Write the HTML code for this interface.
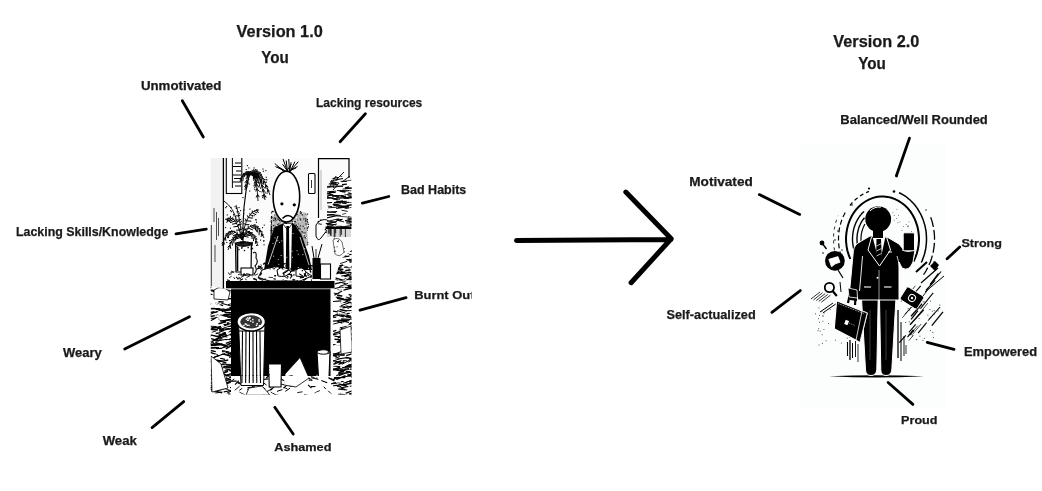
<!DOCTYPE html>
<html><head><meta charset="utf-8"><style>
html,body{margin:0;padding:0;background:#fff;width:1042px;height:491px;overflow:hidden}
svg{position:absolute;left:0;top:0;display:block;will-change:transform}
text{font-family:"Liberation Sans",sans-serif;font-weight:bold;fill:#1a1a1a;stroke:#1a1a1a;stroke-width:0.25px}
</style></head><body>
<svg width="1042" height="491" viewBox="0 0 1042 491">
<g id="leftimg"><clipPath id="lclip"><rect x="210.5" y="158" width="141.0" height="236.5"/></clipPath>
<g clip-path="url(#lclip)">
<rect x="210.5" y="158" width="141.0" height="236.5" fill="#fbfbfb"/>
<rect x="210.5" y="158" width="12" height="130" fill="#f2f2f2"/>
<line x1="223.4" y1="158" x2="223.4" y2="290" stroke="#000" stroke-width="1.3"/>
<rect x="226.3" y="157" width="15.5" height="36.5" fill="none" stroke="#000" stroke-width="1.1"/>
<line x1="235" y1="163" x2="241" y2="163" stroke="#000" stroke-width="1.1"/>
<line x1="233" y1="166.5" x2="241" y2="166.5" stroke="#000" stroke-width="1.1"/>
<line x1="236" y1="171" x2="241" y2="171" stroke="#000" stroke-width="1.1"/>
<line x1="233" y1="175" x2="241" y2="175" stroke="#000" stroke-width="1.1"/>
<line x1="234" y1="178.5" x2="241" y2="178.5" stroke="#000" stroke-width="1.1"/>
<line x1="233" y1="182" x2="241" y2="182" stroke="#000" stroke-width="1.1"/>
<line x1="235" y1="186" x2="241" y2="186" stroke="#000" stroke-width="1.1"/>
<line x1="232.4" y1="158" x2="232.4" y2="188" stroke="#000" stroke-width="1.0"/>
<rect x="308.5" y="173.5" width="6.5" height="20" rx="1" fill="#fff" stroke="#000" stroke-width="1.1"/>
<line x1="311.5" y1="180" x2="311.5" y2="188" stroke="#000" stroke-width="0.8"/>
<path d="M318.5 218 L318.5 158.6 L349 158.6 L349 178" fill="none" stroke="#000" stroke-width="1.2"/>
<line x1="321" y1="170" x2="321" y2="210" stroke="#888" stroke-width="0.6"/>
<path d="M243.0 243.0 Q242.0 205.0 249.0 176.0" fill="none" stroke="#000" stroke-width="1.1"/>
<path d="M224 201 Q234 208 237 222" fill="none" stroke="#000" stroke-width="0.9"/>
<path d="M249.0 176.0 Q257.0 160.0 270.0 195.0" fill="none" stroke="#000" stroke-width="0.9"/>
<line x1="250.4" y1="173.7" x2="255.2" y2="175.1" stroke="#000" stroke-width="1.0"/>
<line x1="250.4" y1="173.7" x2="249.9" y2="171.2" stroke="#000" stroke-width="1.0"/>
<line x1="251.8" y1="172.1" x2="256.0" y2="174.3" stroke="#000" stroke-width="1.0"/>
<line x1="251.8" y1="172.1" x2="252.4" y2="170.0" stroke="#000" stroke-width="1.0"/>
<line x1="253.3" y1="171.2" x2="258.2" y2="175.8" stroke="#000" stroke-width="1.0"/>
<line x1="253.3" y1="171.2" x2="255.9" y2="169.2" stroke="#000" stroke-width="1.0"/>
<line x1="254.9" y1="171.0" x2="257.3" y2="175.4" stroke="#000" stroke-width="1.0"/>
<line x1="254.9" y1="171.0" x2="257.8" y2="170.7" stroke="#000" stroke-width="1.0"/>
<line x1="256.5" y1="171.5" x2="258.1" y2="177.8" stroke="#000" stroke-width="1.0"/>
<line x1="256.5" y1="171.5" x2="260.8" y2="172.6" stroke="#000" stroke-width="1.0"/>
<line x1="258.2" y1="172.8" x2="258.7" y2="178.3" stroke="#000" stroke-width="1.0"/>
<line x1="258.2" y1="172.8" x2="262.0" y2="174.6" stroke="#000" stroke-width="1.0"/>
<line x1="260.0" y1="174.7" x2="259.9" y2="179.0" stroke="#000" stroke-width="1.0"/>
<line x1="260.0" y1="174.7" x2="262.8" y2="176.6" stroke="#000" stroke-width="1.0"/>
<line x1="261.9" y1="177.3" x2="261.3" y2="182.4" stroke="#000" stroke-width="1.0"/>
<line x1="261.9" y1="177.3" x2="265.2" y2="180.0" stroke="#000" stroke-width="1.0"/>
<line x1="263.8" y1="180.7" x2="263.2" y2="184.2" stroke="#000" stroke-width="1.0"/>
<line x1="263.8" y1="180.7" x2="266.0" y2="182.7" stroke="#000" stroke-width="1.0"/>
<line x1="265.8" y1="184.8" x2="265.0" y2="188.8" stroke="#000" stroke-width="1.0"/>
<line x1="265.8" y1="184.8" x2="268.3" y2="187.2" stroke="#000" stroke-width="1.0"/>
<line x1="267.9" y1="189.5" x2="267.2" y2="192.4" stroke="#000" stroke-width="1.0"/>
<line x1="267.9" y1="189.5" x2="269.7" y2="191.4" stroke="#000" stroke-width="1.0"/>
<path d="M249.0 176.0 Q260.0 166.0 265.0 200.0" fill="none" stroke="#000" stroke-width="0.9"/>
<line x1="251.0" y1="174.5" x2="254.7" y2="177.2" stroke="#000" stroke-width="1.0"/>
<line x1="251.0" y1="174.5" x2="252.2" y2="172.8" stroke="#000" stroke-width="1.0"/>
<line x1="252.8" y1="173.8" x2="256.6" y2="178.2" stroke="#000" stroke-width="1.0"/>
<line x1="252.8" y1="173.8" x2="255.4" y2="172.5" stroke="#000" stroke-width="1.0"/>
<line x1="254.6" y1="173.8" x2="257.5" y2="180.4" stroke="#000" stroke-width="1.0"/>
<line x1="254.6" y1="173.8" x2="258.9" y2="173.8" stroke="#000" stroke-width="1.0"/>
<line x1="256.2" y1="174.5" x2="257.0" y2="179.3" stroke="#000" stroke-width="1.0"/>
<line x1="256.2" y1="174.5" x2="259.4" y2="175.7" stroke="#000" stroke-width="1.0"/>
<line x1="257.8" y1="176.0" x2="257.6" y2="180.8" stroke="#000" stroke-width="1.0"/>
<line x1="257.8" y1="176.0" x2="260.9" y2="178.1" stroke="#000" stroke-width="1.0"/>
<line x1="259.2" y1="178.2" x2="258.4" y2="183.6" stroke="#000" stroke-width="1.0"/>
<line x1="259.2" y1="178.2" x2="262.7" y2="181.3" stroke="#000" stroke-width="1.0"/>
<line x1="260.6" y1="181.1" x2="259.2" y2="186.7" stroke="#000" stroke-width="1.0"/>
<line x1="260.6" y1="181.1" x2="264.1" y2="184.8" stroke="#000" stroke-width="1.0"/>
<line x1="261.8" y1="184.7" x2="260.6" y2="189.0" stroke="#000" stroke-width="1.0"/>
<line x1="261.8" y1="184.7" x2="264.4" y2="187.8" stroke="#000" stroke-width="1.0"/>
<line x1="263.0" y1="189.1" x2="261.8" y2="192.5" stroke="#000" stroke-width="1.0"/>
<line x1="263.0" y1="189.1" x2="265.0" y2="191.8" stroke="#000" stroke-width="1.0"/>
<line x1="264.0" y1="194.2" x2="262.5" y2="198.1" stroke="#000" stroke-width="1.0"/>
<line x1="264.0" y1="194.2" x2="266.4" y2="197.4" stroke="#000" stroke-width="1.0"/>
<path d="M249.0 176.0 Q256.0 165.0 258.0 201.0" fill="none" stroke="#000" stroke-width="0.9"/>
<line x1="250.4" y1="174.3" x2="254.0" y2="175.9" stroke="#000" stroke-width="1.0"/>
<line x1="250.4" y1="174.3" x2="250.6" y2="172.4" stroke="#000" stroke-width="1.0"/>
<line x1="251.6" y1="173.5" x2="256.4" y2="178.6" stroke="#000" stroke-width="1.0"/>
<line x1="251.6" y1="173.5" x2="254.6" y2="171.7" stroke="#000" stroke-width="1.0"/>
<line x1="252.7" y1="173.6" x2="254.0" y2="179.1" stroke="#000" stroke-width="1.0"/>
<line x1="252.7" y1="173.6" x2="256.4" y2="174.7" stroke="#000" stroke-width="1.0"/>
<line x1="253.8" y1="174.7" x2="253.3" y2="179.4" stroke="#000" stroke-width="1.0"/>
<line x1="253.8" y1="174.7" x2="256.9" y2="177.2" stroke="#000" stroke-width="1.0"/>
<line x1="254.8" y1="176.8" x2="253.7" y2="180.9" stroke="#000" stroke-width="1.0"/>
<line x1="254.8" y1="176.8" x2="257.3" y2="179.6" stroke="#000" stroke-width="1.0"/>
<line x1="255.6" y1="179.7" x2="254.2" y2="183.8" stroke="#000" stroke-width="1.0"/>
<line x1="255.6" y1="179.7" x2="258.0" y2="182.9" stroke="#000" stroke-width="1.0"/>
<line x1="256.4" y1="183.6" x2="254.5" y2="188.3" stroke="#000" stroke-width="1.0"/>
<line x1="256.4" y1="183.6" x2="259.0" y2="187.6" stroke="#000" stroke-width="1.0"/>
<line x1="257.0" y1="188.5" x2="255.7" y2="191.4" stroke="#000" stroke-width="1.0"/>
<line x1="257.0" y1="188.5" x2="258.7" y2="191.1" stroke="#000" stroke-width="1.0"/>
<line x1="257.6" y1="194.3" x2="256.1" y2="197.5" stroke="#000" stroke-width="1.0"/>
<line x1="257.6" y1="194.3" x2="259.3" y2="197.2" stroke="#000" stroke-width="1.0"/>
<path d="M249.0 176.0 Q250.0 163.0 245.0 190.0" fill="none" stroke="#000" stroke-width="0.9"/>
<line x1="249.1" y1="173.6" x2="252.3" y2="172.6" stroke="#000" stroke-width="1.0"/>
<line x1="249.1" y1="173.6" x2="246.2" y2="172.3" stroke="#000" stroke-width="1.0"/>
<line x1="249.1" y1="172.2" x2="251.4" y2="171.1" stroke="#000" stroke-width="1.0"/>
<line x1="249.1" y1="172.2" x2="246.5" y2="171.5" stroke="#000" stroke-width="1.0"/>
<line x1="249.0" y1="171.8" x2="245.6" y2="172.2" stroke="#000" stroke-width="1.0"/>
<line x1="249.0" y1="171.8" x2="247.1" y2="176.9" stroke="#000" stroke-width="1.0"/>
<line x1="248.7" y1="172.3" x2="246.4" y2="174.9" stroke="#000" stroke-width="1.0"/>
<line x1="248.7" y1="172.3" x2="249.7" y2="176.0" stroke="#000" stroke-width="1.0"/>
<line x1="248.3" y1="173.9" x2="246.3" y2="176.4" stroke="#000" stroke-width="1.0"/>
<line x1="248.3" y1="173.9" x2="249.3" y2="177.1" stroke="#000" stroke-width="1.0"/>
<line x1="247.7" y1="176.4" x2="245.8" y2="179.0" stroke="#000" stroke-width="1.0"/>
<line x1="247.7" y1="176.4" x2="248.8" y2="179.6" stroke="#000" stroke-width="1.0"/>
<line x1="246.9" y1="180.0" x2="244.8" y2="182.9" stroke="#000" stroke-width="1.0"/>
<line x1="246.9" y1="180.0" x2="248.3" y2="183.6" stroke="#000" stroke-width="1.0"/>
<line x1="246.0" y1="184.5" x2="244.4" y2="186.8" stroke="#000" stroke-width="1.0"/>
<line x1="246.0" y1="184.5" x2="247.1" y2="187.3" stroke="#000" stroke-width="1.0"/>
<path d="M249.0 176.0 Q245.0 168.0 240.0 182.0" fill="none" stroke="#000" stroke-width="0.9"/>
<line x1="247.8" y1="174.2" x2="247.9" y2="172.6" stroke="#000" stroke-width="1.0"/>
<line x1="247.8" y1="174.2" x2="244.8" y2="175.3" stroke="#000" stroke-width="1.0"/>
<line x1="246.6" y1="173.2" x2="245.2" y2="172.0" stroke="#000" stroke-width="1.0"/>
<line x1="246.6" y1="173.2" x2="243.7" y2="175.9" stroke="#000" stroke-width="1.0"/>
<line x1="245.4" y1="173.2" x2="243.0" y2="173.4" stroke="#000" stroke-width="1.0"/>
<line x1="245.4" y1="173.2" x2="244.0" y2="176.8" stroke="#000" stroke-width="1.0"/>
<line x1="244.1" y1="174.0" x2="242.0" y2="175.2" stroke="#000" stroke-width="1.0"/>
<line x1="244.1" y1="174.0" x2="244.0" y2="177.3" stroke="#000" stroke-width="1.0"/>
<line x1="242.8" y1="175.8" x2="240.5" y2="177.7" stroke="#000" stroke-width="1.0"/>
<line x1="242.8" y1="175.8" x2="243.2" y2="179.4" stroke="#000" stroke-width="1.0"/>
<line x1="241.4" y1="178.4" x2="239.6" y2="180.2" stroke="#000" stroke-width="1.0"/>
<line x1="241.4" y1="178.4" x2="242.0" y2="181.3" stroke="#000" stroke-width="1.0"/>
<path d="M242.0 240.0 Q246.0 210.0 259.0 210.0" fill="none" stroke="#000" stroke-width="0.9"/>
<line x1="242.9" y1="234.3" x2="246.6" y2="233.7" stroke="#000" stroke-width="1.0"/>
<line x1="242.9" y1="234.3" x2="240.5" y2="232.6" stroke="#000" stroke-width="1.0"/>
<line x1="244.0" y1="229.2" x2="248.3" y2="228.8" stroke="#000" stroke-width="1.0"/>
<line x1="244.0" y1="229.2" x2="241.5" y2="227.2" stroke="#000" stroke-width="1.0"/>
<line x1="245.2" y1="224.7" x2="249.3" y2="224.6" stroke="#000" stroke-width="1.0"/>
<line x1="245.2" y1="224.7" x2="243.3" y2="222.7" stroke="#000" stroke-width="1.0"/>
<line x1="246.6" y1="220.8" x2="251.3" y2="221.2" stroke="#000" stroke-width="1.0"/>
<line x1="246.6" y1="220.8" x2="245.0" y2="218.5" stroke="#000" stroke-width="1.0"/>
<line x1="248.2" y1="217.5" x2="252.5" y2="218.3" stroke="#000" stroke-width="1.0"/>
<line x1="248.2" y1="217.5" x2="247.3" y2="215.3" stroke="#000" stroke-width="1.0"/>
<line x1="250.0" y1="214.8" x2="253.2" y2="215.8" stroke="#000" stroke-width="1.0"/>
<line x1="250.0" y1="214.8" x2="249.8" y2="213.2" stroke="#000" stroke-width="1.0"/>
<line x1="252.0" y1="212.7" x2="256.2" y2="214.8" stroke="#000" stroke-width="1.0"/>
<line x1="252.0" y1="212.7" x2="252.5" y2="210.6" stroke="#000" stroke-width="1.0"/>
<line x1="254.2" y1="211.2" x2="256.5" y2="212.9" stroke="#000" stroke-width="1.0"/>
<line x1="254.2" y1="211.2" x2="255.0" y2="210.2" stroke="#000" stroke-width="1.0"/>
<line x1="256.5" y1="210.3" x2="258.7" y2="212.7" stroke="#000" stroke-width="1.0"/>
<line x1="256.5" y1="210.3" x2="257.9" y2="209.5" stroke="#000" stroke-width="1.0"/>
<path d="M242.0 240.0 Q252.0 212.0 264.0 238.0" fill="none" stroke="#000" stroke-width="0.9"/>
<line x1="244.0" y1="234.9" x2="249.6" y2="235.5" stroke="#000" stroke-width="1.0"/>
<line x1="244.0" y1="234.9" x2="242.2" y2="232.2" stroke="#000" stroke-width="1.0"/>
<line x1="246.1" y1="231.0" x2="250.0" y2="231.8" stroke="#000" stroke-width="1.0"/>
<line x1="246.1" y1="231.0" x2="245.3" y2="229.0" stroke="#000" stroke-width="1.0"/>
<line x1="248.2" y1="228.1" x2="252.8" y2="229.9" stroke="#000" stroke-width="1.0"/>
<line x1="248.2" y1="228.1" x2="248.2" y2="225.7" stroke="#000" stroke-width="1.0"/>
<line x1="250.3" y1="226.2" x2="253.6" y2="228.5" stroke="#000" stroke-width="1.0"/>
<line x1="250.3" y1="226.2" x2="251.3" y2="224.7" stroke="#000" stroke-width="1.0"/>
<line x1="252.5" y1="225.5" x2="256.0" y2="230.3" stroke="#000" stroke-width="1.0"/>
<line x1="252.5" y1="225.5" x2="255.5" y2="224.5" stroke="#000" stroke-width="1.0"/>
<line x1="254.7" y1="225.8" x2="256.6" y2="231.6" stroke="#000" stroke-width="1.0"/>
<line x1="254.7" y1="225.8" x2="258.6" y2="226.5" stroke="#000" stroke-width="1.0"/>
<line x1="257.0" y1="227.3" x2="257.4" y2="232.4" stroke="#000" stroke-width="1.0"/>
<line x1="257.0" y1="227.3" x2="260.4" y2="228.9" stroke="#000" stroke-width="1.0"/>
<line x1="259.3" y1="229.8" x2="259.0" y2="235.1" stroke="#000" stroke-width="1.0"/>
<line x1="259.3" y1="229.8" x2="262.8" y2="232.2" stroke="#000" stroke-width="1.0"/>
<line x1="261.6" y1="233.3" x2="261.1" y2="236.8" stroke="#000" stroke-width="1.0"/>
<line x1="261.6" y1="233.3" x2="263.9" y2="235.3" stroke="#000" stroke-width="1.0"/>
<path d="M242.0 240.0 Q250.0 222.0 258.0 246.0" fill="none" stroke="#000" stroke-width="0.9"/>
<line x1="244.0" y1="236.2" x2="248.5" y2="237.2" stroke="#000" stroke-width="1.0"/>
<line x1="244.0" y1="236.2" x2="243.2" y2="233.9" stroke="#000" stroke-width="1.0"/>
<line x1="246.0" y1="233.6" x2="250.1" y2="235.6" stroke="#000" stroke-width="1.0"/>
<line x1="246.0" y1="233.6" x2="246.4" y2="231.6" stroke="#000" stroke-width="1.0"/>
<line x1="248.0" y1="232.4" x2="251.3" y2="235.9" stroke="#000" stroke-width="1.0"/>
<line x1="248.0" y1="232.4" x2="250.0" y2="231.1" stroke="#000" stroke-width="1.0"/>
<line x1="250.0" y1="232.5" x2="251.5" y2="236.8" stroke="#000" stroke-width="1.0"/>
<line x1="250.0" y1="232.5" x2="252.9" y2="232.9" stroke="#000" stroke-width="1.0"/>
<line x1="252.0" y1="233.9" x2="252.1" y2="239.0" stroke="#000" stroke-width="1.0"/>
<line x1="252.0" y1="233.9" x2="255.4" y2="235.8" stroke="#000" stroke-width="1.0"/>
<line x1="254.0" y1="236.6" x2="253.4" y2="241.2" stroke="#000" stroke-width="1.0"/>
<line x1="254.0" y1="236.6" x2="257.0" y2="239.1" stroke="#000" stroke-width="1.0"/>
<line x1="256.0" y1="240.7" x2="255.3" y2="243.8" stroke="#000" stroke-width="1.0"/>
<line x1="256.0" y1="240.7" x2="257.9" y2="242.6" stroke="#000" stroke-width="1.0"/>
<path d="M242.0 240.0 Q236.0 212.0 226.0 220.0" fill="none" stroke="#000" stroke-width="0.9"/>
<line x1="240.8" y1="234.8" x2="243.4" y2="232.5" stroke="#000" stroke-width="1.0"/>
<line x1="240.8" y1="234.8" x2="235.9" y2="234.4" stroke="#000" stroke-width="1.0"/>
<line x1="239.4" y1="230.2" x2="241.0" y2="228.6" stroke="#000" stroke-width="1.0"/>
<line x1="239.4" y1="230.2" x2="236.1" y2="230.2" stroke="#000" stroke-width="1.0"/>
<line x1="238.0" y1="226.4" x2="239.7" y2="224.1" stroke="#000" stroke-width="1.0"/>
<line x1="238.0" y1="226.4" x2="233.4" y2="226.8" stroke="#000" stroke-width="1.0"/>
<line x1="236.6" y1="223.4" x2="237.6" y2="221.1" stroke="#000" stroke-width="1.0"/>
<line x1="236.6" y1="223.4" x2="232.1" y2="224.2" stroke="#000" stroke-width="1.0"/>
<line x1="235.0" y1="221.0" x2="235.3" y2="218.5" stroke="#000" stroke-width="1.0"/>
<line x1="235.0" y1="221.0" x2="230.0" y2="222.7" stroke="#000" stroke-width="1.0"/>
<line x1="233.4" y1="219.4" x2="232.5" y2="217.3" stroke="#000" stroke-width="1.0"/>
<line x1="233.4" y1="219.4" x2="229.1" y2="221.8" stroke="#000" stroke-width="1.0"/>
<line x1="231.6" y1="218.4" x2="230.1" y2="217.4" stroke="#000" stroke-width="1.0"/>
<line x1="231.6" y1="218.4" x2="229.0" y2="221.1" stroke="#000" stroke-width="1.0"/>
<line x1="229.8" y1="218.2" x2="227.6" y2="218.0" stroke="#000" stroke-width="1.0"/>
<line x1="229.8" y1="218.2" x2="227.9" y2="221.7" stroke="#000" stroke-width="1.0"/>
<line x1="228.0" y1="218.8" x2="225.2" y2="219.3" stroke="#000" stroke-width="1.0"/>
<line x1="228.0" y1="218.8" x2="226.8" y2="222.8" stroke="#000" stroke-width="1.0"/>
<path d="M242.0 240.0 Q230.0 220.0 222.0 246.0" fill="none" stroke="#000" stroke-width="0.9"/>
<line x1="239.6" y1="236.5" x2="239.9" y2="234.7" stroke="#000" stroke-width="1.0"/>
<line x1="239.6" y1="236.5" x2="236.1" y2="237.6" stroke="#000" stroke-width="1.0"/>
<line x1="237.4" y1="233.8" x2="237.0" y2="231.6" stroke="#000" stroke-width="1.0"/>
<line x1="237.4" y1="233.8" x2="232.9" y2="235.9" stroke="#000" stroke-width="1.0"/>
<line x1="235.2" y1="232.1" x2="234.1" y2="230.6" stroke="#000" stroke-width="1.0"/>
<line x1="235.2" y1="232.1" x2="231.7" y2="234.6" stroke="#000" stroke-width="1.0"/>
<line x1="233.0" y1="231.4" x2="231.0" y2="230.5" stroke="#000" stroke-width="1.0"/>
<line x1="233.0" y1="231.4" x2="230.4" y2="234.6" stroke="#000" stroke-width="1.0"/>
<line x1="231.0" y1="231.5" x2="228.5" y2="231.7" stroke="#000" stroke-width="1.0"/>
<line x1="231.0" y1="231.5" x2="229.5" y2="235.2" stroke="#000" stroke-width="1.0"/>
<line x1="229.0" y1="232.6" x2="225.3" y2="234.2" stroke="#000" stroke-width="1.0"/>
<line x1="229.0" y1="232.6" x2="228.4" y2="238.1" stroke="#000" stroke-width="1.0"/>
<line x1="227.2" y1="234.5" x2="224.8" y2="236.2" stroke="#000" stroke-width="1.0"/>
<line x1="227.2" y1="234.5" x2="227.4" y2="238.1" stroke="#000" stroke-width="1.0"/>
<line x1="225.4" y1="237.4" x2="223.2" y2="239.4" stroke="#000" stroke-width="1.0"/>
<line x1="225.4" y1="237.4" x2="225.9" y2="240.8" stroke="#000" stroke-width="1.0"/>
<line x1="223.6" y1="241.3" x2="221.7" y2="243.4" stroke="#000" stroke-width="1.0"/>
<line x1="223.6" y1="241.3" x2="224.4" y2="244.5" stroke="#000" stroke-width="1.0"/>
<path d="M242.0 240.0 Q236.0 228.0 228.0 250.0" fill="none" stroke="#000" stroke-width="0.9"/>
<line x1="240.5" y1="237.5" x2="240.7" y2="235.0" stroke="#000" stroke-width="1.0"/>
<line x1="240.5" y1="237.5" x2="235.5" y2="239.2" stroke="#000" stroke-width="1.0"/>
<line x1="238.9" y1="236.1" x2="237.8" y2="234.8" stroke="#000" stroke-width="1.0"/>
<line x1="238.9" y1="236.1" x2="235.9" y2="238.3" stroke="#000" stroke-width="1.0"/>
<line x1="237.2" y1="235.8" x2="234.4" y2="235.5" stroke="#000" stroke-width="1.0"/>
<line x1="237.2" y1="235.8" x2="234.9" y2="240.1" stroke="#000" stroke-width="1.0"/>
<line x1="235.5" y1="236.5" x2="232.2" y2="237.8" stroke="#000" stroke-width="1.0"/>
<line x1="235.5" y1="236.5" x2="234.8" y2="241.3" stroke="#000" stroke-width="1.0"/>
<line x1="233.7" y1="238.3" x2="230.3" y2="240.6" stroke="#000" stroke-width="1.0"/>
<line x1="233.7" y1="238.3" x2="233.9" y2="243.4" stroke="#000" stroke-width="1.0"/>
<line x1="231.9" y1="241.1" x2="229.1" y2="243.6" stroke="#000" stroke-width="1.0"/>
<line x1="231.9" y1="241.1" x2="232.5" y2="245.5" stroke="#000" stroke-width="1.0"/>
<line x1="230.0" y1="245.0" x2="227.6" y2="247.4" stroke="#000" stroke-width="1.0"/>
<line x1="230.0" y1="245.0" x2="230.8" y2="248.8" stroke="#000" stroke-width="1.0"/>
<path d="M242.0 240.0 Q240.0 218.0 236.0 205.0" fill="none" stroke="#000" stroke-width="0.9"/>
<line x1="241.5" y1="234.6" x2="243.4" y2="233.6" stroke="#000" stroke-width="1.0"/>
<line x1="241.5" y1="234.6" x2="239.0" y2="234.1" stroke="#000" stroke-width="1.0"/>
<line x1="240.9" y1="229.6" x2="242.7" y2="228.5" stroke="#000" stroke-width="1.0"/>
<line x1="240.9" y1="229.6" x2="238.4" y2="229.0" stroke="#000" stroke-width="1.0"/>
<line x1="240.2" y1="224.8" x2="241.8" y2="223.8" stroke="#000" stroke-width="1.0"/>
<line x1="240.2" y1="224.8" x2="238.0" y2="224.4" stroke="#000" stroke-width="1.0"/>
<line x1="239.5" y1="220.2" x2="241.3" y2="219.1" stroke="#000" stroke-width="1.0"/>
<line x1="239.5" y1="220.2" x2="236.9" y2="219.8" stroke="#000" stroke-width="1.0"/>
<line x1="238.7" y1="216.0" x2="240.3" y2="214.9" stroke="#000" stroke-width="1.0"/>
<line x1="238.7" y1="216.0" x2="236.2" y2="215.7" stroke="#000" stroke-width="1.0"/>
<line x1="237.9" y1="212.1" x2="238.7" y2="211.4" stroke="#000" stroke-width="1.0"/>
<line x1="237.9" y1="212.1" x2="236.4" y2="211.9" stroke="#000" stroke-width="1.0"/>
<line x1="237.0" y1="208.4" x2="237.7" y2="207.8" stroke="#000" stroke-width="1.0"/>
<line x1="237.0" y1="208.4" x2="235.7" y2="208.3" stroke="#000" stroke-width="1.0"/>
<rect x="233.3" y="215.3" width="1.1" height="1.1" fill="#000"/>
<rect x="243.4" y="229.6" width="1.1" height="1.1" fill="#000"/>
<rect x="234.5" y="206.2" width="1.1" height="1.1" fill="#000"/>
<rect x="240.8" y="220.8" width="1.1" height="1.1" fill="#000"/>
<rect x="246.7" y="244.1" width="1.1" height="1.1" fill="#000"/>
<rect x="251.6" y="226.6" width="1.1" height="1.1" fill="#000"/>
<rect x="248.7" y="233.0" width="1.1" height="1.1" fill="#000"/>
<rect x="226.2" y="242.0" width="1.1" height="1.1" fill="#000"/>
<rect x="255.2" y="241.0" width="1.1" height="1.1" fill="#000"/>
<rect x="255.9" y="221.7" width="1.1" height="1.1" fill="#000"/>
<rect x="240.0" y="210.1" width="1.1" height="1.1" fill="#000"/>
<rect x="249.4" y="208.5" width="1.1" height="1.1" fill="#000"/>
<rect x="226.7" y="214.4" width="1.1" height="1.1" fill="#000"/>
<rect x="230.5" y="219.6" width="1.1" height="1.1" fill="#000"/>
<rect x="226.1" y="206.0" width="1.1" height="1.1" fill="#000"/>
<rect x="230.1" y="210.1" width="1.1" height="1.1" fill="#000"/>
<rect x="238.5" y="207.0" width="1.1" height="1.1" fill="#000"/>
<rect x="259.0" y="230.6" width="1.1" height="1.1" fill="#000"/>
<rect x="229.9" y="216.1" width="1.1" height="1.1" fill="#000"/>
<rect x="237.9" y="220.6" width="1.1" height="1.1" fill="#000"/>
<rect x="228.9" y="240.0" width="1.1" height="1.1" fill="#000"/>
<rect x="263.7" y="224.6" width="1.1" height="1.1" fill="#000"/>
<rect x="243.4" y="209.4" width="1.1" height="1.1" fill="#000"/>
<rect x="228.1" y="219.7" width="1.1" height="1.1" fill="#000"/>
<rect x="234.6" y="239.2" width="1.1" height="1.1" fill="#000"/>
<rect x="230.5" y="206.9" width="1.1" height="1.1" fill="#000"/>
<rect x="262.0" y="227.1" width="1.1" height="1.1" fill="#000"/>
<rect x="229.9" y="227.7" width="1.1" height="1.1" fill="#000"/>
<rect x="225.1" y="227.1" width="1.1" height="1.1" fill="#000"/>
<rect x="263.1" y="240.5" width="1.1" height="1.1" fill="#000"/>
<rect x="251.8" y="216.4" width="1.1" height="1.1" fill="#000"/>
<rect x="238.7" y="212.7" width="1.1" height="1.1" fill="#000"/>
<rect x="254.9" y="227.3" width="1.1" height="1.1" fill="#000"/>
<rect x="255.2" y="219.2" width="1.1" height="1.1" fill="#000"/>
<rect x="232.9" y="238.5" width="1.1" height="1.1" fill="#000"/>
<rect x="263.4" y="240.1" width="1.1" height="1.1" fill="#000"/>
<rect x="256.2" y="238.7" width="1.1" height="1.1" fill="#000"/>
<rect x="253.6" y="215.1" width="1.1" height="1.1" fill="#000"/>
<rect x="244.7" y="220.2" width="1.1" height="1.1" fill="#000"/>
<rect x="225.2" y="207.1" width="1.1" height="1.1" fill="#000"/>
<rect x="235.2" y="216.4" width="1.1" height="1.1" fill="#000"/>
<rect x="251.7" y="244.3" width="1.1" height="1.1" fill="#000"/>
<rect x="241.9" y="243.5" width="1.1" height="1.1" fill="#000"/>
<rect x="263.5" y="244.2" width="1.1" height="1.1" fill="#000"/>
<rect x="238.6" y="214.8" width="1.1" height="1.1" fill="#000"/>
<rect x="233.1" y="213.9" width="1.1" height="1.1" fill="#000"/>
<rect x="232.2" y="231.0" width="1.1" height="1.1" fill="#000"/>
<rect x="260.0" y="239.6" width="1.1" height="1.1" fill="#000"/>
<rect x="243.2" y="232.1" width="1.1" height="1.1" fill="#000"/>
<rect x="256.0" y="209.4" width="1.1" height="1.1" fill="#000"/>
<rect x="250.4" y="242.4" width="1.1" height="1.1" fill="#000"/>
<rect x="255.3" y="236.0" width="1.1" height="1.1" fill="#000"/>
<rect x="243.1" y="213.1" width="1.1" height="1.1" fill="#000"/>
<rect x="255.6" y="219.3" width="1.1" height="1.1" fill="#000"/>
<rect x="256.0" y="244.9" width="1.1" height="1.1" fill="#000"/>
<rect x="239.8" y="222.1" width="1.1" height="1.1" fill="#000"/>
<rect x="261.9" y="235.0" width="1.1" height="1.1" fill="#000"/>
<rect x="230.8" y="211.1" width="1.1" height="1.1" fill="#000"/>
<rect x="230.0" y="242.2" width="1.1" height="1.1" fill="#000"/>
<rect x="256.3" y="211.8" width="1.1" height="1.1" fill="#000"/>
<rect x="263.5" y="197.4" width="1.1" height="1.1" fill="#000"/>
<rect x="259.1" y="176.6" width="1.1" height="1.1" fill="#000"/>
<rect x="256.3" y="169.3" width="1.1" height="1.1" fill="#000"/>
<rect x="242.4" y="197.0" width="1.1" height="1.1" fill="#000"/>
<rect x="258.9" y="182.4" width="1.1" height="1.1" fill="#000"/>
<rect x="266.3" y="179.3" width="1.1" height="1.1" fill="#000"/>
<rect x="264.7" y="192.3" width="1.1" height="1.1" fill="#000"/>
<rect x="247.5" y="173.3" width="1.1" height="1.1" fill="#000"/>
<rect x="249.6" y="172.9" width="1.1" height="1.1" fill="#000"/>
<rect x="257.2" y="173.6" width="1.1" height="1.1" fill="#000"/>
<rect x="252.9" y="169.3" width="1.1" height="1.1" fill="#000"/>
<rect x="265.7" y="176.7" width="1.1" height="1.1" fill="#000"/>
<rect x="253.9" y="184.3" width="1.1" height="1.1" fill="#000"/>
<rect x="265.5" y="178.9" width="1.1" height="1.1" fill="#000"/>
<rect x="265.9" y="181.6" width="1.1" height="1.1" fill="#000"/>
<rect x="255.8" y="182.3" width="1.1" height="1.1" fill="#000"/>
<rect x="242.5" y="179.5" width="1.1" height="1.1" fill="#000"/>
<rect x="246.8" y="165.1" width="1.1" height="1.1" fill="#000"/>
<rect x="262.8" y="170.7" width="1.1" height="1.1" fill="#000"/>
<rect x="254.3" y="188.9" width="1.1" height="1.1" fill="#000"/>
<rect x="256.5" y="175.8" width="1.1" height="1.1" fill="#000"/>
<rect x="255.5" y="183.3" width="1.1" height="1.1" fill="#000"/>
<rect x="262.4" y="168.5" width="1.1" height="1.1" fill="#000"/>
<rect x="256.6" y="173.2" width="1.1" height="1.1" fill="#000"/>
<rect x="249.2" y="190.5" width="1.1" height="1.1" fill="#000"/>
<rect x="255.2" y="183.5" width="1.1" height="1.1" fill="#000"/>
<rect x="261.8" y="195.1" width="1.1" height="1.1" fill="#000"/>
<rect x="253.5" y="185.2" width="1.1" height="1.1" fill="#000"/>
<rect x="255.1" y="181.9" width="1.1" height="1.1" fill="#000"/>
<rect x="260.0" y="179.9" width="1.1" height="1.1" fill="#000"/>
<rect x="255.9" y="180.8" width="1.1" height="1.1" fill="#000"/>
<rect x="266.5" y="188.1" width="1.1" height="1.1" fill="#000"/>
<rect x="264.8" y="196.1" width="1.1" height="1.1" fill="#000"/>
<rect x="248.7" y="183.5" width="1.1" height="1.1" fill="#000"/>
<rect x="266.5" y="192.7" width="1.1" height="1.1" fill="#000"/>
<rect x="245.6" y="169.0" width="1.1" height="1.1" fill="#000"/>
<rect x="253.5" y="167.4" width="1.1" height="1.1" fill="#000"/>
<rect x="248.3" y="167.4" width="1.1" height="1.1" fill="#000"/>
<rect x="259.4" y="190.9" width="1.1" height="1.1" fill="#000"/>
<rect x="265.3" y="170.1" width="1.1" height="1.1" fill="#000"/>
<path d="M235.5 243 L251.5 243 L251 272 L236 272 Z" fill="#fff" stroke="#000" stroke-width="1.2"/>
<ellipse cx="243.5" cy="244" rx="8" ry="2.2" fill="#222" stroke="#000" stroke-width="1"/>
<line x1="237.5" y1="247" x2="237.5" y2="271" stroke="#000" stroke-width="1.6"/>
<rect x="247.5" y="246.9" width="1.3" height="1.3" fill="#000"/>
<rect x="238.3" y="248.9" width="1.3" height="1.3" fill="#000"/>
<rect x="251.5" y="243.0" width="1.3" height="1.3" fill="#000"/>
<rect x="251.2" y="244.6" width="1.3" height="1.3" fill="#000"/>
<rect x="243.8" y="249.9" width="1.3" height="1.3" fill="#000"/>
<rect x="249.3" y="242.5" width="1.3" height="1.3" fill="#000"/>
<rect x="242.9" y="245.6" width="1.3" height="1.3" fill="#000"/>
<rect x="241.4" y="242.8" width="1.3" height="1.3" fill="#000"/>
<rect x="241.1" y="247.5" width="1.3" height="1.3" fill="#000"/>
<rect x="236.3" y="246.0" width="1.3" height="1.3" fill="#000"/>
<rect x="243.0" y="241.2" width="1.3" height="1.3" fill="#000"/>
<rect x="241.3" y="246.6" width="1.3" height="1.3" fill="#000"/>
<rect x="244.2" y="241.6" width="1.3" height="1.3" fill="#000"/>
<rect x="251.8" y="248.1" width="1.3" height="1.3" fill="#000"/>
<rect x="251.5" y="241.9" width="1.3" height="1.3" fill="#000"/>
<rect x="240.2" y="241.4" width="1.3" height="1.3" fill="#000"/>
<rect x="248.5" y="243.4" width="1.3" height="1.3" fill="#000"/>
<rect x="238.1" y="244.8" width="1.3" height="1.3" fill="#000"/>
<rect x="250.6" y="248.4" width="1.3" height="1.3" fill="#000"/>
<rect x="240.1" y="242.3" width="1.3" height="1.3" fill="#000"/>
<rect x="250.7" y="246.1" width="1.3" height="1.3" fill="#000"/>
<rect x="247.2" y="241.8" width="1.3" height="1.3" fill="#000"/>
<rect x="236.9" y="247.2" width="1.3" height="1.3" fill="#000"/>
<rect x="242.8" y="241.7" width="1.3" height="1.3" fill="#000"/>
<rect x="251.0" y="246.7" width="1.3" height="1.3" fill="#000"/>
<path d="M253 253 Q257 250 256 258 Q259 262 255 266 Q258 270 254 274" fill="none" stroke="#000" stroke-width="1.1"/>
<line x1="211.2" y1="225" x2="211.2" y2="290" stroke="#333" stroke-width="1.2"/>
<line x1="214" y1="208" x2="214" y2="222" stroke="#222" stroke-width="0.8"/>
<line x1="216.5" y1="212" x2="216.5" y2="240" stroke="#222" stroke-width="0.8"/>
<line x1="218.5" y1="218" x2="218.5" y2="236" stroke="#222" stroke-width="0.8"/>
<line x1="215" y1="245" x2="215" y2="262" stroke="#222" stroke-width="0.8"/>
<rect x="241" y="268" width="12" height="7" fill="#fff" stroke="#000" stroke-width="1.1"/>
<path d="M270 246 L271.5 215 Q288 208 306.5 213 L308 246 Z" fill="#b8b8b8"/>
<path d="M271 246 L271.5 216" fill="none" stroke="#000" stroke-width="1.2"/>
<rect x="300.5" y="213.0" width="1.1" height="1.1" fill="#000"/>
<rect x="272.5" y="241.1" width="1.1" height="1.1" fill="#666"/>
<rect x="270.4" y="245.8" width="1.1" height="1.1" fill="#666"/>
<rect x="305.2" y="219.6" width="1.1" height="1.1" fill="#000"/>
<rect x="271.6" y="235.5" width="1.1" height="1.1" fill="#000"/>
<rect x="306.8" y="219.4" width="1.1" height="1.1" fill="#000"/>
<rect x="277.7" y="221.2" width="1.1" height="1.1" fill="#fff"/>
<rect x="290.2" y="217.4" width="1.1" height="1.1" fill="#666"/>
<rect x="289.0" y="216.4" width="1.1" height="1.1" fill="#fff"/>
<rect x="300.5" y="245.8" width="1.1" height="1.1" fill="#000"/>
<rect x="270.6" y="236.4" width="1.1" height="1.1" fill="#000"/>
<rect x="289.5" y="218.8" width="1.1" height="1.1" fill="#666"/>
<rect x="274.0" y="239.5" width="1.1" height="1.1" fill="#666"/>
<rect x="294.9" y="229.7" width="1.1" height="1.1" fill="#666"/>
<rect x="306.9" y="221.1" width="1.1" height="1.1" fill="#000"/>
<rect x="307.3" y="222.3" width="1.1" height="1.1" fill="#000"/>
<rect x="285.4" y="222.5" width="1.1" height="1.1" fill="#000"/>
<rect x="301.8" y="210.5" width="1.1" height="1.1" fill="#fff"/>
<rect x="286.4" y="212.0" width="1.1" height="1.1" fill="#666"/>
<rect x="303.1" y="234.1" width="1.1" height="1.1" fill="#fff"/>
<rect x="292.8" y="234.9" width="1.1" height="1.1" fill="#000"/>
<rect x="287.5" y="215.7" width="1.1" height="1.1" fill="#666"/>
<rect x="270.1" y="223.1" width="1.1" height="1.1" fill="#fff"/>
<rect x="307.0" y="229.7" width="1.1" height="1.1" fill="#000"/>
<rect x="271.3" y="241.8" width="1.1" height="1.1" fill="#000"/>
<rect x="283.6" y="210.0" width="1.1" height="1.1" fill="#666"/>
<rect x="273.2" y="220.0" width="1.1" height="1.1" fill="#000"/>
<rect x="279.4" y="237.9" width="1.1" height="1.1" fill="#000"/>
<rect x="280.0" y="213.2" width="1.1" height="1.1" fill="#666"/>
<rect x="292.3" y="224.2" width="1.1" height="1.1" fill="#fff"/>
<rect x="281.6" y="218.4" width="1.1" height="1.1" fill="#000"/>
<rect x="295.0" y="235.8" width="1.1" height="1.1" fill="#666"/>
<rect x="299.0" y="235.9" width="1.1" height="1.1" fill="#666"/>
<rect x="275.7" y="236.1" width="1.1" height="1.1" fill="#000"/>
<rect x="271.7" y="240.1" width="1.1" height="1.1" fill="#666"/>
<rect x="297.9" y="239.2" width="1.1" height="1.1" fill="#000"/>
<rect x="304.6" y="237.1" width="1.1" height="1.1" fill="#000"/>
<rect x="301.4" y="231.0" width="1.1" height="1.1" fill="#000"/>
<rect x="273.2" y="211.5" width="1.1" height="1.1" fill="#fff"/>
<rect x="306.5" y="223.6" width="1.1" height="1.1" fill="#666"/>
<rect x="291.2" y="232.6" width="1.1" height="1.1" fill="#000"/>
<rect x="288.6" y="210.1" width="1.1" height="1.1" fill="#000"/>
<rect x="298.4" y="228.1" width="1.1" height="1.1" fill="#000"/>
<rect x="295.1" y="212.4" width="1.1" height="1.1" fill="#666"/>
<rect x="279.6" y="212.7" width="1.1" height="1.1" fill="#fff"/>
<rect x="278.9" y="237.2" width="1.1" height="1.1" fill="#000"/>
<rect x="298.1" y="245.1" width="1.1" height="1.1" fill="#666"/>
<rect x="302.1" y="212.8" width="1.1" height="1.1" fill="#fff"/>
<rect x="299.1" y="232.2" width="1.1" height="1.1" fill="#000"/>
<rect x="272.9" y="215.3" width="1.1" height="1.1" fill="#fff"/>
<rect x="294.8" y="234.9" width="1.1" height="1.1" fill="#000"/>
<rect x="270.5" y="212.2" width="1.1" height="1.1" fill="#fff"/>
<rect x="307.0" y="213.6" width="1.1" height="1.1" fill="#000"/>
<rect x="295.7" y="220.5" width="1.1" height="1.1" fill="#fff"/>
<rect x="287.7" y="226.8" width="1.1" height="1.1" fill="#000"/>
<rect x="307.7" y="229.8" width="1.1" height="1.1" fill="#fff"/>
<rect x="307.2" y="243.7" width="1.1" height="1.1" fill="#000"/>
<rect x="281.0" y="212.8" width="1.1" height="1.1" fill="#666"/>
<rect x="307.8" y="223.9" width="1.1" height="1.1" fill="#000"/>
<rect x="272.8" y="213.3" width="1.1" height="1.1" fill="#fff"/>
<rect x="306.2" y="214.8" width="1.1" height="1.1" fill="#fff"/>
<rect x="303.7" y="235.3" width="1.1" height="1.1" fill="#000"/>
<rect x="288.9" y="241.5" width="1.1" height="1.1" fill="#666"/>
<rect x="270.9" y="210.1" width="1.1" height="1.1" fill="#666"/>
<rect x="295.9" y="224.6" width="1.1" height="1.1" fill="#000"/>
<rect x="285.8" y="223.5" width="1.1" height="1.1" fill="#000"/>
<rect x="301.9" y="210.1" width="1.1" height="1.1" fill="#fff"/>
<rect x="301.9" y="214.3" width="1.1" height="1.1" fill="#000"/>
<rect x="297.1" y="242.5" width="1.1" height="1.1" fill="#fff"/>
<rect x="279.6" y="212.3" width="1.1" height="1.1" fill="#666"/>
<rect x="308.0" y="231.2" width="1.1" height="1.1" fill="#fff"/>
<rect x="305.2" y="237.2" width="1.1" height="1.1" fill="#000"/>
<rect x="280.7" y="211.9" width="1.1" height="1.1" fill="#fff"/>
<rect x="294.1" y="215.4" width="1.1" height="1.1" fill="#fff"/>
<rect x="286.6" y="221.4" width="1.1" height="1.1" fill="#fff"/>
<rect x="299.8" y="225.4" width="1.1" height="1.1" fill="#000"/>
<rect x="300.9" y="232.7" width="1.1" height="1.1" fill="#000"/>
<rect x="297.3" y="211.8" width="1.1" height="1.1" fill="#666"/>
<rect x="287.1" y="237.1" width="1.1" height="1.1" fill="#fff"/>
<rect x="288.5" y="242.8" width="1.1" height="1.1" fill="#000"/>
<rect x="276.5" y="224.9" width="1.1" height="1.1" fill="#fff"/>
<rect x="281.3" y="236.6" width="1.1" height="1.1" fill="#fff"/>
<rect x="285.4" y="218.6" width="1.1" height="1.1" fill="#666"/>
<rect x="291.2" y="224.2" width="1.1" height="1.1" fill="#000"/>
<rect x="294.4" y="212.7" width="1.1" height="1.1" fill="#666"/>
<rect x="290.9" y="226.3" width="1.1" height="1.1" fill="#fff"/>
<rect x="307.9" y="226.2" width="1.1" height="1.1" fill="#000"/>
<rect x="290.8" y="218.8" width="1.1" height="1.1" fill="#000"/>
<rect x="283.0" y="213.3" width="1.1" height="1.1" fill="#000"/>
<rect x="284.0" y="239.1" width="1.1" height="1.1" fill="#000"/>
<rect x="303.7" y="237.0" width="1.1" height="1.1" fill="#666"/>
<rect x="284.5" y="236.9" width="1.1" height="1.1" fill="#000"/>
<rect x="284.3" y="222.2" width="1.1" height="1.1" fill="#000"/>
<rect x="288.9" y="230.7" width="1.1" height="1.1" fill="#fff"/>
<rect x="274.8" y="228.1" width="1.1" height="1.1" fill="#000"/>
<rect x="273.5" y="242.3" width="1.1" height="1.1" fill="#666"/>
<rect x="285.2" y="226.1" width="1.1" height="1.1" fill="#fff"/>
<rect x="302.2" y="241.4" width="1.1" height="1.1" fill="#000"/>
<rect x="274.8" y="225.3" width="1.1" height="1.1" fill="#666"/>
<rect x="306.8" y="227.6" width="1.1" height="1.1" fill="#000"/>
<rect x="284.9" y="243.4" width="1.1" height="1.1" fill="#666"/>
<rect x="306.9" y="218.9" width="1.1" height="1.1" fill="#000"/>
<rect x="278.5" y="215.5" width="1.1" height="1.1" fill="#000"/>
<rect x="305.8" y="236.0" width="1.1" height="1.1" fill="#666"/>
<rect x="273.2" y="238.0" width="1.1" height="1.1" fill="#000"/>
<rect x="299.7" y="218.4" width="1.1" height="1.1" fill="#000"/>
<rect x="294.5" y="220.9" width="1.1" height="1.1" fill="#000"/>
<rect x="293.8" y="229.0" width="1.1" height="1.1" fill="#666"/>
<rect x="296.5" y="214.0" width="1.1" height="1.1" fill="#000"/>
<rect x="281.4" y="244.0" width="1.1" height="1.1" fill="#000"/>
<rect x="284.7" y="218.0" width="1.1" height="1.1" fill="#000"/>
<rect x="270.4" y="220.9" width="1.1" height="1.1" fill="#666"/>
<rect x="280.6" y="221.4" width="1.1" height="1.1" fill="#000"/>
<rect x="288.1" y="218.5" width="1.1" height="1.1" fill="#000"/>
<rect x="271.1" y="224.8" width="1.1" height="1.1" fill="#fff"/>
<rect x="272.1" y="217.0" width="1.1" height="1.1" fill="#666"/>
<rect x="273.1" y="218.2" width="1.1" height="1.1" fill="#666"/>
<rect x="305.2" y="218.2" width="1.1" height="1.1" fill="#000"/>
<rect x="296.4" y="235.9" width="1.1" height="1.1" fill="#fff"/>
<rect x="295.9" y="217.1" width="1.1" height="1.1" fill="#fff"/>
<rect x="298.1" y="228.2" width="1.1" height="1.1" fill="#000"/>
<rect x="288.8" y="217.2" width="1.1" height="1.1" fill="#000"/>
<rect x="278.8" y="218.0" width="1.1" height="1.1" fill="#fff"/>
<rect x="274.1" y="232.4" width="1.1" height="1.1" fill="#000"/>
<rect x="304.1" y="227.5" width="1.1" height="1.1" fill="#000"/>
<rect x="306.1" y="215.3" width="1.1" height="1.1" fill="#666"/>
<rect x="272.1" y="210.9" width="1.1" height="1.1" fill="#000"/>
<rect x="285.8" y="235.6" width="1.1" height="1.1" fill="#000"/>
<rect x="284.9" y="242.3" width="1.1" height="1.1" fill="#fff"/>
<rect x="297.8" y="245.9" width="1.1" height="1.1" fill="#000"/>
<rect x="282.5" y="216.7" width="1.1" height="1.1" fill="#666"/>
<rect x="271.2" y="233.9" width="1.1" height="1.1" fill="#666"/>
<rect x="301.9" y="245.5" width="1.1" height="1.1" fill="#666"/>
<rect x="276.4" y="210.1" width="1.1" height="1.1" fill="#fff"/>
<rect x="273.1" y="225.1" width="1.1" height="1.1" fill="#000"/>
<rect x="291.3" y="237.3" width="1.1" height="1.1" fill="#666"/>
<rect x="283.6" y="239.6" width="1.1" height="1.1" fill="#666"/>
<rect x="273.3" y="235.4" width="1.1" height="1.1" fill="#000"/>
<rect x="284.2" y="243.1" width="1.1" height="1.1" fill="#000"/>
<rect x="282.3" y="236.5" width="1.1" height="1.1" fill="#666"/>
<rect x="271.2" y="224.8" width="1.1" height="1.1" fill="#666"/>
<rect x="271.5" y="211.3" width="1.1" height="1.1" fill="#000"/>
<rect x="300.5" y="212.2" width="1.1" height="1.1" fill="#000"/>
<rect x="298.4" y="242.3" width="1.1" height="1.1" fill="#fff"/>
<rect x="283.8" y="222.1" width="1.1" height="1.1" fill="#000"/>
<rect x="280.0" y="235.8" width="1.1" height="1.1" fill="#fff"/>
<rect x="305.1" y="220.7" width="1.1" height="1.1" fill="#000"/>
<rect x="270.9" y="218.4" width="1.1" height="1.1" fill="#666"/>
<rect x="297.2" y="226.8" width="1.1" height="1.1" fill="#666"/>
<rect x="300.0" y="242.9" width="1.1" height="1.1" fill="#666"/>
<rect x="275.0" y="227.9" width="1.1" height="1.1" fill="#000"/>
<rect x="300.5" y="236.6" width="1.1" height="1.1" fill="#000"/>
<rect x="293.1" y="221.8" width="1.1" height="1.1" fill="#fff"/>
<rect x="287.5" y="238.2" width="1.1" height="1.1" fill="#000"/>
<rect x="289.5" y="224.1" width="1.1" height="1.1" fill="#000"/>
<rect x="279.4" y="212.3" width="1.1" height="1.1" fill="#000"/>
<rect x="288.3" y="229.6" width="1.1" height="1.1" fill="#000"/>
<rect x="307.2" y="241.8" width="1.1" height="1.1" fill="#000"/>
<rect x="280.1" y="213.0" width="1.1" height="1.1" fill="#000"/>
<rect x="286.0" y="245.6" width="1.1" height="1.1" fill="#666"/>
<rect x="276.6" y="214.8" width="1.1" height="1.1" fill="#666"/>
<rect x="293.6" y="234.3" width="1.1" height="1.1" fill="#000"/>
<rect x="299.6" y="220.6" width="1.1" height="1.1" fill="#fff"/>
<rect x="291.5" y="223.4" width="1.1" height="1.1" fill="#fff"/>
<rect x="277.6" y="218.9" width="1.1" height="1.1" fill="#000"/>
<rect x="278.9" y="220.1" width="1.1" height="1.1" fill="#000"/>
<rect x="282.4" y="224.3" width="1.1" height="1.1" fill="#000"/>
<rect x="289.3" y="218.3" width="1.1" height="1.1" fill="#000"/>
<rect x="294.8" y="245.7" width="1.1" height="1.1" fill="#000"/>
<rect x="270.2" y="241.8" width="1.1" height="1.1" fill="#000"/>
<rect x="301.9" y="242.9" width="1.1" height="1.1" fill="#000"/>
<rect x="303.3" y="218.4" width="1.1" height="1.1" fill="#000"/>
<rect x="277.2" y="245.0" width="1.1" height="1.1" fill="#000"/>
<rect x="305.3" y="223.4" width="1.1" height="1.1" fill="#000"/>
<rect x="287.1" y="219.4" width="1.1" height="1.1" fill="#000"/>
<rect x="274.0" y="231.5" width="1.1" height="1.1" fill="#fff"/>
<rect x="278.3" y="223.3" width="1.1" height="1.1" fill="#000"/>
<rect x="271.7" y="246.0" width="1.1" height="1.1" fill="#000"/>
<rect x="292.8" y="233.5" width="1.1" height="1.1" fill="#000"/>
<rect x="301.0" y="239.5" width="1.1" height="1.1" fill="#666"/>
<rect x="295.8" y="216.7" width="1.1" height="1.1" fill="#fff"/>
<rect x="273.0" y="211.1" width="1.1" height="1.1" fill="#666"/>
<rect x="290.8" y="212.3" width="1.1" height="1.1" fill="#000"/>
<rect x="300.2" y="233.9" width="1.1" height="1.1" fill="#000"/>
<rect x="294.3" y="213.3" width="1.1" height="1.1" fill="#000"/>
<rect x="285.1" y="219.8" width="1.1" height="1.1" fill="#fff"/>
<rect x="295.4" y="225.0" width="1.1" height="1.1" fill="#000"/>
<rect x="281.9" y="230.4" width="1.1" height="1.1" fill="#fff"/>
<rect x="285.7" y="210.7" width="1.1" height="1.1" fill="#fff"/>
<rect x="294.5" y="224.1" width="1.1" height="1.1" fill="#666"/>
<rect x="277.7" y="210.2" width="1.1" height="1.1" fill="#000"/>
<rect x="286.1" y="239.5" width="1.1" height="1.1" fill="#666"/>
<rect x="292.0" y="223.1" width="1.1" height="1.1" fill="#000"/>
<rect x="274.9" y="211.9" width="1.1" height="1.1" fill="#000"/>
<rect x="294.3" y="242.8" width="1.1" height="1.1" fill="#000"/>
<rect x="291.8" y="243.4" width="1.1" height="1.1" fill="#000"/>
<rect x="275.5" y="220.2" width="1.1" height="1.1" fill="#000"/>
<rect x="305.2" y="213.9" width="1.1" height="1.1" fill="#666"/>
<rect x="298.6" y="238.5" width="1.1" height="1.1" fill="#000"/>
<rect x="281.5" y="240.1" width="1.1" height="1.1" fill="#000"/>
<rect x="307.1" y="227.4" width="1.1" height="1.1" fill="#000"/>
<rect x="293.1" y="232.9" width="1.1" height="1.1" fill="#000"/>
<rect x="304.4" y="232.3" width="1.1" height="1.1" fill="#000"/>
<rect x="294.3" y="240.8" width="1.1" height="1.1" fill="#666"/>
<rect x="293.4" y="217.1" width="1.1" height="1.1" fill="#666"/>
<rect x="277.0" y="217.9" width="1.1" height="1.1" fill="#666"/>
<rect x="305.7" y="215.6" width="1.1" height="1.1" fill="#fff"/>
<rect x="274.7" y="218.9" width="1.1" height="1.1" fill="#000"/>
<rect x="271.6" y="230.2" width="1.1" height="1.1" fill="#000"/>
<rect x="295.4" y="221.7" width="1.1" height="1.1" fill="#666"/>
<rect x="292.8" y="229.8" width="1.1" height="1.1" fill="#fff"/>
<rect x="294.7" y="221.1" width="1.1" height="1.1" fill="#000"/>
<rect x="286.2" y="233.7" width="1.1" height="1.1" fill="#666"/>
<rect x="289.1" y="216.4" width="1.1" height="1.1" fill="#000"/>
<rect x="293.5" y="227.6" width="1.1" height="1.1" fill="#000"/>
<rect x="287.0" y="232.3" width="1.1" height="1.1" fill="#666"/>
<rect x="301.8" y="239.2" width="1.1" height="1.1" fill="#666"/>
<rect x="274.1" y="214.6" width="1.1" height="1.1" fill="#666"/>
<rect x="283.9" y="238.9" width="1.1" height="1.1" fill="#000"/>
<rect x="271.5" y="214.7" width="1.1" height="1.1" fill="#fff"/>
<rect x="299.6" y="228.4" width="1.1" height="1.1" fill="#000"/>
<rect x="298.6" y="242.2" width="1.1" height="1.1" fill="#000"/>
<rect x="271.0" y="212.4" width="1.1" height="1.1" fill="#000"/>
<rect x="277.4" y="245.3" width="1.1" height="1.1" fill="#666"/>
<rect x="280.9" y="239.2" width="1.1" height="1.1" fill="#000"/>
<rect x="296.1" y="236.0" width="1.1" height="1.1" fill="#000"/>
<rect x="272.5" y="222.6" width="1.1" height="1.1" fill="#fff"/>
<rect x="276.0" y="242.3" width="1.1" height="1.1" fill="#fff"/>
<rect x="304.4" y="226.4" width="1.1" height="1.1" fill="#fff"/>
<rect x="289.1" y="243.1" width="1.1" height="1.1" fill="#000"/>
<rect x="292.5" y="232.2" width="1.1" height="1.1" fill="#000"/>
<rect x="282.1" y="211.3" width="1.1" height="1.1" fill="#000"/>
<rect x="285.3" y="232.9" width="1.1" height="1.1" fill="#fff"/>
<rect x="295.8" y="242.2" width="1.1" height="1.1" fill="#000"/>
<rect x="300.1" y="219.5" width="1.1" height="1.1" fill="#000"/>
<rect x="294.2" y="223.0" width="1.1" height="1.1" fill="#666"/>
<rect x="291.1" y="230.9" width="1.1" height="1.1" fill="#000"/>
<rect x="279.6" y="229.3" width="1.1" height="1.1" fill="#666"/>
<rect x="298.0" y="223.4" width="1.1" height="1.1" fill="#666"/>
<rect x="307.6" y="230.8" width="1.1" height="1.1" fill="#fff"/>
<rect x="282.6" y="212.9" width="1.1" height="1.1" fill="#000"/>
<rect x="276.7" y="236.8" width="1.1" height="1.1" fill="#000"/>
<rect x="281.3" y="228.6" width="1.1" height="1.1" fill="#fff"/>
<rect x="294.3" y="245.4" width="1.1" height="1.1" fill="#fff"/>
<rect x="297.9" y="236.9" width="1.1" height="1.1" fill="#000"/>
<rect x="275.7" y="232.2" width="1.1" height="1.1" fill="#666"/>
<rect x="285.9" y="223.1" width="1.1" height="1.1" fill="#000"/>
<rect x="275.0" y="218.2" width="1.1" height="1.1" fill="#000"/>
<rect x="270.8" y="210.1" width="1.1" height="1.1" fill="#fff"/>
<rect x="281.5" y="228.8" width="1.1" height="1.1" fill="#000"/>
<rect x="285.7" y="220.8" width="1.1" height="1.1" fill="#000"/>
<rect x="277.8" y="232.5" width="1.1" height="1.1" fill="#666"/>
<rect x="276.0" y="210.5" width="1.1" height="1.1" fill="#000"/>
<rect x="296.9" y="226.2" width="1.1" height="1.1" fill="#000"/>
<rect x="294.3" y="241.4" width="1.1" height="1.1" fill="#fff"/>
<rect x="285.3" y="219.5" width="1.1" height="1.1" fill="#000"/>
<rect x="272.1" y="239.6" width="1.1" height="1.1" fill="#fff"/>
<rect x="292.6" y="230.8" width="1.1" height="1.1" fill="#666"/>
<rect x="279.4" y="242.5" width="1.1" height="1.1" fill="#000"/>
<rect x="272.3" y="210.9" width="1.1" height="1.1" fill="#000"/>
<rect x="279.0" y="212.1" width="1.1" height="1.1" fill="#000"/>
<rect x="270.5" y="229.8" width="1.1" height="1.1" fill="#000"/>
<rect x="275.4" y="217.2" width="1.1" height="1.1" fill="#666"/>
<rect x="300.9" y="216.3" width="1.1" height="1.1" fill="#fff"/>
<rect x="272.4" y="232.5" width="1.1" height="1.1" fill="#666"/>
<rect x="297.2" y="210.2" width="1.1" height="1.1" fill="#666"/>
<rect x="298.3" y="226.7" width="1.1" height="1.1" fill="#666"/>
<rect x="276.7" y="245.9" width="1.1" height="1.1" fill="#fff"/>
<rect x="278.8" y="211.4" width="1.1" height="1.1" fill="#fff"/>
<rect x="303.9" y="243.3" width="1.1" height="1.1" fill="#fff"/>
<rect x="297.0" y="219.6" width="1.1" height="1.1" fill="#666"/>
<rect x="296.1" y="243.0" width="1.1" height="1.1" fill="#fff"/>
<rect x="281.2" y="243.4" width="1.1" height="1.1" fill="#000"/>
<rect x="273.2" y="228.3" width="1.1" height="1.1" fill="#000"/>
<rect x="279.9" y="218.5" width="1.1" height="1.1" fill="#000"/>
<rect x="305.9" y="236.9" width="1.1" height="1.1" fill="#fff"/>
<rect x="277.3" y="224.0" width="1.1" height="1.1" fill="#000"/>
<rect x="284.4" y="240.7" width="1.1" height="1.1" fill="#666"/>
<rect x="287.9" y="229.1" width="1.1" height="1.1" fill="#000"/>
<rect x="302.6" y="225.7" width="1.1" height="1.1" fill="#000"/>
<rect x="291.7" y="221.1" width="1.1" height="1.1" fill="#000"/>
<rect x="284.9" y="231.1" width="1.1" height="1.1" fill="#000"/>
<rect x="275.5" y="211.0" width="1.1" height="1.1" fill="#000"/>
<rect x="293.6" y="215.8" width="1.1" height="1.1" fill="#000"/>
<rect x="296.6" y="211.1" width="1.1" height="1.1" fill="#000"/>
<rect x="296.3" y="232.8" width="1.1" height="1.1" fill="#000"/>
<rect x="298.0" y="212.4" width="1.1" height="1.1" fill="#fff"/>
<rect x="277.6" y="244.4" width="1.1" height="1.1" fill="#000"/>
<rect x="303.4" y="237.2" width="1.1" height="1.1" fill="#666"/>
<rect x="274.1" y="217.4" width="1.1" height="1.1" fill="#000"/>
<rect x="271.3" y="244.2" width="1.1" height="1.1" fill="#000"/>
<rect x="301.4" y="232.7" width="1.1" height="1.1" fill="#fff"/>
<rect x="288.1" y="214.8" width="1.1" height="1.1" fill="#000"/>
<rect x="281.2" y="222.1" width="1.1" height="1.1" fill="#fff"/>
<rect x="270.8" y="219.2" width="1.1" height="1.1" fill="#fff"/>
<rect x="271.8" y="237.4" width="1.1" height="1.1" fill="#fff"/>
<rect x="299.2" y="231.7" width="1.1" height="1.1" fill="#666"/>
<rect x="302.4" y="232.3" width="1.1" height="1.1" fill="#000"/>
<rect x="300.0" y="211.1" width="1.1" height="1.1" fill="#000"/>
<rect x="283.2" y="235.4" width="1.1" height="1.1" fill="#000"/>
<line x1="287.4" y1="172" x2="275.4" y2="166.6" stroke="#000" stroke-width="1.0"/>
<line x1="287.1" y1="172" x2="277.5" y2="166.3" stroke="#000" stroke-width="1.0"/>
<line x1="284.3" y1="172" x2="274.8" y2="163.5" stroke="#000" stroke-width="1.0"/>
<line x1="288.2" y1="172" x2="282.6" y2="164.3" stroke="#000" stroke-width="1.0"/>
<line x1="287.6" y1="172" x2="283.0" y2="158.9" stroke="#000" stroke-width="1.0"/>
<line x1="287.5" y1="172" x2="286.2" y2="160.5" stroke="#000" stroke-width="1.0"/>
<line x1="289.6" y1="172" x2="288.7" y2="159.0" stroke="#000" stroke-width="1.0"/>
<line x1="289.6" y1="172" x2="291.1" y2="162.3" stroke="#000" stroke-width="1.0"/>
<line x1="289.9" y1="172" x2="294.9" y2="161.7" stroke="#000" stroke-width="1.0"/>
<line x1="286.0" y1="172" x2="291.4" y2="164.2" stroke="#000" stroke-width="1.0"/>
<line x1="289.4" y1="172" x2="298.3" y2="161.7" stroke="#000" stroke-width="1.0"/>
<line x1="287.9" y1="172" x2="297.5" y2="166.4" stroke="#000" stroke-width="1.0"/>
<line x1="286.6" y1="172" x2="296.2" y2="167.9" stroke="#000" stroke-width="1.0"/>
<ellipse cx="286.4" cy="196.7" rx="13.3" ry="25.4" fill="#fff" stroke="#000" stroke-width="1.6"/>
<circle cx="281.9" cy="203.8" r="1.6" fill="#000"/>
<circle cx="294.3" cy="204.8" r="1.6" fill="#000"/>
<path d="M282.5 218.5 Q288 212.5 293.8 218.8" fill="none" stroke="#000" stroke-width="1.5"/>
<path d="M274.5 227 L283 223.5 L293 223.5 L296 226 L302 236 L309 256 L312 270 L264 270 L268 246 Z" fill="#000"/>
<path d="M283 224 L292 224 L291 270 L284 270 Z" fill="#fff"/>
<path d="M286.3 226 L289 226 L289.5 270 L285.8 270 Z" fill="#000"/>
<path d="M283 224 L287.5 230 L292 224" fill="none" stroke="#000" stroke-width="0.8"/>
<line x1="278" y1="236" x2="268" y2="265" stroke="#fff" stroke-width="0.8"/>
<line x1="300" y1="237" x2="309" y2="265" stroke="#fff" stroke-width="0.7"/>
<rect x="290.0" y="238.2" width="0.9" height="0.9" fill="#fff"/>
<rect x="309.2" y="254.7" width="0.9" height="0.9" fill="#fff"/>
<rect x="307.5" y="236.6" width="0.9" height="0.9" fill="#fff"/>
<rect x="292.1" y="256.8" width="0.9" height="0.9" fill="#fff"/>
<rect x="292.6" y="233.2" width="0.9" height="0.9" fill="#fff"/>
<rect x="291.6" y="250.8" width="0.9" height="0.9" fill="#fff"/>
<rect x="304.2" y="248.2" width="0.9" height="0.9" fill="#fff"/>
<rect x="290.4" y="243.6" width="0.9" height="0.9" fill="#fff"/>
<rect x="286.4" y="256.8" width="0.9" height="0.9" fill="#fff"/>
<rect x="277.3" y="240.3" width="0.9" height="0.9" fill="#fff"/>
<rect x="280.7" y="255.1" width="0.9" height="0.9" fill="#fff"/>
<rect x="296.6" y="250.3" width="0.9" height="0.9" fill="#fff"/>
<rect x="277.8" y="259.2" width="0.9" height="0.9" fill="#fff"/>
<rect x="302.4" y="254.2" width="0.9" height="0.9" fill="#fff"/>
<rect x="297.8" y="267.1" width="0.9" height="0.9" fill="#fff"/>
<rect x="297.8" y="253.7" width="0.9" height="0.9" fill="#fff"/>
<rect x="281.3" y="240.5" width="0.9" height="0.9" fill="#fff"/>
<rect x="308.1" y="241.3" width="0.9" height="0.9" fill="#fff"/>
<rect x="308.0" y="267.8" width="0.9" height="0.9" fill="#fff"/>
<rect x="273.2" y="255.7" width="0.9" height="0.9" fill="#fff"/>
<rect x="274.6" y="237.4" width="0.9" height="0.9" fill="#fff"/>
<rect x="272.5" y="242.9" width="0.9" height="0.9" fill="#fff"/>
<rect x="279.1" y="241.9" width="0.9" height="0.9" fill="#fff"/>
<rect x="270.8" y="264.8" width="0.9" height="0.9" fill="#fff"/>
<rect x="278.4" y="263.9" width="0.9" height="0.9" fill="#fff"/>
<path d="M262 270 L276 266 L290 272 L300 268 L312 276 L300 281 L270 281 L258 278 Z" fill="#fff" stroke="#000" stroke-width="1"/>
<path d="M277 270 Q284 264 291 272 Q286 278 278 276 Z" fill="#fff" stroke="#000" stroke-width="1"/>
<path d="M296 270 Q302 265 306 272 L304 277 L296 276 Z" fill="#fff" stroke="#000" stroke-width="1"/>
<line x1="282.0" y1="264.2" x2="285.5" y2="263.8" stroke="#000" stroke-width="0.8"/>
<line x1="284.0" y1="275.4" x2="283.7" y2="273.2" stroke="#000" stroke-width="1.4"/>
<line x1="297.3" y1="264.1" x2="294.8" y2="266.2" stroke="#000" stroke-width="1.4"/>
<line x1="288.1" y1="277.5" x2="287.4" y2="275.9" stroke="#000" stroke-width="1.4"/>
<line x1="292.5" y1="279.8" x2="294.0" y2="280.3" stroke="#000" stroke-width="0.8"/>
<line x1="294.1" y1="275.5" x2="293.6" y2="274.4" stroke="#000" stroke-width="1.4"/>
<line x1="295.2" y1="280.1" x2="292.7" y2="279.5" stroke="#000" stroke-width="1.4"/>
<line x1="291.3" y1="268.5" x2="290.5" y2="268.2" stroke="#000" stroke-width="1.4"/>
<line x1="304.1" y1="273.3" x2="305.7" y2="275.6" stroke="#000" stroke-width="1.4"/>
<line x1="274.4" y1="264.2" x2="277.7" y2="266.6" stroke="#000" stroke-width="0.8"/>
<line x1="258.1" y1="273.8" x2="254.7" y2="275.5" stroke="#000" stroke-width="0.8"/>
<line x1="285.1" y1="265.8" x2="285.8" y2="266.1" stroke="#000" stroke-width="1.4"/>
<line x1="282.6" y1="264.3" x2="285.6" y2="263.5" stroke="#000" stroke-width="1.1"/>
<line x1="279.0" y1="281.1" x2="276.1" y2="282.2" stroke="#000" stroke-width="1.1"/>
<line x1="284.8" y1="280.8" x2="287.1" y2="281.5" stroke="#000" stroke-width="1.4"/>
<line x1="259.2" y1="268.9" x2="258.2" y2="266.0" stroke="#000" stroke-width="1.1"/>
<line x1="307.3" y1="275.3" x2="309.0" y2="275.8" stroke="#000" stroke-width="0.8"/>
<line x1="268.6" y1="277.3" x2="273.0" y2="277.5" stroke="#000" stroke-width="0.8"/>
<line x1="311.7" y1="281.3" x2="311.3" y2="279.3" stroke="#000" stroke-width="0.8"/>
<line x1="301.3" y1="275.4" x2="301.0" y2="275.8" stroke="#000" stroke-width="0.8"/>
<line x1="301.6" y1="266.6" x2="303.3" y2="268.6" stroke="#000" stroke-width="1.1"/>
<line x1="282.2" y1="269.3" x2="282.7" y2="267.0" stroke="#000" stroke-width="1.1"/>
<line x1="275.9" y1="279.3" x2="273.5" y2="278.6" stroke="#000" stroke-width="1.1"/>
<line x1="311.0" y1="276.2" x2="310.9" y2="278.1" stroke="#000" stroke-width="1.1"/>
<line x1="276.0" y1="275.8" x2="274.2" y2="275.7" stroke="#000" stroke-width="1.4"/>
<line x1="291.7" y1="275.9" x2="290.3" y2="278.4" stroke="#000" stroke-width="1.1"/>
<line x1="259.2" y1="278.9" x2="263.3" y2="280.6" stroke="#000" stroke-width="0.8"/>
<line x1="285.7" y1="270.2" x2="286.5" y2="271.2" stroke="#000" stroke-width="0.8"/>
<line x1="309.3" y1="275.8" x2="306.8" y2="273.4" stroke="#000" stroke-width="0.8"/>
<line x1="303.8" y1="267.3" x2="303.4" y2="269.1" stroke="#000" stroke-width="0.8"/>
<line x1="306.6" y1="278.3" x2="303.3" y2="280.6" stroke="#000" stroke-width="1.4"/>
<line x1="310.7" y1="265.6" x2="314.7" y2="265.9" stroke="#000" stroke-width="1.4"/>
<line x1="303.0" y1="267.6" x2="304.9" y2="267.7" stroke="#000" stroke-width="1.4"/>
<line x1="303.0" y1="276.1" x2="299.2" y2="273.8" stroke="#000" stroke-width="1.1"/>
<line x1="269.1" y1="266.5" x2="269.0" y2="263.9" stroke="#000" stroke-width="1.1"/>
<line x1="306.7" y1="276.6" x2="304.2" y2="274.6" stroke="#000" stroke-width="1.4"/>
<line x1="304.3" y1="264.1" x2="307.7" y2="263.9" stroke="#000" stroke-width="1.4"/>
<line x1="283.9" y1="269.3" x2="283.5" y2="268.9" stroke="#000" stroke-width="1.4"/>
<line x1="260.2" y1="275.5" x2="261.6" y2="272.6" stroke="#000" stroke-width="1.4"/>
<line x1="258.6" y1="277.3" x2="263.6" y2="279.1" stroke="#000" stroke-width="0.8"/>
<line x1="284.6" y1="272.7" x2="288.6" y2="269.9" stroke="#000" stroke-width="1.4"/>
<line x1="279.3" y1="266.3" x2="275.2" y2="267.2" stroke="#000" stroke-width="1.1"/>
<line x1="282.6" y1="273.5" x2="285.3" y2="271.7" stroke="#000" stroke-width="1.1"/>
<line x1="275.1" y1="268.5" x2="270.7" y2="267.3" stroke="#000" stroke-width="1.1"/>
<line x1="302.4" y1="271.3" x2="302.4" y2="269.9" stroke="#000" stroke-width="1.4"/>
<line x1="275.3" y1="267.7" x2="275.2" y2="265.4" stroke="#000" stroke-width="0.8"/>
<line x1="273.8" y1="269.4" x2="274.6" y2="270.2" stroke="#000" stroke-width="0.8"/>
<line x1="278.3" y1="274.0" x2="277.4" y2="274.4" stroke="#000" stroke-width="1.1"/>
<line x1="272.8" y1="264.1" x2="269.7" y2="266.6" stroke="#000" stroke-width="1.4"/>
<line x1="298.9" y1="265.1" x2="298.9" y2="265.3" stroke="#000" stroke-width="1.1"/>
<line x1="290.5" y1="275.3" x2="292.5" y2="275.9" stroke="#000" stroke-width="1.4"/>
<line x1="260.6" y1="264.7" x2="262.0" y2="265.5" stroke="#000" stroke-width="0.8"/>
<line x1="261.7" y1="267.3" x2="257.0" y2="268.9" stroke="#000" stroke-width="1.4"/>
<line x1="256.8" y1="279.7" x2="253.1" y2="278.6" stroke="#000" stroke-width="1.4"/>
<line x1="270.4" y1="269.4" x2="269.7" y2="268.3" stroke="#000" stroke-width="1.1"/>
<line x1="287.7" y1="274.4" x2="291.9" y2="274.4" stroke="#000" stroke-width="1.4"/>
<line x1="258.2" y1="266.1" x2="261.3" y2="266.6" stroke="#000" stroke-width="1.1"/>
<line x1="281.0" y1="264.3" x2="279.9" y2="264.8" stroke="#000" stroke-width="1.4"/>
<line x1="310.9" y1="272.6" x2="310.0" y2="270.2" stroke="#000" stroke-width="1.4"/>
<line x1="282.4" y1="280.1" x2="283.7" y2="279.7" stroke="#000" stroke-width="0.8"/>
<line x1="294.3" y1="266.2" x2="299.0" y2="263.7" stroke="#000" stroke-width="0.8"/>
<line x1="263.2" y1="264.3" x2="265.4" y2="262.8" stroke="#000" stroke-width="1.4"/>
<line x1="297.7" y1="280.6" x2="296.3" y2="282.1" stroke="#000" stroke-width="1.4"/>
<line x1="303.9" y1="277.1" x2="299.8" y2="277.9" stroke="#000" stroke-width="1.4"/>
<line x1="283.9" y1="276.1" x2="287.8" y2="278.5" stroke="#000" stroke-width="0.8"/>
<line x1="296.2" y1="264.2" x2="291.3" y2="265.1" stroke="#000" stroke-width="1.4"/>
<line x1="260.5" y1="269.6" x2="262.8" y2="267.6" stroke="#000" stroke-width="1.1"/>
<line x1="290.1" y1="269.7" x2="294.6" y2="271.1" stroke="#000" stroke-width="1.1"/>
<line x1="293.9" y1="266.6" x2="296.9" y2="265.8" stroke="#000" stroke-width="1.4"/>
<line x1="265.2" y1="278.4" x2="265.0" y2="280.1" stroke="#000" stroke-width="1.1"/>
<line x1="254.3" y1="279.1" x2="254.9" y2="278.2" stroke="#000" stroke-width="0.9"/>
<line x1="227.8" y1="280.8" x2="229.4" y2="282.1" stroke="#000" stroke-width="0.9"/>
<line x1="236.0" y1="277.5" x2="239.8" y2="278.8" stroke="#000" stroke-width="0.9"/>
<line x1="244.0" y1="274.8" x2="243.5" y2="276.3" stroke="#000" stroke-width="0.9"/>
<line x1="237.3" y1="278.2" x2="238.1" y2="279.7" stroke="#000" stroke-width="0.9"/>
<line x1="250.2" y1="274.5" x2="246.2" y2="273.6" stroke="#000" stroke-width="0.9"/>
<line x1="238.7" y1="277.3" x2="241.2" y2="278.8" stroke="#000" stroke-width="0.9"/>
<line x1="227.3" y1="279.5" x2="229.8" y2="281.0" stroke="#000" stroke-width="0.9"/>
<line x1="243.2" y1="274.5" x2="246.0" y2="275.7" stroke="#000" stroke-width="0.9"/>
<line x1="246.5" y1="280.2" x2="245.3" y2="278.6" stroke="#000" stroke-width="0.9"/>
<line x1="242.6" y1="279.2" x2="240.2" y2="280.2" stroke="#000" stroke-width="0.9"/>
<line x1="254.0" y1="274.1" x2="254.8" y2="274.8" stroke="#000" stroke-width="0.9"/>
<line x1="240.0" y1="273.9" x2="238.0" y2="274.9" stroke="#000" stroke-width="0.9"/>
<line x1="249.7" y1="276.1" x2="246.5" y2="277.4" stroke="#000" stroke-width="0.9"/>
<line x1="249.2" y1="274.1" x2="249.8" y2="275.7" stroke="#000" stroke-width="0.9"/>
<line x1="252.6" y1="276.7" x2="252.4" y2="277.1" stroke="#000" stroke-width="0.9"/>
<line x1="231.7" y1="273.7" x2="229.1" y2="274.5" stroke="#000" stroke-width="0.9"/>
<line x1="236.9" y1="277.1" x2="236.1" y2="277.1" stroke="#000" stroke-width="0.9"/>
<line x1="230.5" y1="272.4" x2="234.4" y2="271.9" stroke="#000" stroke-width="0.9"/>
<line x1="229.2" y1="277.7" x2="231.5" y2="276.3" stroke="#000" stroke-width="0.9"/>
<line x1="243.9" y1="275.1" x2="244.1" y2="273.2" stroke="#000" stroke-width="0.9"/>
<line x1="227.0" y1="280.9" x2="229.9" y2="280.9" stroke="#000" stroke-width="0.9"/>
<line x1="243.0" y1="274.4" x2="245.2" y2="274.1" stroke="#000" stroke-width="0.9"/>
<line x1="254.4" y1="278.9" x2="256.9" y2="280.8" stroke="#000" stroke-width="0.9"/>
<line x1="233.6" y1="272.3" x2="231.2" y2="271.1" stroke="#000" stroke-width="0.9"/>
<line x1="228.5" y1="272.5" x2="229.0" y2="273.9" stroke="#000" stroke-width="0.9"/>
<line x1="239.7" y1="280.5" x2="243.0" y2="278.8" stroke="#000" stroke-width="0.9"/>
<line x1="243.9" y1="275.6" x2="240.9" y2="277.4" stroke="#000" stroke-width="0.9"/>
<line x1="233.7" y1="277.1" x2="234.8" y2="278.9" stroke="#000" stroke-width="0.9"/>
<line x1="246.1" y1="275.5" x2="245.7" y2="274.2" stroke="#000" stroke-width="0.9"/>
<rect x="312.5" y="258" width="8" height="21" fill="#000"/>
<line x1="314" y1="258" x2="312" y2="246" stroke="#000" stroke-width="1"/>
<line x1="318" y1="258" x2="322" y2="244" stroke="#000" stroke-width="1"/>
<line x1="316" y1="258" x2="316" y2="249" stroke="#000" stroke-width="0.8"/>
<rect x="320.5" y="264" width="10" height="15" fill="#fff" stroke="#000" stroke-width="1.1"/>
<path d="M316 225 Q320 218 328 220 L331 224 Q326 232 321 238 Q318 242 316 236 Z" fill="#fff" stroke="#000" stroke-width="1"/>
<rect x="329.6" y="231.9" width="1.3" height="1.3" fill="#000"/>
<rect x="319.9" y="219.5" width="1.3" height="1.3" fill="#000"/>
<rect x="320.3" y="223.6" width="1.3" height="1.3" fill="#000"/>
<rect x="328.7" y="230.8" width="1.3" height="1.3" fill="#000"/>
<rect x="327.9" y="219.6" width="1.3" height="1.3" fill="#000"/>
<rect x="327.2" y="228.2" width="1.3" height="1.3" fill="#000"/>
<rect x="325.4" y="231.8" width="1.3" height="1.3" fill="#000"/>
<rect x="317.7" y="220.9" width="1.3" height="1.3" fill="#000"/>
<rect x="326.8" y="231.2" width="1.3" height="1.3" fill="#000"/>
<rect x="325.8" y="222.9" width="1.3" height="1.3" fill="#000"/>
<rect x="324.7" y="228.9" width="1.3" height="1.3" fill="#000"/>
<rect x="318.4" y="223.2" width="1.3" height="1.3" fill="#000"/>
<clipPath id="pst"><path d="M327 186 L333 178 L340 175 L346 180 L352 178 L352 229 L327 229 Z"/></clipPath>
<g clip-path="url(#pst)">
<rect x="326" y="174" width="27" height="56" fill="#fff"/>
<line x1="325.5" y1="188.1" x2="333.7" y2="186.7" stroke="#000" stroke-width="0.7"/>
<line x1="347.6" y1="218.4" x2="359.6" y2="218.2" stroke="#000" stroke-width="0.7"/>
<line x1="326.4" y1="217.9" x2="337.6" y2="215.4" stroke="#000" stroke-width="1.2"/>
<line x1="346.9" y1="221.7" x2="352.1" y2="221.5" stroke="#000" stroke-width="0.7"/>
<line x1="332.8" y1="224.9" x2="336.9" y2="224.0" stroke="#000" stroke-width="0.9"/>
<line x1="328.5" y1="191.7" x2="333.6" y2="191.4" stroke="#000" stroke-width="0.9"/>
<line x1="323.6" y1="186.2" x2="334.0" y2="186.5" stroke="#000" stroke-width="0.7"/>
<line x1="326.2" y1="198.1" x2="333.9" y2="197.1" stroke="#000" stroke-width="0.7"/>
<line x1="345.5" y1="188.9" x2="352.4" y2="187.7" stroke="#000" stroke-width="0.9"/>
<line x1="334.8" y1="180.0" x2="343.0" y2="178.5" stroke="#000" stroke-width="1.2"/>
<line x1="347.1" y1="177.1" x2="357.0" y2="175.6" stroke="#000" stroke-width="0.9"/>
<line x1="325.3" y1="219.9" x2="335.8" y2="222.6" stroke="#000" stroke-width="0.9"/>
<line x1="349.9" y1="228.5" x2="362.0" y2="225.9" stroke="#000" stroke-width="0.9"/>
<line x1="326.5" y1="196.9" x2="337.7" y2="199.7" stroke="#000" stroke-width="0.7"/>
<line x1="322.4" y1="227.8" x2="333.7" y2="226.9" stroke="#000" stroke-width="0.7"/>
<line x1="344.1" y1="198.4" x2="356.5" y2="197.0" stroke="#000" stroke-width="0.9"/>
<line x1="347.5" y1="197.9" x2="353.5" y2="198.2" stroke="#000" stroke-width="0.7"/>
<line x1="336.6" y1="220.4" x2="342.6" y2="219.4" stroke="#000" stroke-width="1.2"/>
<line x1="324.4" y1="178.4" x2="333.9" y2="178.3" stroke="#000" stroke-width="0.9"/>
<line x1="325.8" y1="183.6" x2="335.8" y2="184.3" stroke="#000" stroke-width="0.7"/>
<line x1="327.7" y1="206.1" x2="332.2" y2="206.6" stroke="#000" stroke-width="0.9"/>
<line x1="347.7" y1="220.3" x2="356.3" y2="219.6" stroke="#000" stroke-width="0.9"/>
<line x1="346.2" y1="220.3" x2="354.4" y2="218.2" stroke="#000" stroke-width="0.9"/>
<line x1="340.6" y1="181.3" x2="346.9" y2="181.5" stroke="#000" stroke-width="0.9"/>
<line x1="341.7" y1="176.0" x2="350.7" y2="177.7" stroke="#000" stroke-width="0.9"/>
<line x1="334.5" y1="202.6" x2="343.0" y2="200.9" stroke="#000" stroke-width="1.2"/>
<line x1="345.2" y1="187.5" x2="357.3" y2="189.2" stroke="#000" stroke-width="0.9"/>
<line x1="347.1" y1="205.7" x2="353.6" y2="204.3" stroke="#000" stroke-width="1.2"/>
<line x1="336.4" y1="201.2" x2="345.1" y2="201.4" stroke="#000" stroke-width="0.7"/>
<line x1="324.5" y1="187.4" x2="333.9" y2="185.7" stroke="#000" stroke-width="0.9"/>
<line x1="344.9" y1="187.8" x2="349.1" y2="186.9" stroke="#000" stroke-width="1.2"/>
<line x1="329.3" y1="214.6" x2="340.8" y2="215.5" stroke="#000" stroke-width="0.9"/>
<line x1="341.7" y1="202.8" x2="346.5" y2="203.7" stroke="#000" stroke-width="1.2"/>
<line x1="329.6" y1="183.8" x2="337.8" y2="184.2" stroke="#000" stroke-width="0.9"/>
<line x1="325.4" y1="180.1" x2="337.4" y2="180.3" stroke="#000" stroke-width="0.7"/>
<line x1="326.1" y1="221.4" x2="335.2" y2="222.5" stroke="#000" stroke-width="0.7"/>
<line x1="322.5" y1="226.2" x2="332.2" y2="227.1" stroke="#000" stroke-width="1.2"/>
<line x1="336.7" y1="220.2" x2="344.1" y2="221.9" stroke="#000" stroke-width="0.9"/>
<line x1="328.7" y1="192.6" x2="335.7" y2="192.4" stroke="#000" stroke-width="1.2"/>
<line x1="347.6" y1="218.2" x2="358.7" y2="220.3" stroke="#000" stroke-width="0.7"/>
<line x1="326.1" y1="191.9" x2="336.2" y2="191.1" stroke="#000" stroke-width="0.9"/>
<line x1="322.3" y1="210.5" x2="327.2" y2="209.7" stroke="#000" stroke-width="0.9"/>
<line x1="336.1" y1="197.8" x2="340.2" y2="197.0" stroke="#000" stroke-width="0.9"/>
<line x1="348.2" y1="216.7" x2="357.8" y2="218.3" stroke="#000" stroke-width="0.7"/>
<line x1="340.0" y1="175.9" x2="346.3" y2="176.5" stroke="#000" stroke-width="0.9"/>
<line x1="344.6" y1="208.6" x2="348.8" y2="207.7" stroke="#000" stroke-width="0.7"/>
<line x1="334.1" y1="202.6" x2="346.6" y2="201.2" stroke="#000" stroke-width="0.9"/>
<line x1="326.7" y1="193.1" x2="331.1" y2="194.2" stroke="#000" stroke-width="1.2"/>
<line x1="324.4" y1="223.6" x2="333.4" y2="225.7" stroke="#000" stroke-width="0.9"/>
<line x1="325.7" y1="180.8" x2="332.3" y2="180.5" stroke="#000" stroke-width="0.9"/>
<line x1="342.6" y1="189.1" x2="353.2" y2="187.9" stroke="#000" stroke-width="0.9"/>
<line x1="338.0" y1="207.5" x2="347.7" y2="206.0" stroke="#000" stroke-width="1.2"/>
<line x1="347.0" y1="194.2" x2="353.7" y2="194.1" stroke="#000" stroke-width="0.9"/>
<line x1="331.3" y1="175.7" x2="337.0" y2="175.8" stroke="#000" stroke-width="1.2"/>
<line x1="347.9" y1="195.8" x2="353.2" y2="197.1" stroke="#000" stroke-width="0.9"/>
<line x1="335.8" y1="204.6" x2="342.1" y2="206.3" stroke="#000" stroke-width="0.9"/>
<line x1="322.6" y1="177.1" x2="331.6" y2="177.6" stroke="#000" stroke-width="0.9"/>
<line x1="323.7" y1="198.2" x2="331.2" y2="198.0" stroke="#000" stroke-width="1.2"/>
<line x1="336.6" y1="216.0" x2="349.4" y2="217.2" stroke="#000" stroke-width="0.7"/>
<line x1="340.7" y1="196.9" x2="345.9" y2="196.1" stroke="#000" stroke-width="1.2"/>
<line x1="345.0" y1="220.7" x2="353.6" y2="221.8" stroke="#000" stroke-width="1.2"/>
<line x1="349.9" y1="224.7" x2="356.3" y2="225.2" stroke="#000" stroke-width="1.2"/>
<line x1="325.6" y1="224.3" x2="337.0" y2="221.3" stroke="#000" stroke-width="1.2"/>
<line x1="335.9" y1="206.2" x2="348.6" y2="206.7" stroke="#000" stroke-width="0.9"/>
<line x1="329.8" y1="220.7" x2="339.2" y2="218.8" stroke="#000" stroke-width="0.9"/>
<line x1="330.1" y1="212.1" x2="337.2" y2="211.5" stroke="#000" stroke-width="1.2"/>
<line x1="332.8" y1="204.5" x2="339.6" y2="205.6" stroke="#000" stroke-width="0.9"/>
<line x1="330.4" y1="194.9" x2="339.1" y2="196.3" stroke="#000" stroke-width="0.9"/>
<line x1="338.3" y1="205.6" x2="343.0" y2="206.7" stroke="#000" stroke-width="0.9"/>
<line x1="339.0" y1="227.3" x2="345.2" y2="226.7" stroke="#000" stroke-width="0.9"/>
<line x1="348.8" y1="223.0" x2="353.0" y2="222.5" stroke="#000" stroke-width="0.9"/>
<line x1="337.0" y1="190.5" x2="343.8" y2="190.9" stroke="#000" stroke-width="0.9"/>
<line x1="336.5" y1="202.5" x2="346.6" y2="201.9" stroke="#000" stroke-width="0.9"/>
<line x1="340.9" y1="176.2" x2="348.7" y2="174.2" stroke="#000" stroke-width="0.7"/>
<line x1="324.8" y1="202.9" x2="332.1" y2="202.5" stroke="#000" stroke-width="1.2"/>
<line x1="326.3" y1="225.1" x2="332.0" y2="224.8" stroke="#000" stroke-width="0.9"/>
<line x1="339.5" y1="198.2" x2="352.4" y2="197.1" stroke="#000" stroke-width="1.2"/>
<line x1="324.6" y1="215.1" x2="331.8" y2="214.5" stroke="#000" stroke-width="0.7"/>
<line x1="336.4" y1="219.4" x2="341.2" y2="220.5" stroke="#000" stroke-width="1.2"/>
<line x1="348.2" y1="192.9" x2="356.5" y2="195.0" stroke="#000" stroke-width="1.2"/>
<line x1="330.1" y1="182.6" x2="338.7" y2="182.6" stroke="#000" stroke-width="0.7"/>
<line x1="323.7" y1="196.7" x2="332.6" y2="194.8" stroke="#000" stroke-width="1.2"/>
<line x1="339.8" y1="228.7" x2="344.2" y2="228.5" stroke="#000" stroke-width="0.7"/>
<line x1="341.3" y1="190.9" x2="345.4" y2="190.5" stroke="#000" stroke-width="0.7"/>
<line x1="340.7" y1="206.2" x2="346.5" y2="206.2" stroke="#000" stroke-width="1.2"/>
<line x1="346.4" y1="205.2" x2="358.5" y2="205.3" stroke="#000" stroke-width="0.7"/>
<line x1="333.5" y1="205.6" x2="338.5" y2="204.7" stroke="#000" stroke-width="1.2"/>
<line x1="324.8" y1="179.9" x2="330.3" y2="179.9" stroke="#000" stroke-width="0.9"/>
<line x1="344.6" y1="207.7" x2="349.0" y2="206.6" stroke="#000" stroke-width="1.2"/>
<line x1="342.0" y1="191.8" x2="349.1" y2="190.5" stroke="#000" stroke-width="0.9"/>
<line x1="346.1" y1="208.6" x2="358.3" y2="205.7" stroke="#000" stroke-width="0.7"/>
<line x1="332.8" y1="198.7" x2="337.2" y2="199.7" stroke="#000" stroke-width="1.2"/>
<line x1="323.2" y1="216.0" x2="327.7" y2="215.4" stroke="#000" stroke-width="0.7"/>
<line x1="348.1" y1="176.4" x2="359.7" y2="175.3" stroke="#000" stroke-width="0.9"/>
<line x1="338.9" y1="190.7" x2="351.5" y2="190.7" stroke="#000" stroke-width="0.7"/>
<line x1="332.9" y1="187.4" x2="343.3" y2="185.8" stroke="#000" stroke-width="0.9"/>
<line x1="341.9" y1="195.9" x2="346.1" y2="196.7" stroke="#000" stroke-width="0.7"/>
<line x1="332.0" y1="183.5" x2="337.5" y2="184.9" stroke="#000" stroke-width="0.9"/>
<line x1="332.2" y1="195.8" x2="339.0" y2="197.1" stroke="#000" stroke-width="0.9"/>
<line x1="323.8" y1="196.2" x2="328.9" y2="197.0" stroke="#000" stroke-width="0.9"/>
<line x1="332.8" y1="204.5" x2="341.0" y2="203.8" stroke="#000" stroke-width="0.9"/>
<line x1="340.6" y1="175.9" x2="347.6" y2="174.7" stroke="#000" stroke-width="1.2"/>
<line x1="327.5" y1="181.1" x2="336.3" y2="182.5" stroke="#000" stroke-width="1.2"/>
<line x1="345.4" y1="198.4" x2="356.5" y2="196.4" stroke="#000" stroke-width="0.9"/>
<line x1="333.3" y1="185.9" x2="343.0" y2="186.3" stroke="#000" stroke-width="0.9"/>
<line x1="336.1" y1="226.3" x2="342.2" y2="226.2" stroke="#000" stroke-width="0.7"/>
<line x1="349.9" y1="225.8" x2="359.3" y2="225.5" stroke="#000" stroke-width="0.9"/>
<line x1="333.3" y1="203.4" x2="341.7" y2="201.7" stroke="#000" stroke-width="0.7"/>
<line x1="324.6" y1="211.3" x2="336.1" y2="212.7" stroke="#000" stroke-width="0.9"/>
<line x1="342.1" y1="175.6" x2="347.2" y2="174.2" stroke="#000" stroke-width="1.2"/>
<line x1="327.0" y1="178.7" x2="338.6" y2="177.6" stroke="#000" stroke-width="1.2"/>
<line x1="323.9" y1="223.0" x2="336.0" y2="225.0" stroke="#000" stroke-width="0.9"/>
<line x1="342.1" y1="184.6" x2="346.9" y2="184.1" stroke="#000" stroke-width="1.2"/>
<line x1="332.0" y1="195.9" x2="343.6" y2="195.7" stroke="#000" stroke-width="1.2"/>
<line x1="346.1" y1="222.6" x2="351.3" y2="221.9" stroke="#000" stroke-width="0.7"/>
<line x1="344.4" y1="194.2" x2="354.4" y2="196.3" stroke="#000" stroke-width="0.7"/>
<line x1="341.6" y1="210.2" x2="347.7" y2="211.4" stroke="#000" stroke-width="0.9"/>
<line x1="324.7" y1="223.8" x2="331.3" y2="223.0" stroke="#000" stroke-width="1.2"/>
<line x1="342.0" y1="214.4" x2="346.2" y2="213.3" stroke="#000" stroke-width="0.7"/>
<line x1="343.2" y1="197.7" x2="348.6" y2="198.4" stroke="#000" stroke-width="1.2"/>
<line x1="339.9" y1="191.1" x2="345.4" y2="192.1" stroke="#000" stroke-width="1.2"/>
<line x1="336.6" y1="201.4" x2="348.9" y2="202.5" stroke="#000" stroke-width="1.2"/>
<line x1="322.0" y1="193.2" x2="333.4" y2="194.9" stroke="#000" stroke-width="0.9"/>
<line x1="346.5" y1="223.6" x2="355.7" y2="224.5" stroke="#000" stroke-width="0.7"/>
<line x1="323.0" y1="211.5" x2="329.8" y2="212.5" stroke="#000" stroke-width="0.9"/>
<line x1="324.4" y1="215.2" x2="334.6" y2="214.7" stroke="#000" stroke-width="1.2"/>
<line x1="328.2" y1="207.8" x2="336.9" y2="207.2" stroke="#000" stroke-width="0.9"/>
<line x1="331.5" y1="198.3" x2="340.0" y2="199.2" stroke="#000" stroke-width="1.2"/>
<line x1="336.2" y1="208.4" x2="346.2" y2="206.9" stroke="#000" stroke-width="1.2"/>
<line x1="348.0" y1="202.2" x2="353.1" y2="202.9" stroke="#000" stroke-width="0.7"/>
<line x1="345.1" y1="226.4" x2="354.0" y2="224.8" stroke="#000" stroke-width="0.7"/>
<line x1="339.9" y1="227.3" x2="348.7" y2="226.2" stroke="#000" stroke-width="0.7"/>
<line x1="331.7" y1="183.2" x2="336.5" y2="183.6" stroke="#000" stroke-width="0.7"/>
<line x1="341.8" y1="181.5" x2="351.7" y2="180.1" stroke="#000" stroke-width="0.7"/>
<line x1="341.4" y1="174.3" x2="346.5" y2="174.7" stroke="#000" stroke-width="1.2"/>
</g>
<line x1="330" y1="186" x2="336" y2="176" stroke="#000" stroke-width="0.9"/>
<line x1="336" y1="180" x2="344" y2="172" stroke="#000" stroke-width="0.9"/>
<line x1="342" y1="182" x2="350" y2="176" stroke="#000" stroke-width="0.9"/>
<line x1="333" y1="190" x2="339" y2="183" stroke="#000" stroke-width="0.9"/>
<rect x="325.5" y="226.5" width="26" height="2.5" fill="#000"/>
<rect x="327" y="229" width="24" height="8" fill="#d8d8d8"/>
<line x1="334.2" y1="229" x2="334.2" y2="237.3" stroke="#000" stroke-width="0.8"/>
<line x1="330.4" y1="229" x2="330.4" y2="235.4" stroke="#000" stroke-width="0.8"/>
<line x1="335.0" y1="229" x2="335.0" y2="236.9" stroke="#000" stroke-width="0.8"/>
<line x1="340.2" y1="229" x2="340.2" y2="236.6" stroke="#000" stroke-width="0.8"/>
<line x1="331.1" y1="229" x2="331.1" y2="236.0" stroke="#000" stroke-width="0.8"/>
<line x1="341.4" y1="229" x2="341.4" y2="234.8" stroke="#000" stroke-width="0.8"/>
<line x1="345.4" y1="229" x2="345.4" y2="237.0" stroke="#000" stroke-width="0.8"/>
<line x1="329.7" y1="229" x2="329.7" y2="233.7" stroke="#000" stroke-width="0.8"/>
<line x1="335.7" y1="229" x2="335.7" y2="233.2" stroke="#000" stroke-width="0.8"/>
<line x1="328.4" y1="229" x2="328.4" y2="233.7" stroke="#000" stroke-width="0.8"/>
<path d="M333 240 Q338 236 342 242 L344 252 Q340 258 335 254 Z" fill="#fff" stroke="#333" stroke-width="0.7"/>
<rect x="335.2" y="250.6" width="0.9" height="0.9" fill="#000"/>
<rect x="337.9" y="240.0" width="0.9" height="0.9" fill="#000"/>
<rect x="336.6" y="246.4" width="0.9" height="0.9" fill="#000"/>
<rect x="337.0" y="241.0" width="0.9" height="0.9" fill="#000"/>
<rect x="333.8" y="238.2" width="0.9" height="0.9" fill="#000"/>
<rect x="343.9" y="251.5" width="0.9" height="0.9" fill="#000"/>
<rect x="333.9" y="250.9" width="0.9" height="0.9" fill="#000"/>
<rect x="343.8" y="248.1" width="0.9" height="0.9" fill="#000"/>
<rect x="334.2" y="246.8" width="0.9" height="0.9" fill="#000"/>
<rect x="337.8" y="241.4" width="0.9" height="0.9" fill="#000"/>
<clipPath id="rcl"><path d="M333 300 L336 275 L342 258 L352 250 L352 395 L333 395 Z"/></clipPath>
<g clip-path="url(#rcl)">
<rect x="333" y="234" width="19" height="161" fill="#fff"/>
<line x1="341.5" y1="237.3" x2="350.3" y2="239.8" stroke="#000" stroke-width="1.5"/>
<line x1="344.0" y1="276.0" x2="348.9" y2="274.4" stroke="#000" stroke-width="1.4"/>
<line x1="348.3" y1="283.1" x2="356.8" y2="279.9" stroke="#fff" stroke-width="1.5"/>
<line x1="332.9" y1="360.8" x2="342.6" y2="362.7" stroke="#000" stroke-width="1.0"/>
<line x1="348.0" y1="286.9" x2="356.2" y2="285.2" stroke="#000" stroke-width="1.4"/>
<line x1="334.5" y1="242.6" x2="343.5" y2="242.3" stroke="#fff" stroke-width="1.3"/>
<line x1="349.8" y1="386.2" x2="357.8" y2="385.5" stroke="#000" stroke-width="1.1"/>
<line x1="342.4" y1="248.8" x2="347.7" y2="249.2" stroke="#000" stroke-width="1.5"/>
<line x1="331.1" y1="242.4" x2="336.5" y2="241.6" stroke="#000" stroke-width="0.9"/>
<line x1="348.3" y1="372.0" x2="355.6" y2="373.2" stroke="#000" stroke-width="1.3"/>
<line x1="340.8" y1="303.0" x2="348.2" y2="301.3" stroke="#000" stroke-width="1.4"/>
<line x1="349.8" y1="262.1" x2="357.1" y2="260.2" stroke="#000" stroke-width="1.1"/>
<line x1="333.5" y1="249.5" x2="341.0" y2="247.7" stroke="#fff" stroke-width="1.4"/>
<line x1="348.9" y1="390.9" x2="357.4" y2="393.7" stroke="#fff" stroke-width="0.9"/>
<line x1="344.6" y1="332.9" x2="352.8" y2="330.6" stroke="#fff" stroke-width="1.2"/>
<line x1="343.9" y1="283.6" x2="354.7" y2="281.1" stroke="#000" stroke-width="1.0"/>
<line x1="344.6" y1="307.1" x2="353.0" y2="303.1" stroke="#000" stroke-width="1.2"/>
<line x1="338.6" y1="320.3" x2="345.7" y2="320.0" stroke="#000" stroke-width="1.0"/>
<line x1="349.5" y1="323.2" x2="359.4" y2="318.7" stroke="#000" stroke-width="1.0"/>
<line x1="341.2" y1="276.0" x2="349.6" y2="275.2" stroke="#000" stroke-width="1.2"/>
<line x1="331.6" y1="317.6" x2="336.2" y2="317.5" stroke="#000" stroke-width="0.9"/>
<line x1="339.1" y1="373.3" x2="348.8" y2="372.9" stroke="#000" stroke-width="1.0"/>
<line x1="351.8" y1="350.7" x2="361.4" y2="346.3" stroke="#000" stroke-width="1.0"/>
<line x1="351.1" y1="325.5" x2="356.1" y2="326.3" stroke="#000" stroke-width="0.9"/>
<line x1="334.4" y1="295.2" x2="342.1" y2="290.9" stroke="#000" stroke-width="1.1"/>
<line x1="345.3" y1="303.7" x2="354.0" y2="306.0" stroke="#fff" stroke-width="1.2"/>
<line x1="350.1" y1="374.5" x2="359.4" y2="370.8" stroke="#000" stroke-width="1.4"/>
<line x1="344.7" y1="367.3" x2="351.0" y2="364.4" stroke="#000" stroke-width="1.5"/>
<line x1="345.6" y1="242.9" x2="350.4" y2="242.9" stroke="#000" stroke-width="1.4"/>
<line x1="331.6" y1="383.1" x2="337.6" y2="383.5" stroke="#000" stroke-width="1.2"/>
<line x1="348.3" y1="328.4" x2="352.1" y2="326.7" stroke="#000" stroke-width="1.4"/>
<line x1="333.3" y1="324.1" x2="342.4" y2="321.6" stroke="#000" stroke-width="1.0"/>
<line x1="349.1" y1="321.6" x2="359.6" y2="322.4" stroke="#fff" stroke-width="0.9"/>
<line x1="336.9" y1="260.0" x2="347.8" y2="259.1" stroke="#fff" stroke-width="0.9"/>
<line x1="333.2" y1="366.1" x2="340.3" y2="366.6" stroke="#000" stroke-width="1.0"/>
<line x1="348.4" y1="298.6" x2="357.1" y2="300.7" stroke="#000" stroke-width="1.1"/>
<line x1="334.0" y1="378.1" x2="338.3" y2="378.1" stroke="#000" stroke-width="1.1"/>
<line x1="339.8" y1="327.7" x2="346.5" y2="326.5" stroke="#000" stroke-width="1.2"/>
<line x1="336.7" y1="239.3" x2="348.5" y2="237.8" stroke="#000" stroke-width="1.0"/>
<line x1="344.4" y1="279.4" x2="352.1" y2="277.1" stroke="#000" stroke-width="1.2"/>
<line x1="341.1" y1="388.2" x2="345.2" y2="389.6" stroke="#000" stroke-width="1.4"/>
<line x1="349.1" y1="359.1" x2="358.1" y2="359.4" stroke="#000" stroke-width="1.1"/>
<line x1="347.3" y1="374.8" x2="356.3" y2="377.5" stroke="#000" stroke-width="1.4"/>
<line x1="346.0" y1="316.9" x2="352.8" y2="317.1" stroke="#000" stroke-width="1.1"/>
<line x1="330.4" y1="289.6" x2="342.0" y2="286.8" stroke="#000" stroke-width="1.1"/>
<line x1="334.6" y1="273.3" x2="339.6" y2="272.2" stroke="#000" stroke-width="1.4"/>
<line x1="339.4" y1="306.8" x2="345.8" y2="306.7" stroke="#000" stroke-width="0.9"/>
<line x1="335.9" y1="285.1" x2="344.3" y2="286.0" stroke="#fff" stroke-width="1.1"/>
<line x1="350.2" y1="328.8" x2="355.1" y2="326.4" stroke="#000" stroke-width="1.5"/>
<line x1="337.2" y1="359.1" x2="348.0" y2="357.5" stroke="#000" stroke-width="1.2"/>
<line x1="349.7" y1="279.9" x2="353.7" y2="278.6" stroke="#000" stroke-width="1.1"/>
<line x1="345.2" y1="270.7" x2="350.7" y2="269.7" stroke="#000" stroke-width="1.4"/>
<line x1="343.9" y1="267.3" x2="355.5" y2="268.6" stroke="#000" stroke-width="0.9"/>
<line x1="347.6" y1="375.2" x2="352.6" y2="374.1" stroke="#000" stroke-width="1.2"/>
<line x1="349.1" y1="337.7" x2="354.6" y2="339.3" stroke="#000" stroke-width="1.3"/>
<line x1="343.9" y1="300.4" x2="350.6" y2="300.9" stroke="#000" stroke-width="1.1"/>
<line x1="330.0" y1="335.6" x2="337.8" y2="333.8" stroke="#000" stroke-width="1.1"/>
<line x1="339.7" y1="238.2" x2="347.8" y2="240.5" stroke="#fff" stroke-width="0.9"/>
<line x1="343.1" y1="351.1" x2="347.7" y2="350.0" stroke="#000" stroke-width="1.0"/>
<line x1="346.6" y1="250.3" x2="353.9" y2="251.7" stroke="#000" stroke-width="1.3"/>
<line x1="341.8" y1="340.5" x2="348.4" y2="340.5" stroke="#000" stroke-width="1.1"/>
<line x1="345.4" y1="357.4" x2="351.8" y2="358.4" stroke="#000" stroke-width="1.5"/>
<line x1="339.4" y1="280.2" x2="350.9" y2="279.5" stroke="#000" stroke-width="0.9"/>
<line x1="339.9" y1="340.2" x2="346.8" y2="341.2" stroke="#fff" stroke-width="1.0"/>
<line x1="346.4" y1="250.3" x2="350.9" y2="247.9" stroke="#000" stroke-width="1.2"/>
<line x1="341.8" y1="264.9" x2="348.4" y2="266.9" stroke="#000" stroke-width="1.0"/>
<line x1="346.0" y1="382.5" x2="349.9" y2="380.9" stroke="#000" stroke-width="1.0"/>
<line x1="351.6" y1="315.3" x2="358.3" y2="315.5" stroke="#fff" stroke-width="1.2"/>
<line x1="336.4" y1="379.7" x2="345.4" y2="375.5" stroke="#000" stroke-width="1.3"/>
<line x1="338.2" y1="373.4" x2="345.8" y2="369.5" stroke="#000" stroke-width="1.5"/>
<line x1="350.7" y1="335.7" x2="356.4" y2="333.8" stroke="#000" stroke-width="1.2"/>
<line x1="334.3" y1="268.3" x2="343.4" y2="269.6" stroke="#000" stroke-width="1.5"/>
<line x1="334.0" y1="326.6" x2="344.1" y2="322.4" stroke="#fff" stroke-width="1.1"/>
<line x1="346.3" y1="366.8" x2="352.7" y2="365.0" stroke="#000" stroke-width="1.4"/>
<line x1="332.7" y1="344.6" x2="340.3" y2="344.5" stroke="#000" stroke-width="1.4"/>
<line x1="333.8" y1="376.5" x2="343.8" y2="374.4" stroke="#fff" stroke-width="1.0"/>
<line x1="348.9" y1="394.2" x2="352.9" y2="393.1" stroke="#000" stroke-width="1.5"/>
<line x1="329.2" y1="380.9" x2="338.4" y2="377.2" stroke="#000" stroke-width="1.0"/>
<line x1="344.7" y1="250.3" x2="355.8" y2="247.8" stroke="#000" stroke-width="1.4"/>
<line x1="351.5" y1="241.2" x2="361.3" y2="238.0" stroke="#000" stroke-width="0.9"/>
<line x1="340.6" y1="272.8" x2="345.4" y2="272.1" stroke="#000" stroke-width="1.5"/>
<line x1="336.3" y1="375.7" x2="343.5" y2="372.5" stroke="#000" stroke-width="1.2"/>
<line x1="333.1" y1="345.0" x2="342.3" y2="341.2" stroke="#000" stroke-width="1.0"/>
<line x1="337.1" y1="314.9" x2="343.7" y2="316.8" stroke="#000" stroke-width="1.5"/>
<line x1="349.3" y1="352.3" x2="354.5" y2="350.8" stroke="#000" stroke-width="0.9"/>
<line x1="330.0" y1="316.9" x2="338.3" y2="315.5" stroke="#000" stroke-width="0.9"/>
<line x1="344.8" y1="339.8" x2="353.2" y2="339.4" stroke="#000" stroke-width="1.5"/>
<line x1="349.1" y1="350.1" x2="355.5" y2="349.0" stroke="#000" stroke-width="1.5"/>
<line x1="337.9" y1="297.3" x2="343.0" y2="296.4" stroke="#fff" stroke-width="0.9"/>
<line x1="343.0" y1="383.3" x2="351.5" y2="380.6" stroke="#000" stroke-width="1.0"/>
<line x1="333.6" y1="254.5" x2="343.6" y2="256.6" stroke="#fff" stroke-width="0.9"/>
<line x1="345.0" y1="287.6" x2="353.4" y2="287.9" stroke="#000" stroke-width="1.5"/>
<line x1="329.0" y1="354.6" x2="336.9" y2="356.4" stroke="#000" stroke-width="1.5"/>
<line x1="334.4" y1="336.1" x2="341.4" y2="337.0" stroke="#000" stroke-width="1.1"/>
<line x1="341.1" y1="333.4" x2="347.7" y2="333.9" stroke="#000" stroke-width="1.2"/>
<line x1="334.1" y1="333.4" x2="344.9" y2="330.1" stroke="#000" stroke-width="1.3"/>
<line x1="341.0" y1="311.8" x2="345.9" y2="310.1" stroke="#fff" stroke-width="1.2"/>
<line x1="341.1" y1="319.9" x2="346.9" y2="321.0" stroke="#000" stroke-width="1.4"/>
<line x1="339.6" y1="337.8" x2="350.5" y2="340.0" stroke="#fff" stroke-width="0.9"/>
<line x1="337.8" y1="368.3" x2="342.7" y2="369.2" stroke="#000" stroke-width="1.1"/>
<line x1="331.4" y1="292.7" x2="339.4" y2="294.1" stroke="#000" stroke-width="1.0"/>
<line x1="338.1" y1="394.5" x2="345.7" y2="395.1" stroke="#000" stroke-width="1.4"/>
<line x1="346.5" y1="259.8" x2="353.4" y2="260.3" stroke="#000" stroke-width="1.0"/>
<line x1="337.5" y1="290.1" x2="341.6" y2="289.3" stroke="#000" stroke-width="1.2"/>
<line x1="330.3" y1="264.4" x2="336.5" y2="265.0" stroke="#000" stroke-width="1.0"/>
<line x1="348.2" y1="250.5" x2="359.1" y2="250.9" stroke="#000" stroke-width="1.2"/>
<line x1="347.2" y1="334.2" x2="351.5" y2="333.4" stroke="#000" stroke-width="1.1"/>
<line x1="345.4" y1="282.9" x2="354.4" y2="281.4" stroke="#fff" stroke-width="1.1"/>
<line x1="337.9" y1="328.0" x2="343.2" y2="329.6" stroke="#fff" stroke-width="1.3"/>
<line x1="337.6" y1="341.8" x2="342.0" y2="340.8" stroke="#000" stroke-width="1.1"/>
<line x1="341.1" y1="315.0" x2="350.8" y2="317.6" stroke="#000" stroke-width="1.3"/>
<line x1="339.6" y1="309.5" x2="346.8" y2="311.0" stroke="#000" stroke-width="1.4"/>
<line x1="339.1" y1="314.1" x2="349.7" y2="313.3" stroke="#000" stroke-width="1.3"/>
<line x1="338.2" y1="242.5" x2="346.6" y2="243.0" stroke="#000" stroke-width="1.4"/>
<line x1="331.7" y1="271.1" x2="341.2" y2="266.4" stroke="#000" stroke-width="1.0"/>
<line x1="346.3" y1="325.7" x2="354.7" y2="321.4" stroke="#000" stroke-width="1.2"/>
<line x1="330.3" y1="345.9" x2="338.8" y2="344.5" stroke="#fff" stroke-width="1.4"/>
<line x1="349.1" y1="259.1" x2="357.0" y2="257.3" stroke="#000" stroke-width="1.5"/>
<line x1="335.3" y1="277.7" x2="341.2" y2="276.2" stroke="#fff" stroke-width="1.2"/>
<line x1="340.8" y1="302.8" x2="346.5" y2="299.8" stroke="#fff" stroke-width="1.4"/>
<line x1="348.7" y1="276.9" x2="352.9" y2="275.4" stroke="#000" stroke-width="1.1"/>
<line x1="339.7" y1="313.7" x2="346.6" y2="313.7" stroke="#fff" stroke-width="1.0"/>
<line x1="350.1" y1="324.4" x2="355.9" y2="321.4" stroke="#000" stroke-width="1.1"/>
<line x1="342.0" y1="287.4" x2="351.9" y2="284.5" stroke="#000" stroke-width="1.3"/>
<line x1="347.5" y1="330.1" x2="358.8" y2="328.7" stroke="#000" stroke-width="1.4"/>
<line x1="330.3" y1="305.0" x2="334.7" y2="305.1" stroke="#fff" stroke-width="0.9"/>
<line x1="342.7" y1="264.6" x2="350.9" y2="267.0" stroke="#fff" stroke-width="1.2"/>
<line x1="344.5" y1="343.3" x2="350.0" y2="341.8" stroke="#fff" stroke-width="1.0"/>
<line x1="350.1" y1="268.9" x2="354.4" y2="266.9" stroke="#fff" stroke-width="1.5"/>
<line x1="338.5" y1="340.8" x2="349.3" y2="337.5" stroke="#000" stroke-width="1.0"/>
<line x1="330.3" y1="346.6" x2="339.7" y2="341.6" stroke="#000" stroke-width="1.0"/>
<line x1="342.4" y1="286.7" x2="347.6" y2="286.5" stroke="#fff" stroke-width="1.1"/>
<line x1="348.4" y1="260.2" x2="360.0" y2="262.2" stroke="#000" stroke-width="0.9"/>
<line x1="337.7" y1="337.9" x2="345.7" y2="335.2" stroke="#000" stroke-width="1.2"/>
<line x1="345.7" y1="304.3" x2="350.7" y2="304.7" stroke="#fff" stroke-width="1.0"/>
<line x1="350.2" y1="394.4" x2="358.1" y2="396.8" stroke="#000" stroke-width="1.1"/>
<line x1="346.3" y1="315.0" x2="350.8" y2="316.3" stroke="#000" stroke-width="1.4"/>
<line x1="342.7" y1="322.0" x2="347.4" y2="319.8" stroke="#000" stroke-width="1.4"/>
<line x1="348.4" y1="272.1" x2="352.5" y2="273.3" stroke="#000" stroke-width="1.5"/>
<line x1="336.9" y1="386.2" x2="341.3" y2="386.4" stroke="#000" stroke-width="1.2"/>
<line x1="334.7" y1="354.0" x2="344.3" y2="350.3" stroke="#000" stroke-width="0.9"/>
<line x1="341.9" y1="251.2" x2="352.2" y2="250.8" stroke="#000" stroke-width="1.2"/>
<line x1="329.8" y1="317.6" x2="338.1" y2="313.7" stroke="#000" stroke-width="1.2"/>
<line x1="337.1" y1="295.6" x2="342.4" y2="295.9" stroke="#000" stroke-width="1.5"/>
<line x1="336.6" y1="369.9" x2="344.2" y2="371.8" stroke="#000" stroke-width="1.0"/>
<line x1="349.2" y1="254.6" x2="357.5" y2="253.9" stroke="#000" stroke-width="1.2"/>
<line x1="332.8" y1="321.1" x2="339.7" y2="320.6" stroke="#000" stroke-width="1.1"/>
<line x1="333.7" y1="256.2" x2="344.1" y2="252.8" stroke="#000" stroke-width="1.4"/>
<line x1="329.3" y1="386.0" x2="339.6" y2="385.0" stroke="#000" stroke-width="1.3"/>
<line x1="334.3" y1="355.3" x2="339.9" y2="352.9" stroke="#000" stroke-width="1.1"/>
<line x1="340.9" y1="282.4" x2="345.4" y2="283.6" stroke="#000" stroke-width="1.0"/>
<line x1="342.7" y1="360.7" x2="347.2" y2="361.1" stroke="#000" stroke-width="1.3"/>
<line x1="351.6" y1="242.6" x2="361.1" y2="242.7" stroke="#fff" stroke-width="1.1"/>
<line x1="347.6" y1="309.4" x2="351.6" y2="310.6" stroke="#fff" stroke-width="1.1"/>
<line x1="338.4" y1="250.0" x2="347.8" y2="247.0" stroke="#000" stroke-width="1.0"/>
<line x1="336.9" y1="258.3" x2="342.3" y2="256.3" stroke="#000" stroke-width="1.5"/>
<line x1="351.9" y1="361.9" x2="359.9" y2="361.0" stroke="#000" stroke-width="1.4"/>
<line x1="346.3" y1="337.2" x2="354.7" y2="334.1" stroke="#fff" stroke-width="1.4"/>
<line x1="331.1" y1="350.1" x2="336.3" y2="348.9" stroke="#fff" stroke-width="1.3"/>
<line x1="346.1" y1="257.5" x2="357.4" y2="259.7" stroke="#fff" stroke-width="1.3"/>
<line x1="348.1" y1="363.5" x2="355.6" y2="363.5" stroke="#fff" stroke-width="1.4"/>
<line x1="349.0" y1="283.5" x2="356.9" y2="286.1" stroke="#fff" stroke-width="1.0"/>
<line x1="351.3" y1="361.2" x2="361.5" y2="358.0" stroke="#000" stroke-width="1.0"/>
<line x1="339.5" y1="273.6" x2="350.7" y2="272.6" stroke="#000" stroke-width="1.3"/>
<line x1="338.0" y1="360.6" x2="347.3" y2="362.2" stroke="#fff" stroke-width="1.4"/>
<line x1="338.3" y1="249.8" x2="349.0" y2="250.3" stroke="#000" stroke-width="1.3"/>
<line x1="348.2" y1="362.1" x2="355.1" y2="358.1" stroke="#000" stroke-width="1.0"/>
<line x1="347.7" y1="302.6" x2="355.3" y2="302.6" stroke="#000" stroke-width="1.0"/>
<line x1="337.1" y1="370.3" x2="343.5" y2="370.4" stroke="#000" stroke-width="1.1"/>
<line x1="345.1" y1="306.3" x2="355.6" y2="306.8" stroke="#000" stroke-width="1.3"/>
<line x1="330.0" y1="366.8" x2="335.7" y2="364.7" stroke="#fff" stroke-width="1.1"/>
<line x1="334.2" y1="377.5" x2="345.3" y2="377.6" stroke="#000" stroke-width="1.2"/>
<line x1="351.0" y1="316.6" x2="356.2" y2="318.4" stroke="#fff" stroke-width="1.0"/>
<line x1="341.1" y1="236.1" x2="351.9" y2="231.9" stroke="#000" stroke-width="1.4"/>
<line x1="334.8" y1="292.0" x2="342.4" y2="288.5" stroke="#fff" stroke-width="1.2"/>
<line x1="337.7" y1="383.6" x2="346.7" y2="386.0" stroke="#000" stroke-width="1.3"/>
<line x1="339.2" y1="388.3" x2="348.3" y2="386.4" stroke="#000" stroke-width="1.1"/>
<line x1="341.0" y1="343.6" x2="348.7" y2="345.7" stroke="#000" stroke-width="1.5"/>
<line x1="330.3" y1="368.7" x2="338.7" y2="369.4" stroke="#000" stroke-width="1.4"/>
<line x1="349.5" y1="351.9" x2="353.7" y2="352.4" stroke="#000" stroke-width="1.0"/>
<line x1="350.9" y1="377.7" x2="358.9" y2="374.4" stroke="#000" stroke-width="0.9"/>
<line x1="338.0" y1="354.8" x2="344.3" y2="355.1" stroke="#000" stroke-width="1.1"/>
<line x1="341.5" y1="302.9" x2="350.2" y2="305.9" stroke="#fff" stroke-width="1.3"/>
<line x1="337.8" y1="389.1" x2="347.2" y2="390.0" stroke="#000" stroke-width="1.0"/>
<line x1="342.2" y1="367.3" x2="348.9" y2="368.5" stroke="#000" stroke-width="1.2"/>
<line x1="349.2" y1="261.8" x2="354.5" y2="262.4" stroke="#000" stroke-width="0.9"/>
<line x1="335.8" y1="296.9" x2="346.9" y2="300.6" stroke="#000" stroke-width="1.1"/>
<line x1="350.7" y1="267.4" x2="358.0" y2="265.6" stroke="#000" stroke-width="1.1"/>
<line x1="338.1" y1="297.3" x2="343.9" y2="299.2" stroke="#000" stroke-width="1.4"/>
<line x1="339.4" y1="369.1" x2="349.6" y2="369.4" stroke="#000" stroke-width="1.0"/>
<line x1="346.4" y1="310.8" x2="355.8" y2="310.4" stroke="#000" stroke-width="1.1"/>
<line x1="337.3" y1="381.9" x2="343.6" y2="381.5" stroke="#000" stroke-width="1.1"/>
<line x1="346.7" y1="242.6" x2="355.1" y2="244.2" stroke="#000" stroke-width="1.5"/>
<line x1="335.1" y1="274.7" x2="342.6" y2="271.0" stroke="#000" stroke-width="1.3"/>
<line x1="338.5" y1="364.4" x2="344.4" y2="361.8" stroke="#000" stroke-width="1.5"/>
<line x1="343.6" y1="346.0" x2="350.7" y2="347.1" stroke="#fff" stroke-width="1.3"/>
<line x1="336.9" y1="298.4" x2="343.5" y2="299.6" stroke="#000" stroke-width="1.4"/>
<line x1="341.2" y1="318.9" x2="352.4" y2="319.5" stroke="#000" stroke-width="1.1"/>
<line x1="330.5" y1="301.7" x2="341.3" y2="300.8" stroke="#000" stroke-width="1.2"/>
<line x1="338.3" y1="327.2" x2="348.6" y2="324.2" stroke="#fff" stroke-width="1.4"/>
<line x1="332.5" y1="342.8" x2="340.4" y2="343.8" stroke="#fff" stroke-width="1.4"/>
<line x1="346.1" y1="366.5" x2="357.1" y2="367.0" stroke="#000" stroke-width="1.3"/>
<line x1="345.2" y1="333.4" x2="349.5" y2="332.1" stroke="#000" stroke-width="1.4"/>
<line x1="335.3" y1="269.9" x2="339.8" y2="268.3" stroke="#000" stroke-width="1.5"/>
<line x1="347.4" y1="293.2" x2="352.0" y2="293.6" stroke="#fff" stroke-width="1.1"/>
<line x1="329.1" y1="336.0" x2="334.8" y2="333.6" stroke="#000" stroke-width="1.2"/>
<line x1="341.8" y1="364.4" x2="351.1" y2="359.4" stroke="#000" stroke-width="1.0"/>
<line x1="343.5" y1="290.1" x2="351.8" y2="288.1" stroke="#000" stroke-width="1.4"/>
<line x1="333.8" y1="369.5" x2="342.0" y2="371.0" stroke="#000" stroke-width="1.4"/>
<line x1="329.7" y1="316.2" x2="334.1" y2="315.6" stroke="#000" stroke-width="1.3"/>
<line x1="342.5" y1="299.6" x2="351.1" y2="299.0" stroke="#000" stroke-width="1.4"/>
<line x1="351.9" y1="363.9" x2="358.2" y2="365.9" stroke="#fff" stroke-width="0.9"/>
<line x1="340.0" y1="257.3" x2="349.4" y2="256.1" stroke="#000" stroke-width="1.2"/>
<line x1="336.9" y1="266.2" x2="343.0" y2="265.1" stroke="#000" stroke-width="1.3"/>
<line x1="340.9" y1="305.7" x2="349.9" y2="302.4" stroke="#000" stroke-width="1.1"/>
<line x1="341.9" y1="347.5" x2="351.3" y2="350.7" stroke="#fff" stroke-width="1.5"/>
<line x1="345.6" y1="350.4" x2="350.7" y2="347.9" stroke="#000" stroke-width="1.4"/>
<line x1="345.6" y1="336.2" x2="352.2" y2="334.2" stroke="#000" stroke-width="1.3"/>
<line x1="351.8" y1="284.6" x2="356.6" y2="282.1" stroke="#000" stroke-width="1.4"/>
<line x1="347.5" y1="308.4" x2="351.9" y2="306.3" stroke="#000" stroke-width="1.4"/>
<line x1="339.8" y1="393.5" x2="349.8" y2="396.3" stroke="#000" stroke-width="1.4"/>
<line x1="332.0" y1="253.3" x2="340.0" y2="253.1" stroke="#000" stroke-width="1.1"/>
<line x1="329.5" y1="380.5" x2="341.0" y2="381.6" stroke="#fff" stroke-width="1.2"/>
<line x1="345.8" y1="297.1" x2="356.4" y2="299.1" stroke="#000" stroke-width="0.9"/>
<line x1="333.9" y1="329.1" x2="337.9" y2="328.3" stroke="#fff" stroke-width="1.4"/>
<line x1="339.7" y1="242.9" x2="347.7" y2="244.9" stroke="#000" stroke-width="1.1"/>
<line x1="343.4" y1="376.8" x2="352.4" y2="375.8" stroke="#000" stroke-width="1.0"/>
<line x1="349.8" y1="296.8" x2="357.8" y2="293.2" stroke="#000" stroke-width="1.0"/>
<line x1="339.5" y1="329.1" x2="349.1" y2="329.4" stroke="#000" stroke-width="0.9"/>
<line x1="345.7" y1="244.5" x2="352.8" y2="243.7" stroke="#000" stroke-width="1.3"/>
<line x1="334.5" y1="339.3" x2="342.3" y2="339.9" stroke="#000" stroke-width="1.4"/>
<line x1="342.8" y1="246.0" x2="354.1" y2="242.3" stroke="#000" stroke-width="1.1"/>
<line x1="347.1" y1="367.0" x2="357.1" y2="367.3" stroke="#000" stroke-width="1.0"/>
<line x1="351.5" y1="363.6" x2="355.3" y2="361.6" stroke="#000" stroke-width="1.5"/>
<line x1="334.1" y1="342.8" x2="342.8" y2="345.4" stroke="#fff" stroke-width="1.1"/>
<line x1="332.5" y1="238.9" x2="337.3" y2="239.6" stroke="#fff" stroke-width="1.3"/>
<line x1="333.3" y1="364.3" x2="340.8" y2="361.3" stroke="#000" stroke-width="1.4"/>
<line x1="349.5" y1="381.7" x2="358.8" y2="376.3" stroke="#000" stroke-width="1.4"/>
<line x1="340.6" y1="334.6" x2="351.0" y2="334.5" stroke="#000" stroke-width="0.9"/>
<line x1="341.5" y1="282.3" x2="345.5" y2="281.5" stroke="#000" stroke-width="0.9"/>
<line x1="348.1" y1="365.0" x2="353.0" y2="364.4" stroke="#000" stroke-width="1.0"/>
<line x1="338.9" y1="253.6" x2="346.8" y2="256.3" stroke="#000" stroke-width="1.0"/>
<line x1="345.8" y1="371.1" x2="350.5" y2="372.1" stroke="#000" stroke-width="1.1"/>
<line x1="346.5" y1="259.5" x2="358.4" y2="259.6" stroke="#000" stroke-width="0.9"/>
<line x1="330.7" y1="254.1" x2="339.5" y2="254.8" stroke="#000" stroke-width="1.2"/>
<line x1="338.4" y1="333.2" x2="349.7" y2="333.6" stroke="#000" stroke-width="1.4"/>
<line x1="350.0" y1="369.1" x2="354.2" y2="369.5" stroke="#000" stroke-width="1.4"/>
<line x1="338.9" y1="375.6" x2="349.7" y2="371.5" stroke="#000" stroke-width="1.3"/>
<line x1="334.8" y1="283.8" x2="341.2" y2="282.3" stroke="#000" stroke-width="1.2"/>
<line x1="351.6" y1="340.0" x2="361.2" y2="342.9" stroke="#fff" stroke-width="1.5"/>
<line x1="346.3" y1="279.6" x2="353.3" y2="277.4" stroke="#000" stroke-width="1.0"/>
<line x1="349.4" y1="382.4" x2="359.3" y2="380.0" stroke="#000" stroke-width="1.4"/>
<line x1="347.3" y1="320.6" x2="356.9" y2="316.2" stroke="#000" stroke-width="1.3"/>
<line x1="337.4" y1="321.4" x2="342.5" y2="323.1" stroke="#000" stroke-width="1.3"/>
<line x1="341.4" y1="385.1" x2="352.5" y2="383.2" stroke="#000" stroke-width="1.5"/>
<line x1="331.1" y1="269.8" x2="341.9" y2="266.7" stroke="#000" stroke-width="1.1"/>
<line x1="345.5" y1="393.4" x2="352.5" y2="390.7" stroke="#000" stroke-width="1.3"/>
<line x1="346.2" y1="355.7" x2="351.9" y2="353.9" stroke="#000" stroke-width="1.3"/>
<line x1="333.8" y1="277.3" x2="342.5" y2="280.1" stroke="#000" stroke-width="1.3"/>
<line x1="342.8" y1="346.5" x2="347.1" y2="345.3" stroke="#000" stroke-width="0.9"/>
<line x1="337.3" y1="258.6" x2="344.6" y2="255.3" stroke="#fff" stroke-width="1.3"/>
<line x1="335.3" y1="358.3" x2="339.8" y2="356.6" stroke="#000" stroke-width="1.1"/>
<line x1="344.9" y1="306.7" x2="349.6" y2="307.3" stroke="#fff" stroke-width="1.1"/>
<line x1="348.1" y1="240.9" x2="353.8" y2="242.0" stroke="#fff" stroke-width="1.4"/>
<line x1="344.4" y1="280.1" x2="349.2" y2="277.4" stroke="#fff" stroke-width="1.0"/>
<line x1="344.2" y1="329.3" x2="349.6" y2="329.6" stroke="#000" stroke-width="1.0"/>
<line x1="351.6" y1="296.9" x2="360.2" y2="297.3" stroke="#000" stroke-width="0.9"/>
<line x1="329.3" y1="371.6" x2="340.1" y2="366.9" stroke="#000" stroke-width="1.3"/>
<line x1="332.2" y1="361.3" x2="338.8" y2="359.2" stroke="#000" stroke-width="1.0"/>
<line x1="334.7" y1="362.6" x2="341.5" y2="360.6" stroke="#000" stroke-width="1.0"/>
<line x1="333.5" y1="270.8" x2="340.3" y2="269.5" stroke="#000" stroke-width="1.2"/>
<line x1="349.0" y1="244.0" x2="359.7" y2="244.6" stroke="#000" stroke-width="0.9"/>
<line x1="339.1" y1="254.4" x2="348.7" y2="253.2" stroke="#000" stroke-width="1.0"/>
<line x1="340.0" y1="263.6" x2="347.2" y2="261.3" stroke="#000" stroke-width="0.9"/>
<line x1="337.3" y1="310.6" x2="345.4" y2="313.0" stroke="#000" stroke-width="1.0"/>
<line x1="346.1" y1="325.5" x2="357.5" y2="328.2" stroke="#fff" stroke-width="1.0"/>
<line x1="350.7" y1="319.4" x2="355.8" y2="317.8" stroke="#fff" stroke-width="1.0"/>
<line x1="330.9" y1="278.2" x2="338.3" y2="280.3" stroke="#000" stroke-width="0.9"/>
<line x1="339.4" y1="286.5" x2="348.2" y2="283.4" stroke="#000" stroke-width="1.0"/>
<line x1="351.6" y1="312.6" x2="355.5" y2="311.1" stroke="#000" stroke-width="1.2"/>
<line x1="329.6" y1="310.8" x2="337.8" y2="311.8" stroke="#000" stroke-width="1.2"/>
<line x1="342.9" y1="339.5" x2="352.5" y2="335.5" stroke="#fff" stroke-width="1.3"/>
<line x1="348.7" y1="294.5" x2="354.0" y2="295.9" stroke="#000" stroke-width="1.3"/>
<line x1="349.7" y1="249.0" x2="353.8" y2="247.6" stroke="#000" stroke-width="1.0"/>
<line x1="333.4" y1="355.1" x2="344.9" y2="354.9" stroke="#000" stroke-width="1.3"/>
<line x1="329.3" y1="386.8" x2="336.7" y2="384.3" stroke="#000" stroke-width="1.5"/>
<line x1="340.3" y1="393.7" x2="346.0" y2="393.8" stroke="#fff" stroke-width="1.0"/>
<line x1="352.0" y1="308.6" x2="363.1" y2="304.9" stroke="#000" stroke-width="1.1"/>
<line x1="336.9" y1="342.3" x2="343.0" y2="338.9" stroke="#000" stroke-width="1.4"/>
<line x1="329.0" y1="332.6" x2="336.3" y2="330.4" stroke="#000" stroke-width="1.3"/>
<line x1="332.2" y1="274.2" x2="342.8" y2="269.5" stroke="#000" stroke-width="1.0"/>
<line x1="341.0" y1="328.4" x2="345.3" y2="329.5" stroke="#000" stroke-width="1.0"/>
<line x1="342.5" y1="307.9" x2="353.4" y2="306.1" stroke="#000" stroke-width="1.4"/>
<line x1="351.0" y1="278.8" x2="358.0" y2="280.9" stroke="#000" stroke-width="1.4"/>
<line x1="331.4" y1="238.8" x2="337.5" y2="237.1" stroke="#fff" stroke-width="1.4"/>
<line x1="338.7" y1="320.2" x2="348.9" y2="322.4" stroke="#000" stroke-width="1.2"/>
<line x1="331.7" y1="274.8" x2="340.4" y2="275.2" stroke="#fff" stroke-width="1.4"/>
<line x1="351.1" y1="266.6" x2="361.2" y2="261.7" stroke="#000" stroke-width="1.0"/>
<line x1="344.9" y1="276.6" x2="351.5" y2="274.5" stroke="#000" stroke-width="1.3"/>
<line x1="330.7" y1="353.9" x2="338.5" y2="354.0" stroke="#000" stroke-width="1.4"/>
<path d="M340 330 L351 326 L352 352 L341 354 Z" fill="#fff" stroke="#000" stroke-width="0.8"/>
</g>
<clipPath id="lcl"><path d="M210.5 286 L231 290 L231 395 L210.5 395 Z"/></clipPath>
<g clip-path="url(#lcl)">
<rect x="210" y="286" width="21" height="109" fill="#fff"/>
<line x1="206.7" y1="345.2" x2="216.4" y2="345.8" stroke="#000" stroke-width="1.0"/>
<line x1="230.0" y1="374.6" x2="237.0" y2="372.3" stroke="#fff" stroke-width="1.0"/>
<line x1="216.5" y1="391.4" x2="222.2" y2="392.9" stroke="#000" stroke-width="1.1"/>
<line x1="222.8" y1="372.9" x2="228.0" y2="370.5" stroke="#000" stroke-width="1.1"/>
<line x1="207.4" y1="312.9" x2="214.6" y2="311.7" stroke="#000" stroke-width="1.2"/>
<line x1="229.6" y1="354.8" x2="239.0" y2="352.8" stroke="#000" stroke-width="1.0"/>
<line x1="218.3" y1="301.7" x2="223.6" y2="302.0" stroke="#000" stroke-width="1.5"/>
<line x1="225.3" y1="379.4" x2="234.4" y2="379.7" stroke="#000" stroke-width="1.5"/>
<line x1="211.3" y1="372.8" x2="217.2" y2="371.2" stroke="#fff" stroke-width="1.3"/>
<line x1="227.3" y1="383.1" x2="232.9" y2="383.1" stroke="#000" stroke-width="1.2"/>
<line x1="224.3" y1="325.9" x2="227.9" y2="324.1" stroke="#000" stroke-width="1.3"/>
<line x1="206.6" y1="321.8" x2="215.9" y2="319.1" stroke="#fff" stroke-width="0.9"/>
<line x1="209.3" y1="388.8" x2="214.2" y2="390.4" stroke="#000" stroke-width="1.2"/>
<line x1="214.3" y1="339.7" x2="220.4" y2="339.0" stroke="#000" stroke-width="1.0"/>
<line x1="210.5" y1="308.7" x2="220.1" y2="308.9" stroke="#000" stroke-width="1.4"/>
<line x1="224.4" y1="332.5" x2="229.8" y2="331.9" stroke="#fff" stroke-width="1.2"/>
<line x1="207.8" y1="314.6" x2="214.8" y2="315.2" stroke="#000" stroke-width="1.0"/>
<line x1="226.0" y1="376.2" x2="233.9" y2="372.5" stroke="#000" stroke-width="1.3"/>
<line x1="226.2" y1="375.2" x2="230.7" y2="373.7" stroke="#000" stroke-width="1.2"/>
<line x1="209.9" y1="318.3" x2="214.7" y2="318.2" stroke="#000" stroke-width="1.0"/>
<line x1="212.8" y1="340.2" x2="222.6" y2="339.7" stroke="#000" stroke-width="1.3"/>
<line x1="211.9" y1="327.6" x2="221.4" y2="328.0" stroke="#000" stroke-width="1.4"/>
<line x1="211.5" y1="329.6" x2="217.6" y2="329.9" stroke="#000" stroke-width="1.0"/>
<line x1="225.4" y1="378.6" x2="237.0" y2="379.7" stroke="#fff" stroke-width="1.1"/>
<line x1="214.2" y1="368.5" x2="222.1" y2="364.5" stroke="#000" stroke-width="0.9"/>
<line x1="219.1" y1="314.4" x2="229.6" y2="317.5" stroke="#000" stroke-width="1.0"/>
<line x1="209.4" y1="348.1" x2="216.3" y2="347.7" stroke="#000" stroke-width="1.2"/>
<line x1="225.5" y1="310.1" x2="231.8" y2="306.9" stroke="#000" stroke-width="1.1"/>
<line x1="222.9" y1="321.1" x2="230.5" y2="319.2" stroke="#000" stroke-width="1.4"/>
<line x1="215.6" y1="342.5" x2="226.6" y2="345.7" stroke="#000" stroke-width="1.0"/>
<line x1="217.7" y1="360.5" x2="221.8" y2="359.3" stroke="#fff" stroke-width="1.4"/>
<line x1="209.7" y1="344.3" x2="216.1" y2="344.4" stroke="#000" stroke-width="1.4"/>
<line x1="225.4" y1="341.5" x2="231.8" y2="338.4" stroke="#000" stroke-width="1.5"/>
<line x1="207.8" y1="327.4" x2="212.8" y2="328.1" stroke="#000" stroke-width="0.9"/>
<line x1="210.5" y1="350.5" x2="215.8" y2="351.6" stroke="#000" stroke-width="1.4"/>
<line x1="216.9" y1="332.1" x2="222.4" y2="329.7" stroke="#fff" stroke-width="1.0"/>
<line x1="212.9" y1="370.4" x2="223.7" y2="373.2" stroke="#000" stroke-width="1.5"/>
<line x1="221.3" y1="327.4" x2="231.0" y2="326.3" stroke="#000" stroke-width="1.0"/>
<line x1="211.2" y1="391.0" x2="220.8" y2="386.7" stroke="#000" stroke-width="1.0"/>
<line x1="212.8" y1="344.6" x2="217.6" y2="346.3" stroke="#fff" stroke-width="1.1"/>
<line x1="210.7" y1="370.8" x2="216.1" y2="369.5" stroke="#000" stroke-width="1.4"/>
<line x1="227.6" y1="354.6" x2="236.4" y2="349.6" stroke="#000" stroke-width="1.4"/>
<line x1="229.8" y1="331.1" x2="240.1" y2="333.3" stroke="#000" stroke-width="1.1"/>
<line x1="215.7" y1="333.5" x2="220.5" y2="332.6" stroke="#000" stroke-width="1.4"/>
<line x1="216.6" y1="360.4" x2="226.3" y2="362.9" stroke="#000" stroke-width="1.5"/>
<line x1="226.2" y1="394.1" x2="236.2" y2="395.2" stroke="#fff" stroke-width="1.1"/>
<line x1="222.6" y1="336.2" x2="227.5" y2="337.2" stroke="#000" stroke-width="1.1"/>
<line x1="226.6" y1="332.8" x2="237.1" y2="335.1" stroke="#fff" stroke-width="1.0"/>
<line x1="229.5" y1="370.7" x2="238.7" y2="371.3" stroke="#000" stroke-width="1.4"/>
<line x1="219.9" y1="343.3" x2="229.9" y2="341.0" stroke="#fff" stroke-width="1.4"/>
<line x1="211.7" y1="332.3" x2="216.3" y2="330.9" stroke="#000" stroke-width="0.9"/>
<line x1="226.0" y1="321.6" x2="230.1" y2="319.6" stroke="#000" stroke-width="1.0"/>
<line x1="217.8" y1="338.2" x2="229.3" y2="340.2" stroke="#000" stroke-width="1.3"/>
<line x1="228.4" y1="344.7" x2="238.0" y2="347.2" stroke="#000" stroke-width="1.4"/>
<line x1="220.5" y1="310.1" x2="231.2" y2="309.9" stroke="#000" stroke-width="1.2"/>
<line x1="216.7" y1="383.6" x2="222.4" y2="384.0" stroke="#000" stroke-width="1.1"/>
<line x1="230.0" y1="366.1" x2="240.3" y2="361.6" stroke="#000" stroke-width="1.3"/>
<line x1="217.1" y1="368.2" x2="221.8" y2="367.5" stroke="#000" stroke-width="1.4"/>
<line x1="225.8" y1="333.9" x2="235.2" y2="330.7" stroke="#fff" stroke-width="1.0"/>
<line x1="228.1" y1="394.3" x2="235.1" y2="393.3" stroke="#000" stroke-width="1.5"/>
<line x1="211.4" y1="328.7" x2="221.0" y2="326.4" stroke="#000" stroke-width="1.2"/>
<line x1="218.8" y1="363.5" x2="229.5" y2="359.0" stroke="#fff" stroke-width="1.2"/>
<line x1="226.0" y1="317.4" x2="234.1" y2="319.7" stroke="#fff" stroke-width="1.4"/>
<line x1="215.4" y1="387.8" x2="219.3" y2="386.4" stroke="#000" stroke-width="1.4"/>
<line x1="228.6" y1="390.7" x2="240.0" y2="389.8" stroke="#000" stroke-width="1.0"/>
<line x1="222.0" y1="376.3" x2="230.7" y2="375.0" stroke="#000" stroke-width="1.1"/>
<line x1="216.8" y1="348.8" x2="221.5" y2="348.2" stroke="#000" stroke-width="1.1"/>
<line x1="224.1" y1="371.1" x2="229.8" y2="369.2" stroke="#000" stroke-width="1.0"/>
<line x1="221.3" y1="385.9" x2="229.4" y2="382.9" stroke="#000" stroke-width="1.3"/>
<line x1="223.9" y1="367.5" x2="234.2" y2="364.5" stroke="#fff" stroke-width="0.9"/>
<line x1="229.6" y1="342.0" x2="233.7" y2="340.1" stroke="#fff" stroke-width="1.3"/>
<line x1="210.0" y1="343.7" x2="222.0" y2="344.1" stroke="#000" stroke-width="1.4"/>
<line x1="212.5" y1="318.9" x2="219.3" y2="316.2" stroke="#000" stroke-width="1.1"/>
<line x1="210.5" y1="320.8" x2="215.5" y2="318.3" stroke="#000" stroke-width="1.2"/>
<line x1="211.0" y1="345.6" x2="222.7" y2="343.9" stroke="#000" stroke-width="1.5"/>
<line x1="218.0" y1="318.8" x2="223.2" y2="318.8" stroke="#000" stroke-width="0.9"/>
<line x1="223.7" y1="391.9" x2="230.4" y2="390.7" stroke="#000" stroke-width="1.1"/>
<line x1="223.4" y1="337.2" x2="233.5" y2="333.1" stroke="#000" stroke-width="0.9"/>
<line x1="227.3" y1="369.2" x2="236.1" y2="367.3" stroke="#fff" stroke-width="1.1"/>
<line x1="217.1" y1="328.3" x2="226.4" y2="328.0" stroke="#000" stroke-width="1.5"/>
<line x1="210.1" y1="334.8" x2="220.1" y2="337.0" stroke="#000" stroke-width="1.3"/>
<line x1="214.8" y1="389.8" x2="222.0" y2="389.4" stroke="#000" stroke-width="1.0"/>
<line x1="228.5" y1="376.0" x2="234.3" y2="372.9" stroke="#000" stroke-width="1.2"/>
<line x1="215.4" y1="385.0" x2="223.5" y2="383.3" stroke="#fff" stroke-width="1.3"/>
<line x1="218.2" y1="331.6" x2="226.9" y2="330.0" stroke="#fff" stroke-width="1.1"/>
<line x1="215.6" y1="336.8" x2="226.6" y2="334.5" stroke="#000" stroke-width="1.1"/>
<line x1="214.6" y1="378.0" x2="223.5" y2="374.5" stroke="#000" stroke-width="1.0"/>
<line x1="208.0" y1="376.5" x2="213.3" y2="374.3" stroke="#000" stroke-width="1.1"/>
<line x1="224.5" y1="368.4" x2="235.6" y2="371.5" stroke="#000" stroke-width="1.5"/>
<line x1="208.7" y1="387.9" x2="214.2" y2="387.1" stroke="#000" stroke-width="1.4"/>
<line x1="216.0" y1="308.9" x2="225.7" y2="311.2" stroke="#000" stroke-width="1.5"/>
<line x1="207.4" y1="305.3" x2="211.3" y2="303.6" stroke="#000" stroke-width="1.3"/>
<line x1="209.3" y1="315.4" x2="217.5" y2="312.2" stroke="#000" stroke-width="1.5"/>
<line x1="215.3" y1="393.0" x2="222.4" y2="392.0" stroke="#000" stroke-width="1.0"/>
<line x1="230.4" y1="394.5" x2="235.8" y2="395.0" stroke="#000" stroke-width="1.0"/>
<line x1="215.1" y1="370.0" x2="222.4" y2="366.3" stroke="#000" stroke-width="0.9"/>
<line x1="217.3" y1="375.1" x2="224.9" y2="375.0" stroke="#fff" stroke-width="1.3"/>
<line x1="214.8" y1="337.6" x2="225.1" y2="340.8" stroke="#fff" stroke-width="1.2"/>
<line x1="210.0" y1="316.6" x2="219.3" y2="314.8" stroke="#000" stroke-width="1.4"/>
<line x1="225.8" y1="348.9" x2="234.8" y2="343.8" stroke="#000" stroke-width="1.3"/>
<line x1="220.5" y1="369.2" x2="232.0" y2="367.3" stroke="#fff" stroke-width="1.5"/>
<line x1="221.6" y1="330.1" x2="227.6" y2="328.9" stroke="#fff" stroke-width="1.4"/>
<line x1="225.8" y1="378.0" x2="234.8" y2="381.2" stroke="#000" stroke-width="1.4"/>
<line x1="212.9" y1="358.0" x2="223.0" y2="354.0" stroke="#000" stroke-width="1.1"/>
<line x1="229.1" y1="307.9" x2="238.8" y2="310.7" stroke="#000" stroke-width="1.4"/>
<line x1="220.5" y1="386.2" x2="228.0" y2="386.1" stroke="#fff" stroke-width="1.0"/>
<line x1="225.5" y1="309.8" x2="230.3" y2="308.4" stroke="#fff" stroke-width="1.2"/>
<line x1="224.3" y1="324.4" x2="233.4" y2="325.4" stroke="#000" stroke-width="1.2"/>
<line x1="224.2" y1="320.4" x2="230.4" y2="320.7" stroke="#000" stroke-width="1.5"/>
<line x1="229.6" y1="394.8" x2="238.1" y2="393.5" stroke="#fff" stroke-width="1.4"/>
<line x1="217.7" y1="382.0" x2="229.1" y2="380.0" stroke="#000" stroke-width="1.0"/>
<line x1="224.9" y1="313.8" x2="229.3" y2="314.1" stroke="#fff" stroke-width="1.2"/>
<line x1="224.6" y1="312.5" x2="231.6" y2="312.7" stroke="#000" stroke-width="1.4"/>
<line x1="207.3" y1="345.4" x2="217.1" y2="340.7" stroke="#fff" stroke-width="0.9"/>
<line x1="217.9" y1="344.6" x2="227.7" y2="345.6" stroke="#000" stroke-width="1.5"/>
<line x1="211.0" y1="313.0" x2="215.9" y2="313.9" stroke="#000" stroke-width="1.2"/>
<line x1="214.7" y1="315.6" x2="222.2" y2="317.8" stroke="#fff" stroke-width="1.1"/>
<line x1="228.9" y1="321.0" x2="237.4" y2="323.4" stroke="#fff" stroke-width="1.4"/>
<line x1="222.0" y1="350.6" x2="229.3" y2="352.3" stroke="#000" stroke-width="1.4"/>
<line x1="226.2" y1="364.8" x2="232.0" y2="365.5" stroke="#000" stroke-width="1.4"/>
<line x1="230.1" y1="387.7" x2="238.9" y2="384.2" stroke="#000" stroke-width="1.1"/>
<line x1="210.6" y1="313.0" x2="218.5" y2="312.1" stroke="#000" stroke-width="1.1"/>
<line x1="220.1" y1="372.4" x2="225.4" y2="372.3" stroke="#fff" stroke-width="1.1"/>
<line x1="230.0" y1="393.3" x2="238.0" y2="389.9" stroke="#fff" stroke-width="1.1"/>
<line x1="219.9" y1="329.8" x2="224.9" y2="327.1" stroke="#000" stroke-width="1.1"/>
<line x1="221.9" y1="353.5" x2="231.0" y2="356.3" stroke="#000" stroke-width="1.5"/>
<line x1="222.0" y1="351.6" x2="231.1" y2="353.7" stroke="#000" stroke-width="1.3"/>
<line x1="213.9" y1="392.1" x2="225.1" y2="388.5" stroke="#000" stroke-width="0.9"/>
<line x1="220.1" y1="319.5" x2="225.0" y2="319.1" stroke="#fff" stroke-width="1.3"/>
<line x1="223.3" y1="388.0" x2="232.1" y2="391.2" stroke="#000" stroke-width="0.9"/>
<line x1="207.7" y1="340.5" x2="213.9" y2="342.6" stroke="#000" stroke-width="0.9"/>
<line x1="216.7" y1="385.7" x2="227.3" y2="385.6" stroke="#000" stroke-width="1.0"/>
<line x1="210.9" y1="379.1" x2="221.3" y2="374.2" stroke="#000" stroke-width="1.4"/>
<line x1="219.1" y1="330.7" x2="226.0" y2="333.0" stroke="#000" stroke-width="0.9"/>
<line x1="226.8" y1="393.2" x2="235.9" y2="389.1" stroke="#000" stroke-width="1.0"/>
<line x1="215.4" y1="362.9" x2="226.8" y2="366.5" stroke="#fff" stroke-width="1.3"/>
<line x1="222.5" y1="315.3" x2="230.9" y2="316.2" stroke="#000" stroke-width="1.4"/>
<line x1="212.7" y1="313.5" x2="217.6" y2="311.5" stroke="#000" stroke-width="1.4"/>
<line x1="210.4" y1="347.8" x2="218.9" y2="347.6" stroke="#000" stroke-width="1.2"/>
<line x1="206.9" y1="305.5" x2="212.7" y2="304.6" stroke="#fff" stroke-width="1.0"/>
<line x1="226.7" y1="322.9" x2="233.8" y2="319.6" stroke="#000" stroke-width="1.1"/>
<line x1="225.2" y1="321.1" x2="235.9" y2="321.8" stroke="#000" stroke-width="1.2"/>
<line x1="229.1" y1="357.4" x2="233.4" y2="355.8" stroke="#000" stroke-width="1.1"/>
<line x1="208.7" y1="361.6" x2="215.1" y2="360.6" stroke="#000" stroke-width="1.5"/>
<line x1="212.5" y1="314.7" x2="218.9" y2="313.0" stroke="#fff" stroke-width="1.3"/>
<line x1="217.0" y1="315.8" x2="221.4" y2="313.4" stroke="#fff" stroke-width="1.3"/>
<line x1="210.3" y1="359.4" x2="217.5" y2="355.7" stroke="#000" stroke-width="1.0"/>
<line x1="224.7" y1="368.1" x2="230.0" y2="367.7" stroke="#000" stroke-width="1.2"/>
<line x1="222.7" y1="308.7" x2="226.6" y2="309.7" stroke="#000" stroke-width="1.1"/>
<line x1="211.4" y1="308.3" x2="223.3" y2="309.3" stroke="#000" stroke-width="1.1"/>
<line x1="222.9" y1="321.1" x2="232.3" y2="319.5" stroke="#000" stroke-width="1.0"/>
<line x1="208.2" y1="351.6" x2="218.9" y2="355.4" stroke="#000" stroke-width="1.2"/>
<line x1="218.5" y1="318.4" x2="226.4" y2="318.9" stroke="#fff" stroke-width="1.1"/>
<line x1="229.4" y1="377.4" x2="234.5" y2="376.8" stroke="#000" stroke-width="1.0"/>
<line x1="223.3" y1="366.3" x2="235.1" y2="366.0" stroke="#000" stroke-width="1.3"/>
<line x1="226.1" y1="310.7" x2="230.4" y2="309.7" stroke="#000" stroke-width="1.3"/>
<line x1="215.0" y1="366.1" x2="224.5" y2="364.1" stroke="#000" stroke-width="1.5"/>
<line x1="217.2" y1="300.3" x2="226.1" y2="296.1" stroke="#fff" stroke-width="1.3"/>
<line x1="210.3" y1="382.8" x2="215.2" y2="383.3" stroke="#000" stroke-width="1.3"/>
<line x1="206.6" y1="304.0" x2="217.3" y2="301.7" stroke="#fff" stroke-width="1.1"/>
<line x1="228.8" y1="374.7" x2="237.2" y2="376.7" stroke="#fff" stroke-width="1.3"/>
<line x1="229.7" y1="353.8" x2="237.4" y2="350.9" stroke="#000" stroke-width="1.1"/>
<line x1="215.7" y1="348.5" x2="221.4" y2="348.4" stroke="#000" stroke-width="1.2"/>
<line x1="218.8" y1="339.8" x2="224.3" y2="340.1" stroke="#000" stroke-width="1.1"/>
<line x1="225.4" y1="366.8" x2="233.4" y2="368.1" stroke="#000" stroke-width="1.5"/>
<line x1="219.0" y1="335.6" x2="226.0" y2="333.7" stroke="#000" stroke-width="1.4"/>
<line x1="218.3" y1="369.5" x2="225.5" y2="366.9" stroke="#000" stroke-width="1.1"/>
<line x1="215.3" y1="371.7" x2="220.9" y2="372.4" stroke="#000" stroke-width="1.4"/>
<line x1="222.5" y1="364.2" x2="232.1" y2="364.5" stroke="#000" stroke-width="0.9"/>
<line x1="215.3" y1="303.1" x2="223.1" y2="305.6" stroke="#000" stroke-width="1.5"/>
<line x1="226.2" y1="321.8" x2="230.9" y2="320.7" stroke="#fff" stroke-width="1.3"/>
<line x1="218.4" y1="335.1" x2="226.0" y2="332.8" stroke="#000" stroke-width="1.4"/>
<line x1="227.3" y1="382.4" x2="234.6" y2="381.4" stroke="#000" stroke-width="1.5"/>
<line x1="211.0" y1="315.0" x2="221.9" y2="311.9" stroke="#fff" stroke-width="1.1"/>
<line x1="227.4" y1="384.6" x2="232.8" y2="383.8" stroke="#fff" stroke-width="1.1"/>
<line x1="209.4" y1="385.8" x2="216.5" y2="384.8" stroke="#000" stroke-width="1.1"/>
<line x1="207.0" y1="337.1" x2="211.0" y2="336.3" stroke="#000" stroke-width="1.4"/>
<line x1="214.7" y1="364.6" x2="220.2" y2="364.7" stroke="#000" stroke-width="1.3"/>
<line x1="221.5" y1="327.9" x2="231.7" y2="324.2" stroke="#fff" stroke-width="1.0"/>
<line x1="220.9" y1="354.6" x2="225.0" y2="353.6" stroke="#000" stroke-width="1.3"/>
<line x1="221.2" y1="348.5" x2="226.5" y2="346.1" stroke="#000" stroke-width="1.1"/>
<line x1="215.4" y1="385.7" x2="226.2" y2="380.8" stroke="#000" stroke-width="1.4"/>
<line x1="212.5" y1="355.8" x2="216.7" y2="355.0" stroke="#fff" stroke-width="1.4"/>
<line x1="213.1" y1="373.7" x2="224.9" y2="372.5" stroke="#000" stroke-width="1.1"/>
<line x1="212.1" y1="359.4" x2="222.7" y2="361.0" stroke="#000" stroke-width="1.1"/>
<line x1="226.1" y1="309.9" x2="235.7" y2="307.0" stroke="#000" stroke-width="1.5"/>
<line x1="208.7" y1="343.9" x2="212.5" y2="342.5" stroke="#000" stroke-width="1.0"/>
<line x1="215.5" y1="341.1" x2="221.8" y2="340.6" stroke="#000" stroke-width="1.2"/>
<line x1="230.6" y1="316.1" x2="238.5" y2="315.5" stroke="#000" stroke-width="1.4"/>
<line x1="211.6" y1="383.4" x2="218.2" y2="382.0" stroke="#000" stroke-width="1.2"/>
<line x1="213.5" y1="308.0" x2="220.1" y2="310.1" stroke="#000" stroke-width="1.3"/>
<line x1="219.5" y1="331.1" x2="230.0" y2="328.6" stroke="#000" stroke-width="1.2"/>
<line x1="229.9" y1="334.3" x2="235.2" y2="333.4" stroke="#000" stroke-width="1.3"/>
<line x1="217.4" y1="338.6" x2="227.2" y2="335.3" stroke="#000" stroke-width="1.4"/>
<line x1="215.7" y1="369.7" x2="220.7" y2="366.9" stroke="#fff" stroke-width="1.3"/>
<line x1="223.1" y1="347.2" x2="228.6" y2="346.6" stroke="#000" stroke-width="1.3"/>
<line x1="223.5" y1="324.6" x2="228.6" y2="324.8" stroke="#000" stroke-width="1.0"/>
<line x1="219.0" y1="329.8" x2="224.1" y2="329.6" stroke="#000" stroke-width="1.3"/>
<line x1="209.8" y1="329.3" x2="218.2" y2="329.9" stroke="#000" stroke-width="1.4"/>
<line x1="220.5" y1="321.1" x2="231.0" y2="319.7" stroke="#000" stroke-width="1.4"/>
<line x1="215.4" y1="342.6" x2="225.4" y2="346.0" stroke="#000" stroke-width="1.0"/>
<line x1="221.5" y1="303.2" x2="232.8" y2="306.5" stroke="#000" stroke-width="1.1"/>
<line x1="227.2" y1="316.8" x2="235.2" y2="318.4" stroke="#000" stroke-width="1.4"/>
<line x1="217.3" y1="378.9" x2="225.5" y2="379.5" stroke="#fff" stroke-width="1.0"/>
<line x1="228.5" y1="332.2" x2="234.4" y2="329.0" stroke="#000" stroke-width="0.9"/>
<line x1="221.8" y1="311.5" x2="227.7" y2="309.1" stroke="#000" stroke-width="1.5"/>
<line x1="228.7" y1="382.7" x2="235.8" y2="385.2" stroke="#fff" stroke-width="1.1"/>
<line x1="229.2" y1="377.0" x2="235.0" y2="377.7" stroke="#000" stroke-width="1.5"/>
<line x1="220.0" y1="358.2" x2="225.0" y2="359.3" stroke="#000" stroke-width="1.2"/>
<line x1="225.8" y1="343.3" x2="236.7" y2="339.3" stroke="#000" stroke-width="1.3"/>
<line x1="226.9" y1="323.5" x2="234.0" y2="324.1" stroke="#000" stroke-width="1.0"/>
<line x1="229.9" y1="335.0" x2="237.9" y2="334.4" stroke="#000" stroke-width="1.4"/>
<line x1="224.8" y1="383.2" x2="230.3" y2="382.0" stroke="#000" stroke-width="1.3"/>
<line x1="222.6" y1="338.6" x2="227.8" y2="338.2" stroke="#fff" stroke-width="1.2"/>
<line x1="218.9" y1="374.8" x2="228.1" y2="371.4" stroke="#000" stroke-width="1.4"/>
<line x1="208.8" y1="326.2" x2="216.7" y2="326.5" stroke="#000" stroke-width="1.2"/>
<line x1="211.8" y1="341.6" x2="220.8" y2="336.4" stroke="#000" stroke-width="1.4"/>
<line x1="220.0" y1="357.1" x2="225.0" y2="357.3" stroke="#fff" stroke-width="1.1"/>
<line x1="227.6" y1="374.7" x2="238.1" y2="375.4" stroke="#000" stroke-width="1.3"/>
<line x1="229.8" y1="318.0" x2="236.5" y2="314.9" stroke="#000" stroke-width="1.0"/>
<line x1="211.9" y1="382.3" x2="217.0" y2="381.4" stroke="#000" stroke-width="1.2"/>
<line x1="211.2" y1="345.1" x2="218.7" y2="344.7" stroke="#000" stroke-width="1.4"/>
<line x1="206.9" y1="388.3" x2="211.0" y2="386.9" stroke="#fff" stroke-width="1.2"/>
<line x1="219.7" y1="320.7" x2="226.0" y2="321.7" stroke="#000" stroke-width="1.0"/>
<line x1="220.5" y1="361.6" x2="228.2" y2="360.0" stroke="#000" stroke-width="1.3"/>
<line x1="223.4" y1="314.6" x2="233.3" y2="314.1" stroke="#000" stroke-width="1.4"/>
<line x1="227.8" y1="304.8" x2="232.3" y2="303.4" stroke="#000" stroke-width="1.0"/>
<line x1="218.5" y1="323.8" x2="225.9" y2="321.8" stroke="#000" stroke-width="1.4"/>
<line x1="224.2" y1="310.8" x2="228.1" y2="309.5" stroke="#000" stroke-width="1.0"/>
<line x1="223.6" y1="374.1" x2="228.9" y2="376.1" stroke="#000" stroke-width="1.4"/>
<line x1="216.6" y1="388.5" x2="223.0" y2="387.3" stroke="#000" stroke-width="1.5"/>
<line x1="219.0" y1="341.9" x2="229.1" y2="340.4" stroke="#fff" stroke-width="1.2"/>
<line x1="210.9" y1="338.6" x2="217.9" y2="340.4" stroke="#000" stroke-width="1.2"/>
<line x1="217.8" y1="354.6" x2="225.9" y2="352.0" stroke="#fff" stroke-width="0.9"/>
<line x1="215.5" y1="383.7" x2="219.4" y2="385.0" stroke="#000" stroke-width="1.3"/>
<line x1="227.2" y1="344.6" x2="233.0" y2="342.1" stroke="#000" stroke-width="1.3"/>
<line x1="211.5" y1="361.0" x2="220.8" y2="361.5" stroke="#000" stroke-width="1.2"/>
<line x1="214.5" y1="356.7" x2="219.4" y2="355.6" stroke="#000" stroke-width="1.1"/>
<line x1="225.9" y1="329.0" x2="236.3" y2="328.5" stroke="#000" stroke-width="1.3"/>
<line x1="208.2" y1="388.9" x2="216.8" y2="384.2" stroke="#000" stroke-width="1.0"/>
<line x1="216.2" y1="294.0" x2="221.1" y2="293.7" stroke="#000" stroke-width="1.1"/>
<line x1="230.2" y1="292.1" x2="236.0" y2="291.8" stroke="#fff" stroke-width="1.1"/>
<line x1="222.3" y1="299.3" x2="232.3" y2="298.4" stroke="#000" stroke-width="1.0"/>
<line x1="207.5" y1="293.2" x2="212.9" y2="295.0" stroke="#000" stroke-width="1.4"/>
<line x1="213.3" y1="288.4" x2="220.7" y2="288.6" stroke="#fff" stroke-width="1.4"/>
<line x1="212.3" y1="295.0" x2="216.6" y2="294.7" stroke="#000" stroke-width="1.4"/>
<line x1="213.9" y1="295.4" x2="218.3" y2="296.2" stroke="#fff" stroke-width="1.0"/>
<line x1="213.9" y1="297.5" x2="220.3" y2="294.6" stroke="#000" stroke-width="1.2"/>
<line x1="206.9" y1="288.4" x2="211.4" y2="287.3" stroke="#000" stroke-width="1.0"/>
<line x1="219.2" y1="288.2" x2="226.2" y2="290.2" stroke="#000" stroke-width="1.0"/>
<line x1="227.1" y1="286.8" x2="231.7" y2="287.8" stroke="#fff" stroke-width="1.1"/>
<line x1="221.1" y1="299.8" x2="225.4" y2="298.3" stroke="#fff" stroke-width="1.3"/>
<line x1="224.2" y1="290.4" x2="229.7" y2="290.4" stroke="#000" stroke-width="1.1"/>
<line x1="220.8" y1="290.8" x2="229.8" y2="289.0" stroke="#000" stroke-width="1.4"/>
<line x1="218.6" y1="289.7" x2="226.3" y2="287.0" stroke="#000" stroke-width="1.3"/>
<line x1="215.7" y1="292.6" x2="221.5" y2="294.7" stroke="#fff" stroke-width="1.4"/>
<line x1="230.8" y1="301.1" x2="241.0" y2="298.9" stroke="#fff" stroke-width="1.0"/>
<line x1="230.9" y1="296.4" x2="239.1" y2="298.6" stroke="#000" stroke-width="1.4"/>
<line x1="210.8" y1="290.1" x2="216.3" y2="290.7" stroke="#000" stroke-width="1.3"/>
<line x1="208.9" y1="296.6" x2="216.2" y2="293.9" stroke="#fff" stroke-width="1.3"/>
<line x1="207.6" y1="289.1" x2="214.1" y2="291.8" stroke="#000" stroke-width="1.1"/>
<line x1="223.6" y1="297.8" x2="230.7" y2="298.8" stroke="#000" stroke-width="1.2"/>
<line x1="211.1" y1="301.2" x2="220.5" y2="305.2" stroke="#fff" stroke-width="1.2"/>
<line x1="227.1" y1="289.9" x2="236.6" y2="291.9" stroke="#fff" stroke-width="1.4"/>
<line x1="228.0" y1="290.3" x2="235.6" y2="292.2" stroke="#000" stroke-width="1.1"/>
<path d="M214 290 Q222 284 230 292 L228 300 L214 299 Z" fill="#fff" stroke="#000" stroke-width="0.8"/>
<path d="M211 356 L221 364 L228 388 L212 392 Z" fill="#fff" stroke="#000" stroke-width="0.8"/>
</g>
<rect x="226" y="281" width="108.5" height="7.5" fill="#000"/>
<rect x="231" y="288" width="99.5" height="89" fill="#000"/>
<line x1="226" y1="288.8" x2="334.5" y2="288.8" stroke="#fff" stroke-width="0.7"/>
<path d="M238.5 322 L265 322 L263.5 385 L241 385 Z" fill="#fff" stroke="#000" stroke-width="1"/>
<line x1="242.5" y1="331" x2="242.0" y2="383" stroke="#000" stroke-width="1.1"/>
<line x1="246" y1="331" x2="245.7" y2="383" stroke="#000" stroke-width="1.1"/>
<line x1="249.5" y1="331" x2="249.4" y2="383" stroke="#000" stroke-width="1.1"/>
<line x1="253" y1="331" x2="253.1" y2="383" stroke="#000" stroke-width="1.1"/>
<line x1="256.5" y1="331" x2="256.7" y2="383" stroke="#000" stroke-width="1.1"/>
<line x1="260" y1="331" x2="260.4" y2="383" stroke="#000" stroke-width="1.1"/>
<ellipse cx="251.2" cy="321.8" rx="14.2" ry="9.3" fill="#fff" stroke="#000" stroke-width="1.3"/>
<ellipse cx="251.2" cy="321.8" rx="11" ry="6.6" fill="#333"/>
<rect x="255.8" y="324.6" width="1.4" height="1.4" fill="#fff"/>
<rect x="256.5" y="323.0" width="1.4" height="1.4" fill="#fff"/>
<rect x="245.7" y="318.4" width="1.4" height="1.4" fill="#fff"/>
<rect x="252.1" y="318.9" width="1.4" height="1.4" fill="#fff"/>
<rect x="248.4" y="317.9" width="1.4" height="1.4" fill="#fff"/>
<rect x="245.5" y="323.5" width="1.4" height="1.4" fill="#fff"/>
<rect x="246.6" y="324.6" width="1.4" height="1.4" fill="#fff"/>
<rect x="248.3" y="324.6" width="1.4" height="1.4" fill="#fff"/>
<rect x="247.8" y="319.4" width="1.4" height="1.4" fill="#fff"/>
<rect x="249.3" y="317.1" width="1.4" height="1.4" fill="#fff"/>
<rect x="250.0" y="320.4" width="1.4" height="1.4" fill="#fff"/>
<rect x="243.2" y="324.8" width="1.4" height="1.4" fill="#fff"/>
<rect x="249.0" y="317.0" width="1.4" height="1.4" fill="#fff"/>
<rect x="258.4" y="319.1" width="1.4" height="1.4" fill="#fff"/>
<rect x="247.0" y="317.2" width="1.4" height="1.4" fill="#fff"/>
<rect x="244.6" y="323.4" width="1.4" height="1.4" fill="#fff"/>
<rect x="252.3" y="321.5" width="1.4" height="1.4" fill="#fff"/>
<rect x="246.9" y="319.6" width="1.4" height="1.4" fill="#fff"/>
<rect x="258.5" y="320.4" width="1.4" height="1.4" fill="#fff"/>
<rect x="258.8" y="325.0" width="1.4" height="1.4" fill="#fff"/>
<line x1="238" y1="331" x2="265" y2="331" stroke="#000" stroke-width="1.2"/>
<path d="M268.5 364 L281.5 364 L281 387 L269 387 Z" fill="#fff" stroke="#000" stroke-width="1.1"/>
<path d="M269 368 Q264 374 269 381" fill="none" stroke="#000" stroke-width="1.1"/>
<line x1="274" y1="364" x2="276" y2="355" stroke="#000" stroke-width="0.9"/>
<line x1="276" y1="364" x2="280" y2="357" stroke="#000" stroke-width="0.9"/>
<line x1="272" y1="364" x2="273" y2="358" stroke="#000" stroke-width="0.9"/>
<path d="M285 374 L300 357.5 L309 378 L296 387 L284 385 Z" fill="#fff" stroke="#000" stroke-width="0.8"/>
<path d="M317 352 L330 352 L329 377 L318.5 377 Z" fill="#fff" stroke="#000" stroke-width="1.1"/>
<ellipse cx="323.5" cy="352" rx="6.5" ry="2.2" fill="#fff" stroke="#000" stroke-width="1"/>
<path d="M328 353 Q331 340 326 344" fill="none" stroke="#000" stroke-width="1.1"/>
<rect x="231" y="376" width="102" height="19" fill="#fff"/>
<line x1="240.2" y1="392.1" x2="244.6" y2="387.3" stroke="#fff" stroke-width="1.1"/>
<line x1="285.3" y1="391.4" x2="290.0" y2="388.2" stroke="#000" stroke-width="1.0"/>
<line x1="247.3" y1="389.5" x2="254.1" y2="390.3" stroke="#000" stroke-width="1.0"/>
<line x1="324.7" y1="391.4" x2="329.3" y2="392.0" stroke="#fff" stroke-width="0.9"/>
<line x1="237.8" y1="382.3" x2="245.0" y2="385.0" stroke="#000" stroke-width="1.1"/>
<line x1="326.4" y1="390.8" x2="331.6" y2="390.3" stroke="#fff" stroke-width="0.9"/>
<line x1="238.6" y1="387.8" x2="242.3" y2="390.0" stroke="#fff" stroke-width="1.2"/>
<line x1="240.5" y1="378.6" x2="245.2" y2="378.5" stroke="#fff" stroke-width="1.2"/>
<line x1="274.2" y1="391.1" x2="278.0" y2="392.0" stroke="#fff" stroke-width="0.9"/>
<line x1="235.1" y1="384.6" x2="238.7" y2="380.6" stroke="#000" stroke-width="1.2"/>
<line x1="270.8" y1="392.1" x2="276.1" y2="394.9" stroke="#000" stroke-width="0.9"/>
<line x1="279.1" y1="383.5" x2="284.4" y2="384.9" stroke="#000" stroke-width="1.0"/>
<line x1="332.6" y1="379.8" x2="335.6" y2="379.0" stroke="#000" stroke-width="0.8"/>
<line x1="271.8" y1="391.9" x2="279.2" y2="394.5" stroke="#fff" stroke-width="1.0"/>
<line x1="288.5" y1="376.2" x2="292.7" y2="375.4" stroke="#000" stroke-width="0.8"/>
<line x1="284.5" y1="383.1" x2="289.5" y2="383.1" stroke="#000" stroke-width="1.1"/>
<line x1="311.8" y1="387.4" x2="316.5" y2="383.6" stroke="#fff" stroke-width="1.2"/>
<line x1="307.4" y1="376.9" x2="312.4" y2="380.8" stroke="#000" stroke-width="1.2"/>
<line x1="314.6" y1="393.0" x2="319.9" y2="390.5" stroke="#000" stroke-width="0.9"/>
<line x1="307.7" y1="387.7" x2="313.2" y2="386.1" stroke="#fff" stroke-width="1.0"/>
<line x1="323.8" y1="386.8" x2="325.9" y2="389.1" stroke="#000" stroke-width="1.0"/>
<line x1="304.0" y1="394.4" x2="309.3" y2="395.6" stroke="#000" stroke-width="1.0"/>
<line x1="301.7" y1="394.0" x2="304.8" y2="390.5" stroke="#fff" stroke-width="0.8"/>
<line x1="310.8" y1="376.6" x2="317.5" y2="378.4" stroke="#000" stroke-width="1.0"/>
<line x1="251.0" y1="389.4" x2="257.0" y2="389.7" stroke="#000" stroke-width="1.0"/>
<line x1="328.2" y1="390.8" x2="331.2" y2="393.8" stroke="#000" stroke-width="1.0"/>
<line x1="263.7" y1="391.3" x2="268.6" y2="388.2" stroke="#fff" stroke-width="1.2"/>
<line x1="229.0" y1="381.1" x2="236.7" y2="381.1" stroke="#000" stroke-width="1.1"/>
<line x1="269.1" y1="386.4" x2="271.5" y2="388.7" stroke="#000" stroke-width="0.9"/>
<line x1="241.2" y1="381.8" x2="246.7" y2="383.8" stroke="#000" stroke-width="1.1"/>
<line x1="280.8" y1="378.7" x2="286.8" y2="382.5" stroke="#000" stroke-width="1.2"/>
<line x1="312.9" y1="380.4" x2="317.6" y2="374.7" stroke="#fff" stroke-width="0.8"/>
<line x1="308.2" y1="390.7" x2="315.2" y2="392.3" stroke="#fff" stroke-width="0.9"/>
<line x1="315.4" y1="393.5" x2="321.5" y2="391.4" stroke="#fff" stroke-width="1.1"/>
<line x1="287.1" y1="381.2" x2="292.3" y2="378.8" stroke="#000" stroke-width="1.1"/>
<line x1="321.3" y1="380.6" x2="327.2" y2="382.8" stroke="#000" stroke-width="1.1"/>
<line x1="308.2" y1="381.8" x2="311.6" y2="379.0" stroke="#fff" stroke-width="1.0"/>
<line x1="313.4" y1="379.0" x2="317.1" y2="376.0" stroke="#fff" stroke-width="0.9"/>
<line x1="234.8" y1="390.3" x2="239.6" y2="386.2" stroke="#000" stroke-width="0.9"/>
<line x1="297.3" y1="392.6" x2="302.5" y2="391.8" stroke="#000" stroke-width="0.9"/>
<line x1="252.7" y1="391.0" x2="259.1" y2="393.5" stroke="#000" stroke-width="1.1"/>
<line x1="240.5" y1="383.3" x2="244.6" y2="381.8" stroke="#fff" stroke-width="0.9"/>
<line x1="261.5" y1="381.4" x2="266.5" y2="385.0" stroke="#000" stroke-width="1.0"/>
<line x1="324.7" y1="393.8" x2="330.5" y2="393.3" stroke="#fff" stroke-width="0.9"/>
<line x1="254.4" y1="378.0" x2="261.3" y2="378.0" stroke="#000" stroke-width="1.0"/>
<line x1="332.0" y1="385.1" x2="339.1" y2="383.7" stroke="#fff" stroke-width="1.0"/>
<line x1="240.1" y1="388.1" x2="247.0" y2="391.2" stroke="#fff" stroke-width="0.9"/>
<line x1="281.6" y1="381.5" x2="286.9" y2="381.0" stroke="#fff" stroke-width="1.2"/>
<line x1="325.2" y1="385.1" x2="327.7" y2="387.8" stroke="#fff" stroke-width="1.1"/>
<line x1="319.5" y1="383.9" x2="321.5" y2="386.2" stroke="#fff" stroke-width="1.1"/>
<line x1="266.7" y1="391.7" x2="272.6" y2="388.5" stroke="#000" stroke-width="1.0"/>
<line x1="247.8" y1="391.2" x2="251.0" y2="392.6" stroke="#fff" stroke-width="0.9"/>
<line x1="266.8" y1="383.9" x2="274.2" y2="384.9" stroke="#fff" stroke-width="1.1"/>
<line x1="265.8" y1="378.0" x2="269.8" y2="374.2" stroke="#000" stroke-width="1.0"/>
<line x1="331.1" y1="383.9" x2="336.1" y2="382.5" stroke="#000" stroke-width="1.2"/>
<line x1="289.6" y1="386.3" x2="293.9" y2="385.8" stroke="#000" stroke-width="1.0"/>
<line x1="274.3" y1="394.6" x2="278.3" y2="395.0" stroke="#000" stroke-width="0.9"/>
<line x1="263.7" y1="390.9" x2="266.9" y2="393.5" stroke="#fff" stroke-width="1.0"/>
<line x1="284.0" y1="386.1" x2="286.3" y2="383.7" stroke="#fff" stroke-width="1.1"/>
<line x1="267.3" y1="393.5" x2="271.1" y2="395.9" stroke="#000" stroke-width="1.0"/>
<line x1="296.4" y1="380.3" x2="300.2" y2="376.4" stroke="#000" stroke-width="1.1"/>
<line x1="293.3" y1="381.3" x2="297.5" y2="380.9" stroke="#000" stroke-width="0.9"/>
<line x1="313.5" y1="384.6" x2="317.9" y2="386.4" stroke="#fff" stroke-width="1.0"/>
<line x1="296.3" y1="383.5" x2="300.3" y2="383.9" stroke="#fff" stroke-width="1.1"/>
<line x1="283.4" y1="388.1" x2="287.0" y2="385.1" stroke="#000" stroke-width="1.1"/>
<line x1="228.4" y1="384.4" x2="233.9" y2="388.6" stroke="#fff" stroke-width="0.9"/>
<line x1="251.6" y1="389.4" x2="257.8" y2="387.1" stroke="#000" stroke-width="1.1"/>
<line x1="287.7" y1="391.5" x2="291.0" y2="395.2" stroke="#fff" stroke-width="0.8"/>
<line x1="320.0" y1="376.6" x2="324.9" y2="377.0" stroke="#fff" stroke-width="0.9"/>
<line x1="249.1" y1="390.9" x2="255.8" y2="391.5" stroke="#000" stroke-width="0.8"/>
<line x1="308.7" y1="380.1" x2="311.7" y2="380.0" stroke="#000" stroke-width="1.1"/>
<line x1="308.0" y1="388.1" x2="314.6" y2="387.4" stroke="#fff" stroke-width="0.9"/>
<line x1="283.7" y1="387.4" x2="287.4" y2="388.9" stroke="#000" stroke-width="0.9"/>
<line x1="237.2" y1="382.6" x2="242.6" y2="384.9" stroke="#000" stroke-width="1.1"/>
<line x1="239.4" y1="390.3" x2="242.2" y2="388.3" stroke="#000" stroke-width="1.0"/>
<line x1="255.6" y1="392.8" x2="258.8" y2="395.9" stroke="#fff" stroke-width="1.1"/>
<line x1="286.5" y1="380.8" x2="292.0" y2="386.3" stroke="#000" stroke-width="0.9"/>
<line x1="261.0" y1="379.8" x2="268.5" y2="378.9" stroke="#000" stroke-width="1.1"/>
<line x1="259.7" y1="376.3" x2="263.1" y2="379.1" stroke="#000" stroke-width="0.8"/>
<line x1="265.9" y1="378.3" x2="269.5" y2="376.0" stroke="#000" stroke-width="1.0"/>
<line x1="259.3" y1="386.0" x2="265.2" y2="389.0" stroke="#000" stroke-width="1.2"/>
<line x1="310.9" y1="386.7" x2="315.5" y2="386.5" stroke="#000" stroke-width="1.2"/>
<line x1="291.5" y1="377.9" x2="297.0" y2="382.9" stroke="#000" stroke-width="1.1"/>
<line x1="252.2" y1="386.2" x2="256.2" y2="388.8" stroke="#000" stroke-width="1.1"/>
<line x1="247.4" y1="387.9" x2="255.2" y2="386.9" stroke="#000" stroke-width="1.1"/>
<line x1="231.4" y1="381.2" x2="234.3" y2="378.9" stroke="#000" stroke-width="0.9"/>
<line x1="311.2" y1="377.8" x2="318.4" y2="379.4" stroke="#000" stroke-width="0.9"/>
<line x1="308.1" y1="384.9" x2="311.5" y2="388.1" stroke="#000" stroke-width="1.2"/>
<line x1="263.4" y1="394.4" x2="266.6" y2="396.9" stroke="#000" stroke-width="1.2"/>
<line x1="239.4" y1="392.1" x2="245.4" y2="395.2" stroke="#000" stroke-width="0.8"/>
<line x1="328.6" y1="377.9" x2="334.4" y2="381.1" stroke="#000" stroke-width="1.1"/>
<line x1="270.5" y1="390.3" x2="275.9" y2="384.8" stroke="#000" stroke-width="1.1"/>
<line x1="277.0" y1="391.4" x2="282.4" y2="389.5" stroke="#000" stroke-width="1.0"/>
<line x1="235.4" y1="392.3" x2="240.3" y2="393.9" stroke="#fff" stroke-width="1.2"/>
<line x1="328.4" y1="377.6" x2="334.6" y2="379.9" stroke="#000" stroke-width="0.8"/>
<path d="M240.6 376 L263.9 376 L263.5 385.5 L241 385.5 Z" fill="#fff"/>
<path d="M240.6 376 L241 385.5 L263.5 385.5 L263.9 376" fill="none" stroke="#000" stroke-width="1"/>
<line x1="242.0" y1="375" x2="241.9" y2="383" stroke="#000" stroke-width="1.1"/>
<line x1="245.7" y1="375" x2="245.6" y2="383" stroke="#000" stroke-width="1.1"/>
<line x1="249.4" y1="375" x2="249.3" y2="383" stroke="#000" stroke-width="1.1"/>
<line x1="253.1" y1="375" x2="253.1" y2="383" stroke="#000" stroke-width="1.1"/>
<line x1="256.7" y1="375" x2="256.8" y2="383" stroke="#000" stroke-width="1.1"/>
<line x1="260.4" y1="375" x2="260.5" y2="383" stroke="#000" stroke-width="1.1"/>
<path d="M269 375 L281.2 375 L281 387 L269.2 387 Z" fill="#fff"/>
<path d="M269 375 L269.2 387 L281 387 L281.2 375" fill="none" stroke="#000" stroke-width="1.1"/>
<path d="M285 376 L308 376 L309 378 L296 387 L284 385 Z" fill="#fff" stroke="none"/>
<path d="M309 378 L296 387 L284 385" fill="none" stroke="#000" stroke-width="0.8"/>
<path d="M249 388 L262 386 L270 395 L246 395 Z" fill="#fff" stroke="#000" stroke-width="0.8"/>
</g></g>
<g id="rightimg"><rect x="800.2" y="144.3" width="145.79999999999995" height="263.2" fill="#fcfdfd"/>
<path d="M850.3 259.0 L848.7 254.9 L847.4 250.7 L846.6 246.4 L846.1 242.0 L846.0 237.5 L846.4 233.1 L847.1 228.7 L848.2 224.5 L849.7 220.4 L851.5 216.5 L853.7 212.8 L856.2 209.5 L859.0 206.4 L862.1 203.8 L865.4 201.5 L868.8 199.6 L872.4 198.1 L876.2 197.1 L880.0 196.6 L883.8 196.5 L887.6 196.9 L891.3 197.8 L895.0 199.1 L898.5 200.8 L901.8 203.0 L905.0 205.5 L907.9 208.4 L910.5 211.7 L912.8 215.2 L914.7 219.0 L916.3 223.1 L917.6 227.3 L918.4 231.6 L918.9 236.0 L919.0 240.5 L918.6 244.9 L917.9 249.3 L916.8 253.5 L915.3 257.6 L913.5 261.5" fill="none" stroke="#000" stroke-width="2.0"/>
<path d="M857.1 257.5 L856.5 256.4 L856.0 255.3 L855.5 254.2 L855.0 253.0 L854.6 251.8 L854.2 250.6 L853.9 249.4 L853.5 248.2 L853.3 246.9 L853.1 245.7 L852.9 244.4 L852.7 243.1 L852.6 241.9 L852.5 240.6 L852.5 239.3 L852.5 238.0 L852.6 236.7 L852.7 235.5 L852.8 234.2 L853.0 232.9 L853.2 231.7 L853.4 230.4 L853.7 229.2 L854.0 228.0 L854.4 226.7 L854.8 225.5 L855.2 224.4 L855.7 223.2 L856.2 222.1 L856.8 221.0 L857.4 219.9 L858.0 218.8 L858.6 217.8 L859.3 216.8 L860.0 215.8 L860.8 214.9 L861.5 214.0 L862.3 213.1 L863.2 212.2 L864.0 211.4" fill="none" stroke="#000" stroke-width="1.4"/>
<path d="M860.0 253.1 L859.6 252.2 L859.3 251.4 L858.9 250.5 L858.6 249.6 L858.4 248.7 L858.1 247.8 L857.9 246.9 L857.7 246.0 L857.5 245.0 L857.4 244.1 L857.2 243.1 L857.1 242.2 L857.1 241.2 L857.0 240.3 L857.0 239.3 L857.0 238.4 L857.0 237.4 L857.1 236.5 L857.2 235.5 L857.3 234.6 L857.4 233.6 L857.6 232.7 L857.8 231.8 L858.0 230.8 L858.2 229.9 L858.5 229.0 L858.7 228.1 L859.0 227.2 L859.4 226.4 L859.7 225.5 L860.1 224.7 L860.5 223.8 L860.9 223.0 L861.4 222.2 L861.8 221.4 L862.3 220.7 L862.8 219.9 L863.4 219.2 L863.9 218.5 L864.5 217.8" fill="none" stroke="#000" stroke-width="1.4"/>
<path d="M862.3 247.9 L862.1 247.3 L862.0 246.7 L861.8 246.1 L861.7 245.5 L861.6 244.9 L861.5 244.3 L861.4 243.7 L861.3 243.1 L861.2 242.4 L861.1 241.8 L861.1 241.2 L861.0 240.6 L861.0 240.0 L861.0 239.3 L861.0 238.7 L861.0 238.1 L861.0 237.5 L861.1 236.8 L861.1 236.2 L861.2 235.6 L861.3 235.0 L861.3 234.4 L861.4 233.8 L861.6 233.2 L861.7 232.5 L861.8 231.9 L862.0 231.3 L862.1 230.8 L862.3 230.2 L862.5 229.6 L862.7 229.0 L862.9 228.4 L863.1 227.9 L863.3 227.3 L863.5 226.7 L863.8 226.2 L864.0 225.7 L864.3 225.1 L864.6 224.6 L864.9 224.1" fill="none" stroke="#000" stroke-width="1.2"/>
<path d="M841.2 256.1 L840.8 255.0 L840.5 254.0 L840.2 252.9 L840.0 251.8 L839.7 250.7 L839.5 249.6 L839.3 248.5 L839.1 247.3 L839.0 246.2 L838.8 245.1 L838.7 244.0 L838.6 242.8 L838.6 241.7 L838.5 240.6 L838.5 239.4 L838.5 238.3 L838.5 237.2 L838.6 236.0 L838.6 234.9 L838.7 233.8 L838.9 232.6 L839.0 231.5 L839.2 230.4 L839.3 229.3 L839.5 228.2 L839.8 227.1 L840.0 226.0 L840.3 224.9 L840.6 223.8 L840.9 222.7 L841.2 221.7 L841.6 220.6 L842.0 219.5 L842.4 218.5 L842.8 217.5 L843.2 216.5 L843.7 215.4 L844.2 214.5 L844.7 213.5 L845.2 212.5" fill="none" stroke="#000" stroke-width="1.2" stroke-dasharray="5 3"/>
<path d="M834.6 250.4 L834.4 249.6 L834.3 248.7 L834.1 247.8 L834.0 246.9 L833.9 246.1 L833.8 245.2 L833.7 244.3 L833.7 243.4 L833.6 242.5 L833.6 241.6 L833.5 240.8 L833.5 239.9 L833.5 239.0 L833.5 238.1 L833.5 237.2 L833.6 236.3 L833.6 235.4 L833.7 234.5 L833.7 233.7 L833.8 232.8 L833.9 231.9 L834.0 231.0 L834.1 230.1 L834.3 229.3 L834.4 228.4 L834.6 227.5 L834.8 226.7 L834.9 225.8 L835.1 224.9 L835.3 224.1 L835.6 223.2 L835.8 222.4 L836.0 221.5 L836.3 220.7 L836.6 219.9 L836.8 219.0 L837.1 218.2 L837.4 217.4 L837.8 216.6 L838.1 215.8" fill="none" stroke="#000" stroke-width="1.0" stroke-dasharray="3 4"/>
<path d="M849.8 205.5 L850.2 205.1 L850.6 204.6 L851.0 204.1 L851.4 203.6 L851.8 203.2 L852.2 202.7 L852.6 202.3 L853.1 201.8 L853.5 201.4 L853.9 201.0 L854.4 200.6 L854.8 200.1 L855.3 199.7 L855.7 199.3 L856.2 198.9 L856.6 198.5 L857.1 198.2 L857.6 197.8 L858.1 197.4 L858.5 197.1 L859.0 196.7 L859.5 196.4 L860.0 196.0 L860.5 195.7 L861.0 195.4 L861.5 195.1 L862.0 194.8 L862.5 194.4 L863.0 194.2 L863.6 193.9 L864.1 193.6 L864.6 193.3 L865.1 193.1 L865.7 192.8 L866.2 192.6 L866.7 192.3 L867.3 192.1 L867.8 191.9 L868.4 191.7 L868.9 191.4" fill="none" stroke="#000" stroke-width="1.3" stroke-dasharray="4 3"/>
<path d="M899.0 192.6 L900.7 193.5 L902.3 194.4 L904.0 195.4 L905.6 196.4 L907.1 197.5 L908.6 198.8 L910.1 200.0 L911.5 201.4 L912.8 202.8 L914.2 204.3 L915.4 205.8 L916.6 207.4 L917.7 209.0 L918.8 210.8 L919.8 212.5 L920.8 214.3 L921.6 216.1 L922.4 218.0 L923.2 219.9 L923.8 221.9 L924.4 223.9 L925.0 225.9 L925.4 227.9 L925.8 230.0 L926.1 232.0 L926.3 234.1 L926.4 236.2 L926.5 238.3 L926.5 240.4 L926.4 242.5 L926.2 244.6 L926.0 246.6 L925.7 248.7 L925.3 250.8 L924.8 252.8 L924.3 254.8 L923.6 256.8 L922.9 258.7 L922.2 260.6 L921.3 262.5" fill="none" stroke="#000" stroke-width="1.5"/>
<path d="M930.7 217.3 L931.2 218.7 L931.7 220.1 L932.1 221.6 L932.5 223.0 L932.8 224.5 L933.2 226.0 L933.5 227.4 L933.7 228.9 L933.9 230.4 L934.1 231.9 L934.3 233.4 L934.4 235.0 L934.5 236.5 L934.5 238.0 L934.5 239.5 L934.5 241.0 L934.4 242.5 L934.3 244.1 L934.2 245.6 L934.0 247.1 L933.8 248.6 L933.5 250.1 L933.3 251.6 L933.0 253.0 L932.6 254.5 L932.2 256.0 L931.8 257.4 L931.4 258.8 L930.9 260.3 L930.4 261.7 L929.8 263.1 L929.2 264.4 L928.6 265.8 L928.0 267.1 L927.3 268.4 L926.6 269.7 L925.9 271.0 L925.1 272.3 L924.3 273.5 L923.5 274.7" fill="none" stroke="#000" stroke-width="1.3" stroke-dasharray="10 3"/>
<rect x="905.8" y="224.0" width="0.8" height="0.8" fill="#444"/>
<rect x="907.4" y="245.7" width="0.8" height="0.8" fill="#444"/>
<rect x="907.2" y="226.2" width="0.8" height="0.8" fill="#444"/>
<rect x="898.1" y="214.9" width="0.8" height="0.8" fill="#444"/>
<rect x="911.2" y="231.2" width="0.8" height="0.8" fill="#444"/>
<rect x="893.8" y="215.1" width="0.8" height="0.8" fill="#444"/>
<rect x="896.5" y="208.9" width="0.8" height="0.8" fill="#444"/>
<rect x="902.8" y="235.9" width="0.8" height="0.8" fill="#444"/>
<rect x="912.5" y="250.5" width="0.8" height="0.8" fill="#444"/>
<rect x="909.4" y="232.9" width="0.8" height="0.8" fill="#444"/>
<rect x="893.8" y="219.8" width="0.8" height="0.8" fill="#444"/>
<rect x="901.6" y="229.9" width="0.8" height="0.8" fill="#444"/>
<rect x="896.3" y="218.0" width="0.8" height="0.8" fill="#444"/>
<rect x="892.4" y="211.9" width="0.8" height="0.8" fill="#444"/>
<rect x="908.5" y="221.5" width="0.8" height="0.8" fill="#444"/>
<rect x="907.9" y="226.4" width="0.8" height="0.8" fill="#444"/>
<rect x="907.8" y="225.4" width="0.8" height="0.8" fill="#444"/>
<rect x="902.9" y="226.1" width="0.8" height="0.8" fill="#444"/>
<rect x="912.6" y="251.4" width="0.8" height="0.8" fill="#444"/>
<rect x="910.9" y="242.2" width="0.8" height="0.8" fill="#444"/>
<rect x="899.5" y="221.6" width="0.8" height="0.8" fill="#444"/>
<rect x="897.5" y="222.4" width="0.8" height="0.8" fill="#444"/>
<rect x="907.3" y="238.5" width="0.8" height="0.8" fill="#444"/>
<rect x="907.0" y="242.1" width="0.8" height="0.8" fill="#444"/>
<rect x="911.5" y="248.7" width="0.8" height="0.8" fill="#444"/>
<circle cx="869" cy="188.5" r="1.1" fill="#000"/>
<circle cx="894" cy="191.5" r="1.3" fill="#000"/>
<circle cx="896.5" cy="176" r="1.4" fill="#000"/>
<circle cx="852" cy="205" r="0.8" fill="#000"/>
<circle cx="838" cy="231" r="0.8" fill="#000"/>
<circle cx="835" cy="240" r="0.8" fill="#000"/>
<circle cx="823" cy="253" r="0.8" fill="#000"/>
<circle cx="842" cy="250" r="0.7" fill="#000"/>
<circle cx="934" cy="262" r="0.8" fill="#000"/>
<circle cx="926" cy="210" r="0.7" fill="#000"/>
<circle cx="822" cy="243" r="2.4" fill="#000"/>
<line x1="822" y1="243" x2="826.5" y2="249" stroke="#000" stroke-width="1.4"/>
<circle cx="834.9" cy="260.8" r="9.9" fill="#000"/>
<path d="M828.8 259.3 L838 256.6 L840 262.2 L835.5 263.8 L831.5 266.8 Z" fill="#fff" stroke="#fff" stroke-width="0.8" stroke-linejoin="round"/>
<line x1="838" y1="270" x2="843" y2="278" stroke="#000" stroke-width="1.2"/>
<circle cx="829.4" cy="287.5" r="4.6" fill="none" stroke="#000" stroke-width="1.8"/>
<line x1="832.6" y1="291" x2="836.8" y2="296" stroke="#000" stroke-width="2.2"/>
<line x1="840" y1="282" x2="841" y2="292" stroke="#000" stroke-width="1"/>
<line x1="811.0" y1="299.0" x2="820.0" y2="292.0" stroke="#000" stroke-width="0.8"/>
<line x1="813.6" y1="299.8" x2="822.6" y2="292.8" stroke="#000" stroke-width="0.8"/>
<line x1="816.2" y1="300.6" x2="825.2" y2="293.6" stroke="#000" stroke-width="0.8"/>
<line x1="818.8" y1="301.4" x2="827.8" y2="294.4" stroke="#000" stroke-width="0.8"/>
<line x1="821.4" y1="302.2" x2="830.4" y2="295.2" stroke="#000" stroke-width="0.8"/>
<line x1="820.0" y1="312.0" x2="833.0" y2="303.0" stroke="#000" stroke-width="1.0"/>
<line x1="823.0" y1="312.8" x2="836.0" y2="303.8" stroke="#000" stroke-width="1.0"/>
<rect x="815.0" y="313.4" width="0.9" height="0.9" fill="#333"/>
<rect x="846.9" y="323.8" width="0.9" height="0.9" fill="#333"/>
<rect x="849.3" y="320.9" width="0.9" height="0.9" fill="#333"/>
<rect x="817.6" y="330.2" width="0.9" height="0.9" fill="#333"/>
<rect x="842.2" y="315.8" width="0.9" height="0.9" fill="#333"/>
<rect x="818.1" y="318.3" width="0.9" height="0.9" fill="#333"/>
<rect x="848.7" y="335.3" width="0.9" height="0.9" fill="#333"/>
<rect x="819.1" y="314.9" width="0.9" height="0.9" fill="#333"/>
<rect x="818.5" y="307.4" width="0.9" height="0.9" fill="#333"/>
<rect x="842.9" y="312.1" width="0.9" height="0.9" fill="#333"/>
<rect x="834.6" y="322.9" width="0.9" height="0.9" fill="#333"/>
<rect x="821.7" y="334.3" width="0.9" height="0.9" fill="#333"/>
<rect x="819.6" y="330.7" width="0.9" height="0.9" fill="#333"/>
<rect x="819.1" y="321.8" width="0.9" height="0.9" fill="#333"/>
<rect x="822.5" y="315.8" width="0.9" height="0.9" fill="#333"/>
<rect x="849.0" y="337.1" width="0.9" height="0.9" fill="#333"/>
<rect x="825.6" y="340.4" width="0.9" height="0.9" fill="#333"/>
<rect x="822.4" y="320.8" width="0.9" height="0.9" fill="#333"/>
<rect x="844.9" y="330.7" width="0.9" height="0.9" fill="#333"/>
<rect x="818.5" y="344.6" width="0.9" height="0.9" fill="#333"/>
<rect x="822.5" y="315.3" width="0.9" height="0.9" fill="#333"/>
<rect x="842.0" y="318.2" width="0.9" height="0.9" fill="#333"/>
<rect x="825.4" y="307.9" width="0.9" height="0.9" fill="#333"/>
<rect x="818.2" y="328.3" width="0.9" height="0.9" fill="#333"/>
<rect x="823.5" y="329.1" width="0.9" height="0.9" fill="#333"/>
<rect x="828.0" y="323.1" width="0.9" height="0.9" fill="#333"/>
<rect x="848.6" y="324.3" width="0.9" height="0.9" fill="#333"/>
<rect x="835.1" y="339.7" width="0.9" height="0.9" fill="#333"/>
<rect x="821.4" y="311.2" width="0.9" height="0.9" fill="#333"/>
<rect x="846.8" y="337.7" width="0.9" height="0.9" fill="#333"/>
<rect x="823.7" y="312.6" width="0.9" height="0.9" fill="#333"/>
<rect x="840.9" y="342.6" width="0.9" height="0.9" fill="#333"/>
<rect x="821.9" y="343.0" width="0.9" height="0.9" fill="#333"/>
<rect x="845.9" y="329.1" width="0.9" height="0.9" fill="#333"/>
<rect x="829.8" y="309.2" width="0.9" height="0.9" fill="#333"/>
<line x1="899.3" y1="342.6" x2="905.8" y2="335.3" stroke="#000" stroke-width="1.1"/>
<line x1="912.3" y1="334.6" x2="921.2" y2="324.0" stroke="#000" stroke-width="0.7"/>
<line x1="902.3" y1="317.8" x2="913.0" y2="305.3" stroke="#000" stroke-width="0.7"/>
<line x1="907.5" y1="337.1" x2="913.1" y2="329.8" stroke="#000" stroke-width="1.1"/>
<line x1="912.0" y1="302.6" x2="916.2" y2="297.3" stroke="#000" stroke-width="0.9"/>
<line x1="901.1" y1="301.5" x2="909.4" y2="291.3" stroke="#000" stroke-width="0.9"/>
<line x1="918.1" y1="333.2" x2="926.6" y2="322.7" stroke="#000" stroke-width="1.1"/>
<line x1="930.7" y1="283.9" x2="941.1" y2="271.5" stroke="#000" stroke-width="1.1"/>
<line x1="908.8" y1="340.6" x2="913.5" y2="335.1" stroke="#000" stroke-width="0.7"/>
<line x1="928.6" y1="319.9" x2="940.1" y2="307.0" stroke="#000" stroke-width="1.1"/>
<line x1="910.0" y1="324.8" x2="923.7" y2="309.7" stroke="#000" stroke-width="1.3"/>
<line x1="930.1" y1="284.6" x2="938.5" y2="273.5" stroke="#000" stroke-width="1.3"/>
<line x1="910.9" y1="291.5" x2="915.3" y2="285.8" stroke="#000" stroke-width="0.7"/>
<line x1="931.8" y1="325.6" x2="943.0" y2="311.9" stroke="#000" stroke-width="1.3"/>
<line x1="913.0" y1="331.1" x2="917.8" y2="325.6" stroke="#000" stroke-width="0.7"/>
<line x1="908.5" y1="296.1" x2="912.9" y2="291.4" stroke="#000" stroke-width="0.7"/>
<line x1="914.9" y1="319.3" x2="927.8" y2="303.1" stroke="#000" stroke-width="0.7"/>
<line x1="910.5" y1="298.0" x2="920.7" y2="285.9" stroke="#000" stroke-width="1.1"/>
<line x1="920.4" y1="308.7" x2="933.2" y2="292.9" stroke="#000" stroke-width="1.1"/>
<line x1="904.7" y1="314.4" x2="917.5" y2="300.5" stroke="#000" stroke-width="0.9"/>
<line x1="911.1" y1="319.3" x2="917.9" y2="310.6" stroke="#000" stroke-width="1.3"/>
<line x1="909.9" y1="335.1" x2="914.0" y2="329.8" stroke="#000" stroke-width="1.1"/>
<line x1="925.9" y1="290.4" x2="935.1" y2="280.4" stroke="#000" stroke-width="1.3"/>
<line x1="911.0" y1="316.3" x2="922.1" y2="303.7" stroke="#000" stroke-width="1.3"/>
<line x1="908.9" y1="332.3" x2="915.7" y2="324.3" stroke="#000" stroke-width="1.1"/>
<line x1="917.4" y1="303.4" x2="928.7" y2="288.5" stroke="#000" stroke-width="0.9"/>
<line x1="916" y1="272" x2="927" y2="262" stroke="#000" stroke-width="2.0"/>
<line x1="906" y1="262" x2="913" y2="255" stroke="#000" stroke-width="1.6"/>
<line x1="921" y1="283" x2="938" y2="268" stroke="#000" stroke-width="1.2"/>
<line x1="925" y1="292" x2="944" y2="276" stroke="#000" stroke-width="1.0"/>
<rect x="919.2" y="307.6" width="0.9" height="0.9" fill="#222"/>
<rect x="931.9" y="310.7" width="0.9" height="0.9" fill="#222"/>
<rect x="932.3" y="331.9" width="0.9" height="0.9" fill="#222"/>
<rect x="939.4" y="304.6" width="0.9" height="0.9" fill="#222"/>
<rect x="908.8" y="321.4" width="0.9" height="0.9" fill="#222"/>
<rect x="927.4" y="314.7" width="0.9" height="0.9" fill="#222"/>
<rect x="907.7" y="307.9" width="0.9" height="0.9" fill="#222"/>
<rect x="933.8" y="310.2" width="0.9" height="0.9" fill="#222"/>
<rect x="930.0" y="330.2" width="0.9" height="0.9" fill="#222"/>
<rect x="923.7" y="301.4" width="0.9" height="0.9" fill="#222"/>
<rect x="912.9" y="331.1" width="0.9" height="0.9" fill="#222"/>
<rect x="923.9" y="337.9" width="0.9" height="0.9" fill="#222"/>
<rect x="922.5" y="339.9" width="0.9" height="0.9" fill="#222"/>
<rect x="910.6" y="334.0" width="0.9" height="0.9" fill="#222"/>
<rect x="929.5" y="309.0" width="0.9" height="0.9" fill="#222"/>
<rect x="919.4" y="335.7" width="0.9" height="0.9" fill="#222"/>
<rect x="918.6" y="318.0" width="0.9" height="0.9" fill="#222"/>
<rect x="911.9" y="335.5" width="0.9" height="0.9" fill="#222"/>
<rect x="905.2" y="322.0" width="0.9" height="0.9" fill="#222"/>
<rect x="927.8" y="320.1" width="0.9" height="0.9" fill="#222"/>
<rect x="933.7" y="313.7" width="0.9" height="0.9" fill="#222"/>
<rect x="916.4" y="339.3" width="0.9" height="0.9" fill="#222"/>
<rect x="908.5" y="334.6" width="0.9" height="0.9" fill="#222"/>
<rect x="932.9" y="337.0" width="0.9" height="0.9" fill="#222"/>
<rect x="909.3" y="309.7" width="0.9" height="0.9" fill="#222"/>
<rect x="918.7" y="303.5" width="0.9" height="0.9" fill="#222"/>
<rect x="915.8" y="339.1" width="0.9" height="0.9" fill="#222"/>
<rect x="937.6" y="310.5" width="0.9" height="0.9" fill="#222"/>
<rect x="930.1" y="300.6" width="0.9" height="0.9" fill="#222"/>
<rect x="922.7" y="301.5" width="0.9" height="0.9" fill="#222"/>
<path d="M930 266 L935 261 L939 265 L935 271 Z" fill="#000"/>
<line x1="847.5" y1="342" x2="847.5" y2="356" stroke="#000" stroke-width="1.1"/>
<line x1="850" y1="340" x2="850" y2="360" stroke="#000" stroke-width="1.3"/>
<line x1="852.5" y1="343" x2="852.5" y2="358" stroke="#000" stroke-width="1.0"/>
<line x1="855.5" y1="341" x2="855.5" y2="357" stroke="#000" stroke-width="0.9"/>
<line x1="858" y1="344" x2="858" y2="362" stroke="#000" stroke-width="0.8"/>
<line x1="898" y1="310" x2="898" y2="358" stroke="#000" stroke-width="1.3"/>
<line x1="901" y1="322" x2="901" y2="361" stroke="#000" stroke-width="1.0"/>
<line x1="904" y1="336" x2="904" y2="356" stroke="#000" stroke-width="0.9"/>
<line x1="906" y1="345" x2="906" y2="354" stroke="#000" stroke-width="0.8"/>
<g transform="translate(912 298) rotate(32)"><rect x="-10" y="-7.5" width="20" height="15" rx="2" fill="#000" stroke="#fff" stroke-width="0.8"/><circle cx="0" cy="0" r="3.5" fill="none" stroke="#fff" stroke-width="1"/><circle cx="0" cy="0" r="1.2" fill="#fff"/></g>
<path d="M829 376.3 Q876 374 924 376.3 Q876 378.8 829 376.3 Z" fill="#000"/>
<path d="M861.5 298 L878.2 298 L876.8 370 Q876 375.5 871 375.5 Q866 375.5 865.5 370 Z" fill="#000" stroke="#fff" stroke-width="1"/>
<path d="M879.5 298 L896 298 L891.8 370 Q891 375.5 886 375.5 Q881 375.5 880.8 370 Z" fill="#000" stroke="#fff" stroke-width="1"/>
<line x1="870" y1="310" x2="870" y2="360" stroke="#666" stroke-width="0.6"/>
<line x1="886" y1="310" x2="886" y2="360" stroke="#666" stroke-width="0.6"/>
<path d="M870 236 L858 243 Q853 246 853 255 L849.5 292 L856 292 L858 300 L899 300 L899 262 L902 268 Q909 272 913 262 L915 250 L903 249 L899 244 L887 237 Z" fill="#000" stroke="#fff" stroke-width="1"/>
<path d="M862.5 256 Q861 275 859.5 291" fill="none" stroke="#fff" stroke-width="0.9"/>
<path d="M897 256 Q899 262 899.5 268" fill="none" stroke="#fff" stroke-width="0.8"/>
<line x1="849.5" y1="291" x2="857" y2="292" stroke="#fff" stroke-width="1"/>
<path d="M850 292 L857 293 L857 301 L850 300 Z" fill="#000"/>
<path d="M872.5 236.5 L885.5 236.5 L879.5 264 Z" fill="#fff"/>
<path d="M876.5 239 L881 239 L882 262 L879 266 L876 262 Z" fill="#000"/>
<line x1="876.5" y1="246" x2="881.5" y2="243.5" stroke="#fff" stroke-width="0.7"/>
<line x1="876.5" y1="251" x2="881.5" y2="248.5" stroke="#fff" stroke-width="0.7"/>
<line x1="876.5" y1="256" x2="881.5" y2="253.5" stroke="#fff" stroke-width="0.7"/>
<path d="M871.5 237 L868 250 L879.5 266 M886.5 237 L890.5 250 L879.5 266" fill="none" stroke="#fff" stroke-width="1"/>
<line x1="888" y1="252" x2="892" y2="252" stroke="#fff" stroke-width="1"/>
<line x1="864" y1="287" x2="871" y2="287" stroke="#fff" stroke-width="1.1"/>
<line x1="884" y1="287" x2="891.5" y2="287" stroke="#fff" stroke-width="1.1"/>
<circle cx="877.5" cy="277.7" r="1" fill="#fff"/>
<line x1="879" y1="270" x2="879" y2="300" stroke="#fff" stroke-width="0.6"/>
<path d="M902 250 Q908 253 915 250" fill="none" stroke="#fff" stroke-width="1"/>
<rect x="903.2" y="232.8" width="11.3" height="18" rx="1.5" fill="#000" stroke="#fff" stroke-width="1"/>
<rect x="873" y="230" width="10" height="8" fill="#000"/>
<circle cx="878.2" cy="219.1" r="12.9" fill="#000"/>
<path d="M870 211 Q874 206.5 881 207" fill="none" stroke="#fff" stroke-width="1"/>
<path d="M848 303 L849.5 296 L855.5 297.5 L855 305" fill="none" stroke="#000" stroke-width="2.2"/>
<path d="M836.6 300.8 L867.2 313 L859.9 342.3 L834.2 328.9 Z" fill="#000" stroke="#fff" stroke-width="1.2" stroke-linejoin="round"/>
<path d="M862 311 L867.2 313 L859.9 342.3 L856 340 Z" fill="#000" stroke="#fff" stroke-width="0.8"/>
<line x1="838" y1="303.5" x2="864" y2="313.5" stroke="#fff" stroke-width="0.7" stroke-dasharray="1 0.8"/>
<rect x="845" y="320" width="3.5" height="4.5" fill="#fff" transform="rotate(20 846 322)"/>
<line x1="849" y1="323" x2="855" y2="325.5" stroke="#fff" stroke-width="0.6" stroke-dasharray="1 1"/>
<path d="M848 288 L857 290 L857.5 298 L849 297 Z" fill="#000" stroke="#fff" stroke-width="0.8"/></g>
<g stroke="#000" stroke-width="2.8" stroke-linecap="round">
<line x1="182.3" y1="100.8" x2="203.3" y2="137.0"/>
<line x1="365.4" y1="113.8" x2="340.1" y2="141.7"/>
<line x1="362.4" y1="203.1" x2="388.8" y2="196.5"/>
<line x1="176.0" y1="233.8" x2="206.3" y2="229.2"/>
<line x1="360.0" y1="310.2" x2="406.1" y2="297.6"/>
<line x1="124.7" y1="349.0" x2="189.5" y2="316.8"/>
<line x1="152.1" y1="427.6" x2="183.7" y2="401.6"/>
<line x1="274.8" y1="407.3" x2="293.2" y2="434.0"/>
<line x1="909.5" y1="138.1" x2="896.5" y2="175.5"/>
<line x1="759.3" y1="194.6" x2="799.7" y2="214.4"/>
<line x1="771.9" y1="312.3" x2="800.3" y2="290.6"/>
<line x1="959.7" y1="246.9" x2="947.1" y2="258.8"/>
<line x1="927.2" y1="342.4" x2="954.0" y2="349.4"/>
<line x1="888.1" y1="382.5" x2="912.9" y2="404.4"/>
</g>
<g stroke="#000" stroke-width="5" stroke-linecap="round" fill="none" stroke-linejoin="round">
<path d="M516.5 240.4 L671 239.4 M625.8 192.1 L671.2 238.8 L631.1 282.7"/>
</g>
<text x="236.62" y="36.90" font-size="16.31" textLength="86.18" lengthAdjust="spacingAndGlyphs">Version 1.0</text>
<text x="261.20" y="63.00" font-size="16.74" textLength="27.60" lengthAdjust="spacingAndGlyphs">You</text>
<text x="140.95" y="89.90" font-size="12.48" textLength="80.35" lengthAdjust="spacingAndGlyphs">Unmotivated</text>
<text x="316.03" y="107.10" font-size="12.77" textLength="106.27" lengthAdjust="spacingAndGlyphs">Lacking resources</text>
<text x="401.06" y="193.70" font-size="12.34" textLength="65.24" lengthAdjust="spacingAndGlyphs">Bad Habits</text>
<text x="15.94" y="235.90" font-size="12.62" textLength="152.36" lengthAdjust="spacingAndGlyphs">Lacking Skills/Knowledge</text>
<clipPath id="clip6"><rect x="0" y="0" width="471.6" height="491"/></clipPath>
<text x="414.21" y="298.70" font-size="11.49" textLength="60.29" lengthAdjust="spacingAndGlyphs" clip-path="url(#clip6)">Burnt Out</text>
<text x="63.07" y="356.80" font-size="12.20" textLength="38.73" lengthAdjust="spacingAndGlyphs">Weary</text>
<text x="102.67" y="444.90" font-size="12.20" textLength="34.23" lengthAdjust="spacingAndGlyphs">Weak</text>
<text x="274.24" y="451.30" font-size="11.06" textLength="57.16" lengthAdjust="spacingAndGlyphs">Ashamed</text>
<text x="833.34" y="46.70" font-size="16.03" textLength="85.96" lengthAdjust="spacingAndGlyphs">Version 2.0</text>
<text x="858.26" y="69.30" font-size="15.61" textLength="27.64" lengthAdjust="spacingAndGlyphs">You</text>
<text x="840.36" y="123.80" font-size="12.34" textLength="147.44" lengthAdjust="spacingAndGlyphs">Balanced/Well Rounded</text>
<text x="689.26" y="185.60" font-size="12.34" textLength="63.54" lengthAdjust="spacingAndGlyphs">Motivated</text>
<text x="666.43" y="318.60" font-size="12.91" textLength="89.27" lengthAdjust="spacingAndGlyphs">Self-actualized</text>
<text x="961.50" y="246.50" font-size="11.63" textLength="40.40" lengthAdjust="spacingAndGlyphs">Strong</text>
<text x="963.98" y="355.70" font-size="12.06" textLength="73.12" lengthAdjust="spacingAndGlyphs">Empowered</text>
<text x="901.09" y="423.60" font-size="11.77" textLength="36.41" lengthAdjust="spacingAndGlyphs">Proud</text>
</svg>
</body></html>
